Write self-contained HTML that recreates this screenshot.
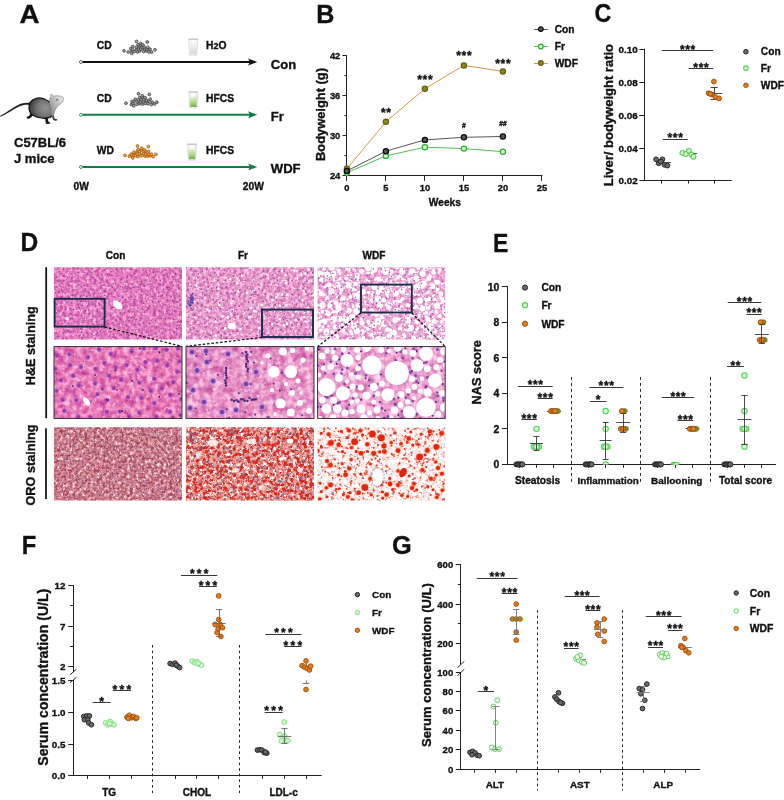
<!DOCTYPE html>
<html><head><meta charset="utf-8"><title>Figure</title>
<style>html,body{margin:0;padding:0;background:#fff}svg{display:block;opacity:.9999}text{font-family:"Liberation Sans",sans-serif;stroke:#111;stroke-width:.34px}</style>
</head><body>
<svg width="784" height="800" viewBox="0 0 784 800">
<defs>
<linearGradient id="gl" x1="0" y1="0" x2="1" y2="0"><stop offset="0" stop-color="#ececec"/><stop offset=".5" stop-color="#ffffff"/><stop offset="1" stop-color="#e6e6e6"/></linearGradient>
<linearGradient id="gw" x1="0" y1="0" x2="0" y2="1"><stop offset="0" stop-color="#f6f6f6"/><stop offset="1" stop-color="#d9d9d9"/></linearGradient>
<linearGradient id="gg" x1="0" y1="0" x2="0" y2="1"><stop offset="0" stop-color="#e6f2dc"/><stop offset=".5" stop-color="#b5d995"/><stop offset="1" stop-color="#74b042"/></linearGradient>
<radialGradient id="mb" cx=".72" cy=".5" r=".75"><stop offset="0" stop-color="#949494"/><stop offset=".5" stop-color="#747474"/><stop offset="1" stop-color="#303030"/></radialGradient>
<linearGradient id="mh" x1="0" y1="1" x2="1" y2="0"><stop offset="0" stop-color="#7a7a7a"/><stop offset=".5" stop-color="#b4b4b4"/><stop offset="1" stop-color="#f4f4f4"/></linearGradient>
<filter id="sb" x="-5%" y="-5%" width="110%" height="110%"><feGaussianBlur stdDeviation="0.4"/></filter>
<filter id="t1" x="0" y="0" width="100%" height="100%" color-interpolation-filters="sRGB"><feTurbulence type="fractalNoise" baseFrequency="0.3" numOctaves="3" seed="3" result="t"/><feColorMatrix in="t" type="matrix" values="1 0 0 0 0 0 1 0 0 0 0 0 1 0 0 0 0 0 0 1" result="n"/><feColorMatrix in="n" type="matrix" values="0.400 0.000 0.000 0 0.686 0.620 0.000 0.000 0 0.176 0.400 0.000 0.000 0 0.537 0 0 0 0 1" result="L0"/><feColorMatrix in="n" type="matrix" values="0 0 0 0 0.973 0 0 0 0 0.812 0 0 0 0 0.914 0 0 6 0 -3.660" result="M0"/><feComponentTransfer in="M0" result="M0"><feFuncA type="linear" slope="0.8"/></feComponentTransfer><feMerge><feMergeNode in="L0"/><feMergeNode in="M0"/></feMerge><feGaussianBlur stdDeviation="0.3"/></filter>
<filter id="t2" x="0" y="0" width="100%" height="100%" color-interpolation-filters="sRGB"><feTurbulence type="fractalNoise" baseFrequency="0.3" numOctaves="3" seed="8" result="t"/><feColorMatrix in="t" type="matrix" values="1 0 0 0 0 0 1 0 0 0 0 0 1 0 0 0 0 0 0 1" result="n"/><feColorMatrix in="n" type="matrix" values="0.400 0.000 0.000 0 0.702 0.600 0.000 0.000 0 0.292 0.400 0.000 0.000 0 0.588 0 0 0 0 1" result="L0"/><feColorMatrix in="n" type="matrix" values="0 0 0 0 0.988 0 0 0 0 0.902 0 0 0 0 0.957 0 0 6 0 -3.480" result="M0"/><feComponentTransfer in="M0" result="M0"><feFuncA type="linear" slope="0.9"/></feComponentTransfer><feMerge><feMergeNode in="L0"/><feMergeNode in="M0"/></feMerge><feGaussianBlur stdDeviation="0.3"/></filter>
<filter id="t3" x="0" y="0" width="100%" height="100%" color-interpolation-filters="sRGB"><feTurbulence type="fractalNoise" baseFrequency="0.28" numOctaves="3" seed="12" result="t"/><feColorMatrix in="t" type="matrix" values="1 0 0 0 0 0 1 0 0 0 0 0 1 0 0 0 0 0 0 1" result="n"/><feColorMatrix in="n" type="matrix" values="0.350 0.000 0.000 0 0.743 0.550 0.000 0.000 0 0.352 0.350 0.000 0.000 0 0.641 0 0 0 0 1" result="L0"/><feColorMatrix in="n" type="matrix" values="0 0 0 0 1.000 0 0 0 0 1.000 0 0 0 0 1.000 0 0 7 0 -3.920" result="M0"/><feMerge><feMergeNode in="L0"/><feMergeNode in="M0"/></feMerge><feGaussianBlur stdDeviation="0.3"/></filter>
<filter id="t4" x="0" y="0" width="100%" height="100%" color-interpolation-filters="sRGB"><feTurbulence type="fractalNoise" baseFrequency="0.17" numOctaves="3" seed="21" result="t"/><feColorMatrix in="t" type="matrix" values="1 0 0 0 0 0 1 0 0 0 0 0 1 0 0 0 0 0 0 1" result="n"/><feColorMatrix in="n" type="matrix" values="0.400 0.000 0.000 0 0.694 0.750 0.000 0.000 0 0.092 0.450 0.000 0.000 0 0.489 0 0 0 0 1" result="L0"/><feColorMatrix in="n" type="matrix" values="0 0 0 0 0.969 0 0 0 0 0.749 0 0 0 0 0.878 0 0 6 0 -3.540" result="M0"/><feComponentTransfer in="M0" result="M0"><feFuncA type="linear" slope="0.8"/></feComponentTransfer><feMerge><feMergeNode in="L0"/><feMergeNode in="M0"/></feMerge><feGaussianBlur stdDeviation="0.4"/></filter>
<filter id="t5" x="0" y="0" width="100%" height="100%" color-interpolation-filters="sRGB"><feTurbulence type="fractalNoise" baseFrequency="0.15" numOctaves="3" seed="33" result="t"/><feColorMatrix in="t" type="matrix" values="1 0 0 0 0 0 1 0 0 0 0 0 1 0 0 0 0 0 0 1" result="n"/><feColorMatrix in="n" type="matrix" values="0.400 0.000 0.000 0 0.698 0.750 0.000 0.000 0 0.186 0.450 0.000 0.000 0 0.544 0 0 0 0 1" result="L0"/><feColorMatrix in="n" type="matrix" values="0 0 0 0 0.976 0 0 0 0 0.827 0 0 0 0 0.918 0 0 6 0 -3.540" result="M0"/><feComponentTransfer in="M0" result="M0"><feFuncA type="linear" slope="0.85"/></feComponentTransfer><feMerge><feMergeNode in="L0"/><feMergeNode in="M0"/></feMerge><feGaussianBlur stdDeviation="0.4"/></filter>
<filter id="t6" x="0" y="0" width="100%" height="100%" color-interpolation-filters="sRGB"><feTurbulence type="fractalNoise" baseFrequency="0.16" numOctaves="3" seed="41" result="t"/><feColorMatrix in="t" type="matrix" values="1 0 0 0 0 0 1 0 0 0 0 0 1 0 0 0 0 0 0 1" result="n"/><feColorMatrix in="n" type="matrix" values="0.400 0.000 0.000 0 0.722 0.700 0.000 0.000 0 0.262 0.450 0.000 0.000 0 0.579 0 0 0 0 1" result="L0"/><feColorMatrix in="n" type="matrix" values="0 0 0 0 0.980 0 0 0 0 0.847 0 0 0 0 0.925 0 0 6 0 -3.540" result="M0"/><feComponentTransfer in="M0" result="M0"><feFuncA type="linear" slope="0.85"/></feComponentTransfer><feMerge><feMergeNode in="L0"/><feMergeNode in="M0"/></feMerge><feGaussianBlur stdDeviation="0.4"/></filter>
<filter id="t7" x="0" y="0" width="100%" height="100%" color-interpolation-filters="sRGB"><feTurbulence type="fractalNoise" baseFrequency="0.33" numOctaves="3" seed="51" result="t"/><feColorMatrix in="t" type="matrix" values="1 0 0 0 0 0 1 0 0 0 0 0 1 0 0 0 0 0 0 1" result="n"/><feColorMatrix in="n" type="matrix" values="0.500 0.000 0.000 0 0.577 0.750 0.000 0.000 0 0.166 0.600 0.000 0.000 0 0.288 0 0 0 0 1" result="L0"/><feColorMatrix in="n" type="matrix" values="0 0 0 0 0.612 0 0 0 0 0.220 0 0 0 0 0.314 0 6 0 0 -3.300" result="M0"/><feComponentTransfer in="M0" result="M0"><feFuncA type="linear" slope="0.8"/></feComponentTransfer><feColorMatrix in="n" type="matrix" values="0 0 0 0 0.486 0 0 0 0 0.353 0 0 0 0 0.565 0 0 7 0 -4.410" result="M1"/><feComponentTransfer in="M1" result="M1"><feFuncA type="linear" slope="0.65"/></feComponentTransfer><feColorMatrix in="n" type="matrix" values="0 0 0 0 0.980 0 0 0 0 0.894 0 0 0 0 0.902 7 0 0 0 -4.410" result="M2"/><feComponentTransfer in="M2" result="M2"><feFuncA type="linear" slope="0.9"/></feComponentTransfer><feMerge><feMergeNode in="L0"/><feMergeNode in="M0"/><feMergeNode in="M1"/><feMergeNode in="M2"/></feMerge><feGaussianBlur stdDeviation="0.3"/></filter>
<filter id="t8" x="0" y="0" width="100%" height="100%" color-interpolation-filters="sRGB"><feTurbulence type="fractalNoise" baseFrequency="0.3" numOctaves="3" seed="61" result="t"/><feColorMatrix in="t" type="matrix" values="1 0 0 0 0 0 1 0 0 0 0 0 1 0 0 0 0 0 0 1" result="n"/><feColorMatrix in="n" type="matrix" values="0.300 0.000 0.000 0 0.779 0.700 0.000 0.000 0 0.301 0.700 0.000 0.000 0 0.270 0 0 0 0 1" result="L0"/><feColorMatrix in="n" type="matrix" values="0 0 0 0 0.839 0 0 0 0 0.149 0 0 0 0 0.106 0 7 0 0 -3.535" result="M0"/><feComponentTransfer in="M0" result="M0"><feFuncA type="linear" slope="0.95"/></feComponentTransfer><feColorMatrix in="n" type="matrix" values="0 0 0 0 0.478 0 0 0 0 0.290 0 0 0 0 0.471 0 0 7 0 -4.200" result="M1"/><feComponentTransfer in="M1" result="M1"><feFuncA type="linear" slope="0.75"/></feComponentTransfer><feColorMatrix in="n" type="matrix" values="0 0 0 0 1.000 0 0 0 0 1.000 0 0 0 0 1.000 7 0 0 0 -4.130" result="M2"/><feMerge><feMergeNode in="L0"/><feMergeNode in="M0"/><feMergeNode in="M1"/><feMergeNode in="M2"/></feMerge><feGaussianBlur stdDeviation="0.3"/></filter>
<filter id="t9" x="0" y="0" width="100%" height="100%" color-interpolation-filters="sRGB"><feTurbulence type="fractalNoise" baseFrequency="0.26" numOctaves="3" seed="71" result="t"/><feColorMatrix in="t" type="matrix" values="1 0 0 0 0 0 1 0 0 0 0 0 1 0 0 0 0 0 0 1" result="n"/><feColorMatrix in="n" type="matrix" values="0.060 0.000 0.000 0 0.962 0.220 0.000 0.000 0 0.823 0.220 0.000 0.000 0 0.808 0 0 0 0 1" result="L0"/><feColorMatrix in="n" type="matrix" values="0 0 0 0 0.541 0 0 0 0 0.502 0 0 0 0 0.667 0 0 7 0 -4.480" result="M0"/><feComponentTransfer in="M0" result="M0"><feFuncA type="linear" slope="0.7"/></feComponentTransfer><feColorMatrix in="n" type="matrix" values="0 0 0 0 0.933 0 0 0 0 0.290 0 0 0 0 0.173 0 7 0 0 -4.130" result="M1"/><feComponentTransfer in="M1" result="M1"><feFuncA type="linear" slope="0.9"/></feComponentTransfer><feColorMatrix in="n" type="matrix" values="0 0 0 0 1.000 0 0 0 0 1.000 0 0 0 0 1.000 7 0 0 0 -3.640" result="M2"/><feMerge><feMergeNode in="L0"/><feMergeNode in="M0"/><feMergeNode in="M1"/><feMergeNode in="M2"/></feMerge><feGaussianBlur stdDeviation="0.3"/></filter>

</defs>
<rect width="784" height="800" fill="#fff"/>
<text transform="translate(19.6 22.8) scale(1.05 1)" font-size="26.4" font-weight="bold" fill="#111" stroke="#111" stroke-width="0.35">A</text>
<line x1="82.5" y1="62" x2="250" y2="62" stroke="#111" stroke-width="1.9"/>
<path d="M257.3 62L248 58.4L250 62L248 65.6Z" fill="#111"/>
<circle cx="81" cy="62" r="1.5" fill="#fff" stroke="#444" stroke-width="0.8"/>
<line x1="82.5" y1="114.8" x2="250" y2="114.8" stroke="#0f8148" stroke-width="1.9"/>
<path d="M257.3 114.8L248 111.2L250 114.8L248 118.4Z" fill="#0f8148"/>
<circle cx="81" cy="114.8" r="1.5" fill="#fff" stroke="#0f8148" stroke-width="0.8"/>
<line x1="82.5" y1="167" x2="250" y2="167" stroke="#0f8148" stroke-width="1.9"/>
<path d="M257.3 167L248 163.4L250 167L248 170.6Z" fill="#0f8148"/>
<circle cx="81" cy="167" r="1.5" fill="#fff" stroke="#0f8148" stroke-width="0.8"/>
<text x="96.8" y="49.2" font-size="10.3" text-anchor="start" fill="#111" font-weight="bold">CD</text>
<text x="96.8" y="101.6" font-size="10.3" text-anchor="start" fill="#111" font-weight="bold">CD</text>
<text x="96.8" y="154.2" font-size="10.3" text-anchor="start" fill="#111" font-weight="bold">WD</text>
<text x="206" y="49.2" font-size="10.3" text-anchor="start" fill="#111" font-weight="bold">H<tspan font-size="9">2</tspan>O</text>
<text x="206" y="101.7" font-size="10.3" text-anchor="start" fill="#111" font-weight="bold">HFCS</text>
<text x="206" y="154.3" font-size="10.3" text-anchor="start" fill="#111" font-weight="bold">HFCS</text>
<text x="270.8" y="69" font-size="13.1" text-anchor="start" fill="#111" font-weight="bold">Con</text>
<text x="270.8" y="121.3" font-size="13.1" text-anchor="start" fill="#111" font-weight="bold">Fr</text>
<text x="270.8" y="173.3" font-size="13.1" text-anchor="start" fill="#111" font-weight="bold">WDF</text>
<text x="73.5" y="190.4" font-size="10.2" text-anchor="start" fill="#111" font-weight="bold">0W</text>
<text x="242.8" y="190.4" font-size="10.2" text-anchor="start" fill="#111" font-weight="bold">20W</text>
<text x="14" y="146.9" font-size="13.0" text-anchor="start" fill="#111" font-weight="bold">C57BL/6</text>
<text x="14" y="162.8" font-size="13.0" text-anchor="start" fill="#111" font-weight="bold">J mice</text>
<circle cx="128.19" cy="52.02" r="1.45" fill="#858585" stroke="#383838" stroke-width="0.6"/>
<circle cx="127.99" cy="51.82" r="0.6" fill="#d8d8d8" fill-opacity=".55"/>
<circle cx="131.97" cy="51.31" r="1.45" fill="#858585" stroke="#383838" stroke-width="0.6"/>
<circle cx="131.77" cy="51.11" r="0.6" fill="#d8d8d8" fill-opacity=".55"/>
<circle cx="134.49" cy="51.54" r="1.45" fill="#858585" stroke="#383838" stroke-width="0.6"/>
<circle cx="134.29" cy="51.34" r="0.6" fill="#d8d8d8" fill-opacity=".55"/>
<circle cx="137.61" cy="51.95" r="1.45" fill="#858585" stroke="#383838" stroke-width="0.6"/>
<circle cx="137.41" cy="51.75" r="0.6" fill="#d8d8d8" fill-opacity=".55"/>
<circle cx="139.73" cy="51.03" r="1.45" fill="#858585" stroke="#383838" stroke-width="0.6"/>
<circle cx="139.53" cy="50.83" r="0.6" fill="#d8d8d8" fill-opacity=".55"/>
<circle cx="143.67" cy="51.52" r="1.45" fill="#858585" stroke="#383838" stroke-width="0.6"/>
<circle cx="143.47" cy="51.32" r="0.6" fill="#d8d8d8" fill-opacity=".55"/>
<circle cx="146.47" cy="51" r="1.45" fill="#858585" stroke="#383838" stroke-width="0.6"/>
<circle cx="146.27" cy="50.8" r="0.6" fill="#d8d8d8" fill-opacity=".55"/>
<circle cx="148.92" cy="51.87" r="1.45" fill="#858585" stroke="#383838" stroke-width="0.6"/>
<circle cx="148.72" cy="51.67" r="0.6" fill="#d8d8d8" fill-opacity=".55"/>
<circle cx="151.52" cy="52.13" r="1.45" fill="#858585" stroke="#383838" stroke-width="0.6"/>
<circle cx="151.32" cy="51.93" r="0.6" fill="#d8d8d8" fill-opacity=".55"/>
<circle cx="130.71" cy="48.74" r="1.45" fill="#858585" stroke="#383838" stroke-width="0.6"/>
<circle cx="130.51" cy="48.54" r="0.6" fill="#d8d8d8" fill-opacity=".55"/>
<circle cx="132.39" cy="49.35" r="1.45" fill="#858585" stroke="#383838" stroke-width="0.6"/>
<circle cx="132.19" cy="49.15" r="0.6" fill="#d8d8d8" fill-opacity=".55"/>
<circle cx="136.56" cy="49.16" r="1.45" fill="#858585" stroke="#383838" stroke-width="0.6"/>
<circle cx="136.36" cy="48.96" r="0.6" fill="#d8d8d8" fill-opacity=".55"/>
<circle cx="138.45" cy="49.21" r="1.45" fill="#858585" stroke="#383838" stroke-width="0.6"/>
<circle cx="138.25" cy="49.01" r="0.6" fill="#d8d8d8" fill-opacity=".55"/>
<circle cx="141.09" cy="48.97" r="1.45" fill="#858585" stroke="#383838" stroke-width="0.6"/>
<circle cx="140.89" cy="48.77" r="0.6" fill="#d8d8d8" fill-opacity=".55"/>
<circle cx="144.56" cy="49.29" r="1.45" fill="#858585" stroke="#383838" stroke-width="0.6"/>
<circle cx="144.36" cy="49.09" r="0.6" fill="#d8d8d8" fill-opacity=".55"/>
<circle cx="147.18" cy="48.98" r="1.45" fill="#858585" stroke="#383838" stroke-width="0.6"/>
<circle cx="146.98" cy="48.78" r="0.6" fill="#d8d8d8" fill-opacity=".55"/>
<circle cx="150.06" cy="49.25" r="1.45" fill="#858585" stroke="#383838" stroke-width="0.6"/>
<circle cx="149.86" cy="49.05" r="0.6" fill="#d8d8d8" fill-opacity=".55"/>
<circle cx="132.76" cy="46.53" r="1.45" fill="#858585" stroke="#383838" stroke-width="0.6"/>
<circle cx="132.56" cy="46.33" r="0.6" fill="#d8d8d8" fill-opacity=".55"/>
<circle cx="136.42" cy="47.17" r="1.45" fill="#858585" stroke="#383838" stroke-width="0.6"/>
<circle cx="136.22" cy="46.97" r="0.6" fill="#d8d8d8" fill-opacity=".55"/>
<circle cx="139.05" cy="46.72" r="1.45" fill="#858585" stroke="#383838" stroke-width="0.6"/>
<circle cx="138.85" cy="46.52" r="0.6" fill="#d8d8d8" fill-opacity=".55"/>
<circle cx="142.44" cy="47.53" r="1.45" fill="#858585" stroke="#383838" stroke-width="0.6"/>
<circle cx="142.24" cy="47.33" r="0.6" fill="#d8d8d8" fill-opacity=".55"/>
<circle cx="144.12" cy="46.9" r="1.45" fill="#858585" stroke="#383838" stroke-width="0.6"/>
<circle cx="143.92" cy="46.7" r="0.6" fill="#d8d8d8" fill-opacity=".55"/>
<circle cx="147.86" cy="47.35" r="1.45" fill="#858585" stroke="#383838" stroke-width="0.6"/>
<circle cx="147.66" cy="47.15" r="0.6" fill="#d8d8d8" fill-opacity=".55"/>
<circle cx="138.01" cy="44.81" r="1.45" fill="#858585" stroke="#383838" stroke-width="0.6"/>
<circle cx="137.81" cy="44.61" r="0.6" fill="#d8d8d8" fill-opacity=".55"/>
<circle cx="140.76" cy="45.1" r="1.45" fill="#858585" stroke="#383838" stroke-width="0.6"/>
<circle cx="140.56" cy="44.9" r="0.6" fill="#d8d8d8" fill-opacity=".55"/>
<circle cx="142.92" cy="45.01" r="1.45" fill="#858585" stroke="#383838" stroke-width="0.6"/>
<circle cx="142.72" cy="44.81" r="0.6" fill="#d8d8d8" fill-opacity=".55"/>
<circle cx="140.84" cy="43.42" r="1.45" fill="#858585" stroke="#383838" stroke-width="0.6"/>
<circle cx="140.64" cy="43.22" r="0.6" fill="#d8d8d8" fill-opacity=".55"/>
<circle cx="124" cy="50.8" r="1.45" fill="#858585" stroke="#383838" stroke-width="0.6"/>
<circle cx="123.8" cy="50.6" r="0.6" fill="#d8d8d8" fill-opacity=".55"/>
<circle cx="154.9" cy="49.8" r="1.45" fill="#858585" stroke="#383838" stroke-width="0.6"/>
<circle cx="154.7" cy="49.6" r="0.6" fill="#d8d8d8" fill-opacity=".55"/>
<circle cx="131.8" cy="53.4" r="1.45" fill="#858585" stroke="#383838" stroke-width="0.6"/>
<circle cx="131.6" cy="53.2" r="0.6" fill="#d8d8d8" fill-opacity=".55"/>
<circle cx="136.5" cy="41.4" r="1.45" fill="#858585" stroke="#383838" stroke-width="0.6"/>
<circle cx="136.3" cy="41.2" r="0.6" fill="#d8d8d8" fill-opacity=".55"/>
<circle cx="147.3" cy="42" r="1.45" fill="#858585" stroke="#383838" stroke-width="0.6"/>
<circle cx="147.1" cy="41.8" r="0.6" fill="#d8d8d8" fill-opacity=".55"/>
<circle cx="131.34" cy="104.54" r="1.45" fill="#858585" stroke="#383838" stroke-width="0.6"/>
<circle cx="131.14" cy="104.34" r="0.6" fill="#d8d8d8" fill-opacity=".55"/>
<circle cx="132.98" cy="103.5" r="1.45" fill="#858585" stroke="#383838" stroke-width="0.6"/>
<circle cx="132.78" cy="103.3" r="0.6" fill="#d8d8d8" fill-opacity=".55"/>
<circle cx="136.97" cy="104.28" r="1.45" fill="#858585" stroke="#383838" stroke-width="0.6"/>
<circle cx="136.77" cy="104.08" r="0.6" fill="#d8d8d8" fill-opacity=".55"/>
<circle cx="139.64" cy="103.77" r="1.45" fill="#858585" stroke="#383838" stroke-width="0.6"/>
<circle cx="139.44" cy="103.57" r="0.6" fill="#d8d8d8" fill-opacity=".55"/>
<circle cx="142.45" cy="104.13" r="1.45" fill="#858585" stroke="#383838" stroke-width="0.6"/>
<circle cx="142.25" cy="103.93" r="0.6" fill="#d8d8d8" fill-opacity=".55"/>
<circle cx="145.31" cy="103.59" r="1.45" fill="#858585" stroke="#383838" stroke-width="0.6"/>
<circle cx="145.11" cy="103.39" r="0.6" fill="#d8d8d8" fill-opacity=".55"/>
<circle cx="148" cy="103.87" r="1.45" fill="#858585" stroke="#383838" stroke-width="0.6"/>
<circle cx="147.8" cy="103.67" r="0.6" fill="#d8d8d8" fill-opacity=".55"/>
<circle cx="151.31" cy="104.59" r="1.45" fill="#858585" stroke="#383838" stroke-width="0.6"/>
<circle cx="151.11" cy="104.39" r="0.6" fill="#d8d8d8" fill-opacity=".55"/>
<circle cx="154.53" cy="104.05" r="1.45" fill="#858585" stroke="#383838" stroke-width="0.6"/>
<circle cx="154.33" cy="103.85" r="0.6" fill="#d8d8d8" fill-opacity=".55"/>
<circle cx="132.07" cy="101.42" r="1.45" fill="#858585" stroke="#383838" stroke-width="0.6"/>
<circle cx="131.87" cy="101.22" r="0.6" fill="#d8d8d8" fill-opacity=".55"/>
<circle cx="134.4" cy="101.13" r="1.45" fill="#858585" stroke="#383838" stroke-width="0.6"/>
<circle cx="134.2" cy="100.93" r="0.6" fill="#d8d8d8" fill-opacity=".55"/>
<circle cx="137.9" cy="101.48" r="1.45" fill="#858585" stroke="#383838" stroke-width="0.6"/>
<circle cx="137.7" cy="101.28" r="0.6" fill="#d8d8d8" fill-opacity=".55"/>
<circle cx="140.68" cy="102.17" r="1.45" fill="#858585" stroke="#383838" stroke-width="0.6"/>
<circle cx="140.48" cy="101.97" r="0.6" fill="#d8d8d8" fill-opacity=".55"/>
<circle cx="143.79" cy="101.77" r="1.45" fill="#858585" stroke="#383838" stroke-width="0.6"/>
<circle cx="143.59" cy="101.57" r="0.6" fill="#d8d8d8" fill-opacity=".55"/>
<circle cx="146.28" cy="101.13" r="1.45" fill="#858585" stroke="#383838" stroke-width="0.6"/>
<circle cx="146.08" cy="100.93" r="0.6" fill="#d8d8d8" fill-opacity=".55"/>
<circle cx="149.31" cy="101.26" r="1.45" fill="#858585" stroke="#383838" stroke-width="0.6"/>
<circle cx="149.11" cy="101.06" r="0.6" fill="#d8d8d8" fill-opacity=".55"/>
<circle cx="152.46" cy="102.3" r="1.45" fill="#858585" stroke="#383838" stroke-width="0.6"/>
<circle cx="152.26" cy="102.1" r="0.6" fill="#d8d8d8" fill-opacity=".55"/>
<circle cx="135.29" cy="99.12" r="1.45" fill="#858585" stroke="#383838" stroke-width="0.6"/>
<circle cx="135.09" cy="98.92" r="0.6" fill="#d8d8d8" fill-opacity=".55"/>
<circle cx="138.5" cy="99.86" r="1.45" fill="#858585" stroke="#383838" stroke-width="0.6"/>
<circle cx="138.3" cy="99.66" r="0.6" fill="#d8d8d8" fill-opacity=".55"/>
<circle cx="141.18" cy="99.99" r="1.45" fill="#858585" stroke="#383838" stroke-width="0.6"/>
<circle cx="140.98" cy="99.79" r="0.6" fill="#d8d8d8" fill-opacity=".55"/>
<circle cx="144.12" cy="99.85" r="1.45" fill="#858585" stroke="#383838" stroke-width="0.6"/>
<circle cx="143.92" cy="99.65" r="0.6" fill="#d8d8d8" fill-opacity=".55"/>
<circle cx="146.45" cy="100.08" r="1.45" fill="#858585" stroke="#383838" stroke-width="0.6"/>
<circle cx="146.25" cy="99.88" r="0.6" fill="#d8d8d8" fill-opacity=".55"/>
<circle cx="150.2" cy="99.09" r="1.45" fill="#858585" stroke="#383838" stroke-width="0.6"/>
<circle cx="150" cy="98.89" r="0.6" fill="#d8d8d8" fill-opacity=".55"/>
<circle cx="139.76" cy="97.56" r="1.45" fill="#858585" stroke="#383838" stroke-width="0.6"/>
<circle cx="139.56" cy="97.36" r="0.6" fill="#d8d8d8" fill-opacity=".55"/>
<circle cx="142.25" cy="97.34" r="1.45" fill="#858585" stroke="#383838" stroke-width="0.6"/>
<circle cx="142.05" cy="97.14" r="0.6" fill="#d8d8d8" fill-opacity=".55"/>
<circle cx="145.19" cy="97.81" r="1.45" fill="#858585" stroke="#383838" stroke-width="0.6"/>
<circle cx="144.99" cy="97.61" r="0.6" fill="#d8d8d8" fill-opacity=".55"/>
<circle cx="142.3" cy="95.8" r="1.45" fill="#858585" stroke="#383838" stroke-width="0.6"/>
<circle cx="142.1" cy="95.6" r="0.6" fill="#d8d8d8" fill-opacity=".55"/>
<circle cx="126" cy="103.2" r="1.45" fill="#858585" stroke="#383838" stroke-width="0.6"/>
<circle cx="125.8" cy="103" r="0.6" fill="#d8d8d8" fill-opacity=".55"/>
<circle cx="156.9" cy="102.2" r="1.45" fill="#858585" stroke="#383838" stroke-width="0.6"/>
<circle cx="156.7" cy="102" r="0.6" fill="#d8d8d8" fill-opacity=".55"/>
<circle cx="133.8" cy="105.8" r="1.45" fill="#858585" stroke="#383838" stroke-width="0.6"/>
<circle cx="133.6" cy="105.6" r="0.6" fill="#d8d8d8" fill-opacity=".55"/>
<circle cx="138.5" cy="93.8" r="1.45" fill="#858585" stroke="#383838" stroke-width="0.6"/>
<circle cx="138.3" cy="93.6" r="0.6" fill="#d8d8d8" fill-opacity=".55"/>
<circle cx="149.3" cy="94.4" r="1.45" fill="#858585" stroke="#383838" stroke-width="0.6"/>
<circle cx="149.1" cy="94.2" r="0.6" fill="#d8d8d8" fill-opacity=".55"/>
<circle cx="129.33" cy="156.25" r="1.45" fill="#ee9420" stroke="#8a4a12" stroke-width="0.6"/>
<circle cx="129.13" cy="156.05" r="0.6" fill="#ffd07a" fill-opacity=".55"/>
<circle cx="132.42" cy="156.32" r="1.45" fill="#ee9420" stroke="#8a4a12" stroke-width="0.6"/>
<circle cx="132.22" cy="156.12" r="0.6" fill="#ffd07a" fill-opacity=".55"/>
<circle cx="135.68" cy="155.68" r="1.45" fill="#ee9420" stroke="#8a4a12" stroke-width="0.6"/>
<circle cx="135.48" cy="155.48" r="0.6" fill="#ffd07a" fill-opacity=".55"/>
<circle cx="137.72" cy="156.6" r="1.45" fill="#ee9420" stroke="#8a4a12" stroke-width="0.6"/>
<circle cx="137.52" cy="156.4" r="0.6" fill="#ffd07a" fill-opacity=".55"/>
<circle cx="140.96" cy="155.88" r="1.45" fill="#ee9420" stroke="#8a4a12" stroke-width="0.6"/>
<circle cx="140.76" cy="155.68" r="0.6" fill="#ffd07a" fill-opacity=".55"/>
<circle cx="144.89" cy="156.16" r="1.45" fill="#ee9420" stroke="#8a4a12" stroke-width="0.6"/>
<circle cx="144.69" cy="155.96" r="0.6" fill="#ffd07a" fill-opacity=".55"/>
<circle cx="147.57" cy="156.17" r="1.45" fill="#ee9420" stroke="#8a4a12" stroke-width="0.6"/>
<circle cx="147.37" cy="155.97" r="0.6" fill="#ffd07a" fill-opacity=".55"/>
<circle cx="150.19" cy="155.78" r="1.45" fill="#ee9420" stroke="#8a4a12" stroke-width="0.6"/>
<circle cx="149.99" cy="155.58" r="0.6" fill="#ffd07a" fill-opacity=".55"/>
<circle cx="153.09" cy="156.64" r="1.45" fill="#ee9420" stroke="#8a4a12" stroke-width="0.6"/>
<circle cx="152.89" cy="156.44" r="0.6" fill="#ffd07a" fill-opacity=".55"/>
<circle cx="131.18" cy="154.19" r="1.45" fill="#ee9420" stroke="#8a4a12" stroke-width="0.6"/>
<circle cx="130.98" cy="153.99" r="0.6" fill="#ffd07a" fill-opacity=".55"/>
<circle cx="134.29" cy="153.38" r="1.45" fill="#ee9420" stroke="#8a4a12" stroke-width="0.6"/>
<circle cx="134.09" cy="153.18" r="0.6" fill="#ffd07a" fill-opacity=".55"/>
<circle cx="137.31" cy="154.01" r="1.45" fill="#ee9420" stroke="#8a4a12" stroke-width="0.6"/>
<circle cx="137.11" cy="153.81" r="0.6" fill="#ffd07a" fill-opacity=".55"/>
<circle cx="139.57" cy="153.34" r="1.45" fill="#ee9420" stroke="#8a4a12" stroke-width="0.6"/>
<circle cx="139.37" cy="153.14" r="0.6" fill="#ffd07a" fill-opacity=".55"/>
<circle cx="143.26" cy="153.87" r="1.45" fill="#ee9420" stroke="#8a4a12" stroke-width="0.6"/>
<circle cx="143.06" cy="153.67" r="0.6" fill="#ffd07a" fill-opacity=".55"/>
<circle cx="145.96" cy="154.35" r="1.45" fill="#ee9420" stroke="#8a4a12" stroke-width="0.6"/>
<circle cx="145.76" cy="154.15" r="0.6" fill="#ffd07a" fill-opacity=".55"/>
<circle cx="148.85" cy="154.41" r="1.45" fill="#ee9420" stroke="#8a4a12" stroke-width="0.6"/>
<circle cx="148.65" cy="154.21" r="0.6" fill="#ffd07a" fill-opacity=".55"/>
<circle cx="151.3" cy="154.26" r="1.45" fill="#ee9420" stroke="#8a4a12" stroke-width="0.6"/>
<circle cx="151.1" cy="154.06" r="0.6" fill="#ffd07a" fill-opacity=".55"/>
<circle cx="133.97" cy="152.22" r="1.45" fill="#ee9420" stroke="#8a4a12" stroke-width="0.6"/>
<circle cx="133.77" cy="152.02" r="0.6" fill="#ffd07a" fill-opacity=".55"/>
<circle cx="137.48" cy="151.22" r="1.45" fill="#ee9420" stroke="#8a4a12" stroke-width="0.6"/>
<circle cx="137.28" cy="151.02" r="0.6" fill="#ffd07a" fill-opacity=".55"/>
<circle cx="139.34" cy="151.36" r="1.45" fill="#ee9420" stroke="#8a4a12" stroke-width="0.6"/>
<circle cx="139.14" cy="151.16" r="0.6" fill="#ffd07a" fill-opacity=".55"/>
<circle cx="143.4" cy="151.62" r="1.45" fill="#ee9420" stroke="#8a4a12" stroke-width="0.6"/>
<circle cx="143.2" cy="151.42" r="0.6" fill="#ffd07a" fill-opacity=".55"/>
<circle cx="145.83" cy="151.46" r="1.45" fill="#ee9420" stroke="#8a4a12" stroke-width="0.6"/>
<circle cx="145.63" cy="151.26" r="0.6" fill="#ffd07a" fill-opacity=".55"/>
<circle cx="148.56" cy="151.56" r="1.45" fill="#ee9420" stroke="#8a4a12" stroke-width="0.6"/>
<circle cx="148.36" cy="151.36" r="0.6" fill="#ffd07a" fill-opacity=".55"/>
<circle cx="138.19" cy="149.6" r="1.45" fill="#ee9420" stroke="#8a4a12" stroke-width="0.6"/>
<circle cx="137.99" cy="149.4" r="0.6" fill="#ffd07a" fill-opacity=".55"/>
<circle cx="141.42" cy="149.99" r="1.45" fill="#ee9420" stroke="#8a4a12" stroke-width="0.6"/>
<circle cx="141.22" cy="149.79" r="0.6" fill="#ffd07a" fill-opacity=".55"/>
<circle cx="144.45" cy="150.01" r="1.45" fill="#ee9420" stroke="#8a4a12" stroke-width="0.6"/>
<circle cx="144.25" cy="149.81" r="0.6" fill="#ffd07a" fill-opacity=".55"/>
<circle cx="141.8" cy="148.19" r="1.45" fill="#ee9420" stroke="#8a4a12" stroke-width="0.6"/>
<circle cx="141.6" cy="147.99" r="0.6" fill="#ffd07a" fill-opacity=".55"/>
<circle cx="125" cy="155.4" r="1.45" fill="#ee9420" stroke="#8a4a12" stroke-width="0.6"/>
<circle cx="124.8" cy="155.2" r="0.6" fill="#ffd07a" fill-opacity=".55"/>
<circle cx="155.9" cy="154.4" r="1.45" fill="#ee9420" stroke="#8a4a12" stroke-width="0.6"/>
<circle cx="155.7" cy="154.2" r="0.6" fill="#ffd07a" fill-opacity=".55"/>
<circle cx="132.8" cy="158" r="1.45" fill="#ee9420" stroke="#8a4a12" stroke-width="0.6"/>
<circle cx="132.6" cy="157.8" r="0.6" fill="#ffd07a" fill-opacity=".55"/>
<circle cx="137.5" cy="146" r="1.45" fill="#ee9420" stroke="#8a4a12" stroke-width="0.6"/>
<circle cx="137.3" cy="145.8" r="0.6" fill="#ffd07a" fill-opacity=".55"/>
<circle cx="148.3" cy="146.6" r="1.45" fill="#ee9420" stroke="#8a4a12" stroke-width="0.6"/>
<circle cx="148.1" cy="146.4" r="0.6" fill="#ffd07a" fill-opacity=".55"/>
<g>
<path d="M188.6 38.8L197.8 38.8L196.8 55.2L189.6 55.2Z" fill="url(#gl)" stroke="#cfcfcf" stroke-width="0.6"/>
<path d="M189.4 42.8L197 42.8L196.3 54.2L190.1 54.2Z" fill="url(#gw)"/>
<line x1="188.8" y1="39.3" x2="197.6" y2="39.3" stroke="#bdbdbd" stroke-width="1.0"/>
</g>
<g>
<path d="M188.8 91.6L198 91.6L197 108L189.8 108Z" fill="url(#gl)" stroke="#cfcfcf" stroke-width="0.6"/>
<path d="M189.6 96.6L197.2 96.6L196.5 107L190.3 107Z" fill="url(#gg)"/>
<line x1="189" y1="92.1" x2="197.8" y2="92.1" stroke="#bdbdbd" stroke-width="1.0"/>
</g>
<g>
<path d="M187.4 143.8L196.6 143.8L195.6 160.2L188.4 160.2Z" fill="url(#gl)" stroke="#cfcfcf" stroke-width="0.6"/>
<path d="M188.2 148.8L195.8 148.8L195.1 159.2L188.9 159.2Z" fill="url(#gg)"/>
<line x1="187.6" y1="144.3" x2="196.4" y2="144.3" stroke="#bdbdbd" stroke-width="1.0"/>
</g>
<g>
<path d="M0 115.9C5 113.5 12 108.2 18 105C22 103 26 102.3 31 102.9L30.4 105C26.5 104.2 23 104.7 19 106.5C13 109.4 6 114.7 0.3 116.7Z" fill="#1c1c1c"/>
<path d="M30.6 112.3L33 115.6C31.6 117 30.5 118.3 28.6 118.7C27 118.9 26 117.9 26.9 117C27.8 116.2 28.8 116.3 29.4 115.2Z" fill="#151515"/>
<path d="M51.6 115L53.6 113.8C53.7 116 54.1 117.8 54.7 118.8C55.9 119 57.3 119.2 57.5 119.9C56.9 120.9 54.6 120.8 53.2 120.1C52.5 118.5 52 116.6 51.6 115Z" fill="#3a3a3a"/>
<path d="M48.5 101.6L50.5 97C50.1 95.4 50.9 93.8 51.7 94.2C52.5 94.6 52.7 95.6 53 96.4C55 95.5 58.5 95.3 61.6 96.5C63 97 63.9 97.8 63.7 98.7C63.5 100 62.9 101.5 62.5 102.3C61 103.6 59.5 105 58 106C56.5 107.6 55.1 110 54.6 111.3L53.7 114.8C52.6 116.6 51.5 117.4 50.2 117.7L48.6 108Z" fill="url(#mh)" stroke="#6e6e6e" stroke-width="0.5"/>
<path d="M29.9 102.7C31.5 100.3 34 98.9 35.7 98.6C38 97.6 42 97.6 45.5 99.5C47.5 100.4 49 101.6 50 103C51.6 107 52.4 112 50.6 115.5C49.6 117 48.9 117.6 48.2 117.9C46 118.7 43.5 118.5 42 118C39.5 117.7 37.5 117.4 35.7 116.7C33 115.6 31.2 114.5 30.4 113C29.2 111 28.8 109 29 107.6C29.1 105.5 29.3 104 29.9 102.7Z" fill="url(#mb)"/>
<path d="M49 101.8C47.8 100.6 46.8 100.1 45.5 99.5C42 97.6 38 97.6 35.7 98.6C34 98.9 31.5 100.3 29.9 102.7C29.3 104 29.1 105.5 29 107.6C28.8 109 29.2 111 30.4 113C31.2 114.5 33 115.6 35.7 116.7C37.5 117.4 39.5 117.7 42 118C43.5 118.5 46 118.7 48.2 117.9C49.6 117.5 50.6 116.8 51.4 115.8" fill="none" stroke="#141414" stroke-width="1.2" stroke-linecap="round"/>
<path d="M44.6 117.3L47.8 117.6C47.8 119.5 48.1 121 48.7 122C49.7 122.3 50.6 122.8 50.2 123.5C49 124.2 47 124.1 45.9 123.4C45.7 121.5 45.1 119.3 44.6 117.3Z" fill="#181818"/>
<circle cx="57.1" cy="99.7" r="0.8" fill="#2a2a2a"/>
<path d="M50.6 97.3C50.4 96 50.9 94.9 51.6 95.1C52.2 95.4 52.3 96.2 52.4 96.9Z" fill="#d4d4d4"/>
</g>
<text transform="translate(316.3 23) scale(0.95 1)" font-size="26.4" font-weight="bold" fill="#111" stroke="#111" stroke-width="0.35">B</text>
<line x1="346.5" y1="55.4" x2="346.5" y2="176.4" stroke="#222" stroke-width="1"/>
<line x1="346.4" y1="175.5" x2="542.5" y2="175.5" stroke="#222" stroke-width="1"/>
<line x1="342.5" y1="55.5" x2="346.9" y2="55.5" stroke="#222" stroke-width="1"/>
<text x="340.3" y="59.2" font-size="9.3" text-anchor="end" fill="#111" font-weight="bold">42</text>
<line x1="342.5" y1="95.5" x2="346.9" y2="95.5" stroke="#222" stroke-width="1"/>
<text x="340.3" y="99.2" font-size="9.3" text-anchor="end" fill="#111" font-weight="bold">36</text>
<line x1="342.5" y1="135.5" x2="346.9" y2="135.5" stroke="#222" stroke-width="1"/>
<text x="340.3" y="139.2" font-size="9.3" text-anchor="end" fill="#111" font-weight="bold">30</text>
<line x1="342.5" y1="175.5" x2="346.9" y2="175.5" stroke="#222" stroke-width="1"/>
<text x="340.3" y="179.2" font-size="9.3" text-anchor="end" fill="#111" font-weight="bold">24</text>
<line x1="344.4" y1="75.5" x2="346.9" y2="75.5" stroke="#222" stroke-width="1"/>
<line x1="344.4" y1="115.5" x2="346.9" y2="115.5" stroke="#222" stroke-width="1"/>
<line x1="344.4" y1="155.5" x2="346.9" y2="155.5" stroke="#222" stroke-width="1"/>
<line x1="346.5" y1="175.9" x2="346.5" y2="180.9" stroke="#222" stroke-width="1"/>
<text x="346.9" y="190.7" font-size="9.3" text-anchor="middle" fill="#111" font-weight="bold">0</text>
<line x1="385.5" y1="175.9" x2="385.5" y2="180.9" stroke="#222" stroke-width="1"/>
<text x="385.9" y="190.7" font-size="9.3" text-anchor="middle" fill="#111" font-weight="bold">5</text>
<line x1="424.5" y1="175.9" x2="424.5" y2="180.9" stroke="#222" stroke-width="1"/>
<text x="424.9" y="190.7" font-size="9.3" text-anchor="middle" fill="#111" font-weight="bold">10</text>
<line x1="463.5" y1="175.9" x2="463.5" y2="180.9" stroke="#222" stroke-width="1"/>
<text x="463.9" y="190.7" font-size="9.3" text-anchor="middle" fill="#111" font-weight="bold">15</text>
<line x1="502.5" y1="175.9" x2="502.5" y2="180.9" stroke="#222" stroke-width="1"/>
<text x="502.9" y="190.7" font-size="9.3" text-anchor="middle" fill="#111" font-weight="bold">20</text>
<line x1="541.5" y1="175.9" x2="541.5" y2="180.9" stroke="#222" stroke-width="1"/>
<text x="541.9" y="190.7" font-size="9.3" text-anchor="middle" fill="#111" font-weight="bold">25</text>
<text x="444.9" y="206.2" font-size="10.2" text-anchor="middle" fill="#111" font-weight="bold">Weeks</text>
<text x="325.1" y="114.5" font-size="12.9" text-anchor="middle" fill="#111" font-weight="bold" transform="rotate(-90 325.1 114.5)">Bodyweight (g)</text>
<polyline points="346.9,168.8 385.9,121.8 424.9,88.7 463.9,65.4 502.9,71.4" fill="none" stroke="#c8903a" stroke-width="0.9"/>
<circle cx="346.9" cy="168.8" r="2.6" fill="#8a8c18" stroke="#6b5a12" stroke-width="1.25"/>
<circle cx="385.9" cy="121.8" r="2.6" fill="#8a8c18" stroke="#6b5a12" stroke-width="1.25"/>
<circle cx="424.9" cy="88.7" r="2.6" fill="#8a8c18" stroke="#6b5a12" stroke-width="1.25"/>
<circle cx="463.9" cy="65.4" r="2.6" fill="#8a8c18" stroke="#6b5a12" stroke-width="1.25"/>
<circle cx="502.9" cy="71.4" r="2.6" fill="#8a8c18" stroke="#6b5a12" stroke-width="1.25"/>
<polyline points="346.9,172.7 385.9,155.9 424.9,147.2 463.9,148.6 502.9,151.7" fill="none" stroke="#3db53d" stroke-width="0.9"/>
<circle cx="346.9" cy="172.7" r="2.6" fill="#e2fadc" stroke="#26b026" stroke-width="1.25"/>
<circle cx="385.9" cy="155.9" r="2.6" fill="#e2fadc" stroke="#26b026" stroke-width="1.25"/>
<circle cx="424.9" cy="147.2" r="2.6" fill="#e2fadc" stroke="#26b026" stroke-width="1.25"/>
<circle cx="463.9" cy="148.6" r="2.6" fill="#e2fadc" stroke="#26b026" stroke-width="1.25"/>
<circle cx="502.9" cy="151.7" r="2.6" fill="#e2fadc" stroke="#26b026" stroke-width="1.25"/>
<polyline points="346.9,170.9 385.9,151.2 424.9,139.9 463.9,137.3 502.9,136.5" fill="none" stroke="#444" stroke-width="0.9"/>
<circle cx="346.9" cy="170.9" r="2.6" fill="#585858" stroke="#0a0a0a" stroke-width="1.25"/>
<circle cx="385.9" cy="151.2" r="2.6" fill="#585858" stroke="#0a0a0a" stroke-width="1.25"/>
<circle cx="424.9" cy="139.9" r="2.6" fill="#585858" stroke="#0a0a0a" stroke-width="1.25"/>
<circle cx="463.9" cy="137.3" r="2.6" fill="#585858" stroke="#0a0a0a" stroke-width="1.25"/>
<circle cx="502.9" cy="136.5" r="2.6" fill="#585858" stroke="#0a0a0a" stroke-width="1.25"/>
<text x="386.25" y="117.48" font-size="12" text-anchor="middle" fill="#111" font-weight="bold" letter-spacing="0.7">**</text>
<text x="425.25" y="84.38" font-size="12" text-anchor="middle" fill="#111" font-weight="bold" letter-spacing="0.7">***</text>
<text x="464.25" y="60.48" font-size="12" text-anchor="middle" fill="#111" font-weight="bold" letter-spacing="0.7">***</text>
<text x="503.25" y="67.58" font-size="12" text-anchor="middle" fill="#111" font-weight="bold" letter-spacing="0.7">***</text>
<text x="463.9" y="127.8" font-size="6.6" text-anchor="middle" fill="#111" font-weight="bold">#</text>
<text x="502.9" y="126.2" font-size="6.6" text-anchor="middle" fill="#111" font-weight="bold">##</text>
<line x1="534" y1="29.5" x2="547.6" y2="29.5" stroke="#444" stroke-width="0.9"/>
<circle cx="540.8" cy="29.1" r="2.35" fill="#585858" stroke="#0a0a0a" stroke-width="1.2"/>
<text x="554.7" y="32.7" font-size="10.2" text-anchor="start" fill="#111" font-weight="bold">Con</text>
<line x1="534" y1="46.5" x2="547.6" y2="46.5" stroke="#3db53d" stroke-width="0.9"/>
<circle cx="540.8" cy="46.5" r="2.35" fill="#e2fadc" stroke="#26b026" stroke-width="1.2"/>
<text x="554.7" y="50.1" font-size="10.2" text-anchor="start" fill="#111" font-weight="bold">Fr</text>
<line x1="534" y1="63.5" x2="547.6" y2="63.5" stroke="#c8903a" stroke-width="0.9"/>
<circle cx="540.8" cy="63" r="2.35" fill="#8a8c18" stroke="#6b5a12" stroke-width="1.2"/>
<text x="554.7" y="66.6" font-size="10.2" text-anchor="start" fill="#111" font-weight="bold">WDF</text>
<text transform="translate(594.5 22.2) scale(0.88 1)" font-size="26.4" font-weight="bold" fill="#111" stroke="#111" stroke-width="0.35">C</text>
<line x1="644.5" y1="48.8" x2="644.5" y2="181.1" stroke="#222" stroke-width="1"/>
<line x1="643.8" y1="180.5" x2="731.7" y2="180.5" stroke="#222" stroke-width="1"/>
<line x1="639.3" y1="49.5" x2="644.3" y2="49.5" stroke="#222" stroke-width="1"/>
<text x="637.8" y="52.8" font-size="9.9" text-anchor="end" fill="#111" font-weight="bold">0.10</text>
<line x1="639.3" y1="82.5" x2="644.3" y2="82.5" stroke="#222" stroke-width="1"/>
<text x="637.8" y="85.9" font-size="9.9" text-anchor="end" fill="#111" font-weight="bold">0.08</text>
<line x1="639.3" y1="115.5" x2="644.3" y2="115.5" stroke="#222" stroke-width="1"/>
<text x="637.8" y="118.7" font-size="9.9" text-anchor="end" fill="#111" font-weight="bold">0.06</text>
<line x1="639.3" y1="148.5" x2="644.3" y2="148.5" stroke="#222" stroke-width="1"/>
<text x="637.8" y="151.5" font-size="9.9" text-anchor="end" fill="#111" font-weight="bold">0.04</text>
<line x1="639.3" y1="180.5" x2="644.3" y2="180.5" stroke="#222" stroke-width="1"/>
<text x="637.8" y="184.1" font-size="9.9" text-anchor="end" fill="#111" font-weight="bold">0.02</text>
<line x1="661.5" y1="180.6" x2="661.5" y2="183.6" stroke="#222" stroke-width="1"/>
<line x1="688.5" y1="180.6" x2="688.5" y2="183.6" stroke="#222" stroke-width="1"/>
<line x1="714.5" y1="180.6" x2="714.5" y2="183.6" stroke="#222" stroke-width="1"/>
<text x="613.1" y="115.1" font-size="13.0" text-anchor="middle" fill="#111" font-weight="bold" transform="rotate(-90 613.1 115.1)">Liver/ bodyweight ratio</text>
<line x1="656" y1="162.5" x2="671" y2="162.5" stroke="#444" stroke-width="0.9"/>
<circle cx="656.1" cy="159.3" r="2.4" fill="#6a6a6a" stroke="#262626" stroke-width="1.0"/>
<circle cx="662.4" cy="159.3" r="2.4" fill="#6a6a6a" stroke="#262626" stroke-width="1.0"/>
<circle cx="658.7" cy="163.3" r="2.4" fill="#6a6a6a" stroke="#262626" stroke-width="1.0"/>
<circle cx="664.5" cy="164.8" r="2.4" fill="#6a6a6a" stroke="#262626" stroke-width="1.0"/>
<circle cx="667.4" cy="165.6" r="2.4" fill="#6a6a6a" stroke="#262626" stroke-width="1.0"/>
<circle cx="660.8" cy="161.6" r="2.4" fill="#6a6a6a" stroke="#262626" stroke-width="1.0"/>
<line x1="680.5" y1="153.5" x2="697" y2="153.5" stroke="#444" stroke-width="0.9"/>
<circle cx="682.4" cy="152.8" r="2.4" fill="#d6f6cf" stroke="#52d052" stroke-width="1.05"/>
<circle cx="688.9" cy="150.9" r="2.4" fill="#d6f6cf" stroke="#52d052" stroke-width="1.05"/>
<circle cx="685.8" cy="154.1" r="2.4" fill="#d6f6cf" stroke="#52d052" stroke-width="1.05"/>
<circle cx="691.3" cy="154.3" r="2.4" fill="#d6f6cf" stroke="#52d052" stroke-width="1.05"/>
<circle cx="693.4" cy="156.7" r="2.4" fill="#d6f6cf" stroke="#52d052" stroke-width="1.05"/>
<line x1="714.5" y1="87.1" x2="714.5" y2="99.2" stroke="#333" stroke-width="0.9"/>
<line x1="710.6" y1="87.5" x2="717.8" y2="87.5" stroke="#333" stroke-width="0.9"/>
<line x1="710.6" y1="99.5" x2="717.8" y2="99.5" stroke="#333" stroke-width="0.9"/>
<line x1="706.2" y1="93.5" x2="722.2" y2="93.5" stroke="#333" stroke-width="0.9"/>
<circle cx="713.9" cy="81.6" r="2.4" fill="#e37c1d" stroke="#9a500d" stroke-width="0.95"/>
<circle cx="708.6" cy="93.2" r="2.4" fill="#e37c1d" stroke="#9a500d" stroke-width="0.95"/>
<circle cx="712" cy="94.5" r="2.4" fill="#e37c1d" stroke="#9a500d" stroke-width="0.95"/>
<circle cx="715.4" cy="97.1" r="2.4" fill="#e37c1d" stroke="#9a500d" stroke-width="0.95"/>
<circle cx="719.1" cy="98.4" r="2.4" fill="#e37c1d" stroke="#9a500d" stroke-width="0.95"/>
<circle cx="710.3" cy="93.9" r="2.4" fill="#e37c1d" stroke="#9a500d" stroke-width="0.95"/>
<line x1="661.9" y1="50.5" x2="713.3" y2="50.5" stroke="#222" stroke-width="0.9"/>
<text x="687.95" y="53.58" font-size="12" text-anchor="middle" fill="#111" font-weight="bold" letter-spacing="0.7">***</text>
<line x1="688.7" y1="68.5" x2="713.3" y2="68.5" stroke="#222" stroke-width="0.9"/>
<text x="701.35" y="71.98" font-size="12" text-anchor="middle" fill="#111" font-weight="bold" letter-spacing="0.7">***</text>
<line x1="662.7" y1="139.5" x2="687.6" y2="139.5" stroke="#222" stroke-width="0.9"/>
<text x="675.5" y="142.28" font-size="12" text-anchor="middle" fill="#111" font-weight="bold" letter-spacing="0.7">***</text>
<circle cx="745.9" cy="51.7" r="2.3" fill="#6a6a6a" stroke="#262626" stroke-width="1.0"/>
<text x="760.8" y="55.3" font-size="10.2" text-anchor="start" fill="#111" font-weight="bold">Con</text>
<circle cx="745.9" cy="68.2" r="2.3" fill="#d6f6cf" stroke="#52d052" stroke-width="1.05"/>
<text x="760.8" y="71.8" font-size="10.2" text-anchor="start" fill="#111" font-weight="bold">Fr</text>
<circle cx="745.9" cy="85.3" r="2.3" fill="#e37c1d" stroke="#9a500d" stroke-width="0.95"/>
<text x="760.8" y="88.9" font-size="10.2" text-anchor="start" fill="#111" font-weight="bold">WDF</text>
<text transform="translate(20.6 251.2) scale(0.93 1)" font-size="26.4" font-weight="bold" fill="#111" stroke="#111" stroke-width="0.35">D</text>
<text x="115.6" y="259.3" font-size="10.1" text-anchor="middle" fill="#111" font-weight="bold">Con</text>
<text x="243" y="259.3" font-size="10.1" text-anchor="middle" fill="#111" font-weight="bold">Fr</text>
<text x="374" y="259.3" font-size="10.1" text-anchor="middle" fill="#111" font-weight="bold">WDF</text>
<line x1="46.2" y1="267.2" x2="46.2" y2="418.2" stroke="#111" stroke-width="1.75"/>
<line x1="46" y1="428.2" x2="46" y2="499" stroke="#111" stroke-width="1.75"/>
<text x="35.1" y="345.8" font-size="12.7" text-anchor="middle" fill="#111" font-weight="bold" transform="rotate(-90 35.1 345.8)">H&amp;E staining</text>
<text x="35.1" y="465" font-size="12.7" text-anchor="middle" fill="#111" font-weight="bold" transform="rotate(-90 35.1 465)">ORO staining</text>
<clipPath id="cp1"><rect x="54" y="267.3" width="128" height="72.1"/></clipPath>
<g clip-path="url(#cp1)">
<rect x="54" y="267.3" width="128" height="72.1" fill="#d88" filter="url(#t1)"/>
<g filter="url(#sb)">
<path d="M111.9 307.66h.01M172.3 300.87h.01M119 309.65h.01M77.64 304.21h.01M134.62 324.47h.01M66.05 289.18h.01M65.61 325.68h.01M142.76 270.32h.01M179.72 336.86h.01M137.7 311.68h.01M74.16 268.38h.01M121.63 271.59h.01M78.35 284.74h.01M57.85 300.75h.01M110.39 328.04h.01M120.45 313.47h.01M112.54 287.36h.01M161.55 318.33h.01M94.36 283.86h.01M91 272.36h.01M152.08 296.17h.01M162.36 295.17h.01M176.63 328.39h.01M54.07 282.42h.01M179.49 295.95h.01M63.35 312.68h.01M153.65 286.75h.01M177.4 321.95h.01M69.1 285.06h.01M66.93 271.62h.01M156.02 280.11h.01M125.59 299.56h.01M78.41 320.07h.01M70.76 313.71h.01M68.91 297.64h.01M81.25 286.75h.01M92.93 331.1h.01M80.97 295.73h.01M163.36 313.58h.01M66.84 338.63h.01M152.9 291.02h.01M65.53 309.32h.01M85.11 310.65h.01M101.58 299.98h.01M176.77 302.18h.01M127.55 329.78h.01M77.4 278.41h.01M170.28 326.26h.01M85.94 280.98h.01M148.65 335.1h.01M79.16 335.8h.01M166.92 310.81h.01M107.95 274.79h.01M58.95 336.71h.01M84.52 318.1h.01M86.89 326.69h.01M130.35 288.46h.01M62.8 283.77h.01M171.42 282.01h.01M56.12 286.71h.01M111.05 271.66h.01M76.56 293.89h.01M127.24 276.79h.01M100.35 331.54h.01M179.5 314.66h.01M142.48 309.44h.01M56.29 332.93h.01M143.72 336.72h.01M56.72 313.17h.01M115.73 319.97h.01M94.82 339.35h.01M148.35 318.04h.01M155.54 333.27h.01M99.03 316.7h.01M169.31 330.11h.01M107.4 324.3h.01M133.99 294.87h.01M128.58 311.2h.01M181.15 330.73h.01M147.21 295.31h.01M148.08 309.19h.01M64.72 321.39h.01M115.56 283.9h.01M143.39 303.15h.01M132.66 333.67h.01M86.75 268.12h.01M92.53 316.19h.01M169.93 314.89h.01M110.57 331.59h.01M95.85 315.31h.01M166.67 295.02h.01M71.43 303.1h.01M161.15 328.49h.01M89.43 279.49h.01M134.09 302.91h.01M94.37 327.8h.01M179.7 299.92h.01M63.56 269.57h.01M165.72 270.29h.01M93.56 324.37h.01M56.45 277.1h.01M160.2 284.42h.01M134.54 299.49h.01M134.64 314.53h.01M157.35 336.41h.01M141.62 281.67h.01M114.82 280.18h.01M145.41 280.21h.01M88.86 292.23h.01M170 273.59h.01M173.37 319.38h.01M102.23 308.31h.01M166.55 324.75h.01M137.37 282.07h.01M146.41 326.3h.01M136.13 319.04h.01M81.3 332.19h.01M122.73 324.32h.01M64.59 299.09h.01M116.39 269.35h.01M157.57 271.92h.01M71.98 278.02h.01M120.12 319.47h.01M175.49 273.5h.01M82.34 305.27h.01M91.14 319.85h.01M161.98 307.67h.01M93.9 294.79h.01M162.19 332.23h.01M80.65 328.64h.01M127.34 281.79h.01M122.6 303.58h.01M131.47 269.3h.01M122.96 297.13h.01M176.48 333.88h.01M88.46 301.41h.01M115 290.17h.01M78.51 311.85h.01M172.43 276.63h.01M153.75 268.94h.01M141.94 290.52h.01M99.48 311.99h.01M121.76 278.82h.01M163.67 284.07h.01M169.54 290.07h.01M81.92 339.28h.01M167.61 276.96h.01M87.22 274.29h.01M155.11 276.38h.01M105.56 316.7h.01M141.35 333.01h.01M78.19 272.39h.01M161.55 338.7h.01M113.15 322.44h.01M95.83 300.97h.01M77.2 300.03h.01M144.2 329.36h.01M130.75 303.66h.01M179.78 325.33h.01M87.06 333h.01M149.29 323.39h.01M158.27 296.55h.01M142.93 322.62h.01M146.5 272.39h.01M55.36 292.94h.01M83.71 335.41h.01M179.45 268.95h.01M132.77 320.57h.01M86.85 296.25h.01M102.09 274.4h.01M177.79 308.25h.01M174.99 297.63h.01M100.79 287.9h.01M137.85 307.72h.01M91.89 268.31h.01M74.04 321.71h.01M103.91 332.01h.01M149.79 270.92h.01M63.41 332.59h.01M108.98 301.74h.01M178.57 284.87h.01M120.99 334.88h.01M146.51 301.07h.01M131.26 275.6h.01M110.69 315.45h.01M128.53 297.55h.01M153.58 305.57h.01M147.99 284.49h.01M68.58 331.66h.01M154.39 312.36h.01M150.43 280.99h.01M59.06 271.68h.01M65.06 316.06h.01M124.48 312.8h.01M80.96 292.08h.01M63.52 275.94h.01M108.32 285.91h.01M137.67 338.62h.01M95.65 306.86h.01M108.74 293.92h.01M153.26 272.79h.01M81.3 315.04h.01M171.58 335.07h.01M156.79 289.27h.01M173.64 331.81h.01M100.79 293.49h.01M104.64 295.24h.01M78.95 307.95h.01M166.75 287.59h.01M56.85 304.48h.01M123.65 308.21h.01M82.22 322.48h.01M104.48 291.66h.01M117.19 306.04h.01M171.12 296.9h.01M159.76 315.37h.01M148.88 338.75h.01M102.07 279.39h.01M91.38 337.22h.01M61.58 289.54h.01M158.59 301.87h.01M101.56 324.75h.01M165.26 304.51h.01M88.11 305.84h.01M54.17 326.52h.01M115.45 301.09h.01M163.74 289.19h.01M74.17 327.29h.01M93.86 289.7h.01M113.11 337.01h.01M55.34 338.8h.01M147.62 291.05h.01M72.03 274.11h.01M140.75 318.37h.01M152.16 326.5h.01M106.75 268.41h.01M119.2 324.15h.01M159.62 311.38h.01M169.58 306.83h.01M99.13 303.38h.01M72.14 318.74h.01M180.31 304.51h.01M127.79 317.56h.01M96.14 334.29h.01M125.72 286.36h.01M170.39 338.83h.01M69.7 326.76h.01M160.34 280.68h.01M58.1 280.28h.01M138.27 289.48h.01M72.3 295.16h.01M120.53 286.31h.01M126.71 291.24h.01M136.14 270.03h.01M139.89 277.74h.01M114.15 296.96h.01M116.18 339.01h.01M106.35 298.59h.01M95.05 271.24h.01M146.87 332.2h.01M118.34 295.9h.01M60.65 317.4h.01M84.19 272.23h.01M139.21 329.77h.01M175.72 267.34h.01M85.22 288.88h.01M166.6 339.07h.01M139.07 324.29h.01M89.43 313.44h.01M77.85 331.98h.01M118.72 328.25h.01M175.8 279.84h.01M131.83 284.27h.01M126.82 306.47h.01M72.72 289.72h.01M160.36 324.02h.01M61.83 296.91h.01M100.65 282.9h.01M180.23 277.72h.01M59.02 284.65h.01M151.7 320.23h.01M167.46 300.65h.01M104.3 328.08h.01M74.98 281.98h.01M81.45 301.02h.01M173.89 293.24h.01M170.11 268.77h.01M104.43 284.48h.01M144.45 286.07h.01M126.44 325.61h.01M178.88 288.79h.01M134.96 273.78h.01M75.34 315.26h.01M97.75 297.75h.01M73.3 309.31h.01M60.99 303.03h.01M149.87 305.8h.01M84.34 285.27h.01M95.6 280.12h.01M152.83 301.96h.01M96.73 322.04h.01M144.49 312.22h.01M77.63 268.29h.01M128.95 335.15h.01M142.01 297.53h.01M156.46 327.77h.01M90.32 295.54h.01M173.49 285.42h.01M116.5 275.98h.01M134.04 287.06h.01M64.04 280.46h.01M61.38 306.99h.01M155.41 320.32h.01M67.55 277.61h.01M109.05 336.71h.01M130.89 308.6h.01M181.19 271.97h.01M165.37 318.61h.01M124.31 332.6h.01M58.71 292.23h.01M63.2 338.52h.01M97.47 290.04h.01M131.19 317.4h.01M174.45 311.28h.01M140.02 284.94h.01M65.31 293.51h.01M101.93 319.43h.01M92.6 303.88h.01M69.95 308.24h.01M162.89 274.82h.01" fill="none" stroke="#9438a4" stroke-width="1.7" stroke-linecap="round" stroke-opacity="0.8"/>
<ellipse cx="117.6" cy="305" rx="5.6" ry="3.4" fill="#fff" transform="rotate(42 117.6 305)"/>
<circle cx="67.2" cy="318.8" r="1.6" fill="#fff"/>
</g></g>
<clipPath id="cp2"><rect x="186" y="267.3" width="128" height="72.1"/></clipPath>
<g clip-path="url(#cp2)">
<rect x="186" y="267.3" width="128" height="72.1" fill="#d88" filter="url(#t2)"/>
<g filter="url(#sb)">
<path d="M296.57 336.79h.01M280.01 318.68h.01M253.98 269.36h.01M294.5 270.62h.01M196.03 286.11h.01M303.61 291.01h.01M247.04 293.15h.01M237.17 283.35h.01M232.8 310.42h.01M282.48 271.12h.01M240.47 329.31h.01M222.58 316.32h.01M311.96 327.25h.01M304.7 313.35h.01M305.59 321.57h.01M282.2 294.54h.01M241.92 275.81h.01M292.75 315.34h.01M308.09 307.69h.01M246.47 269.56h.01M249.18 317.02h.01M285.66 274.89h.01M207.31 309.54h.01M230.32 279.11h.01M261.7 304.79h.01M259.51 328.03h.01M227.99 317.58h.01M234.33 318.96h.01M302.43 300.16h.01M215.61 321.6h.01M225.24 328.4h.01M275.4 308.26h.01M283.89 325.39h.01M286.36 283.05h.01M254.48 311.27h.01M304.26 317h.01M295.77 319.71h.01M218.46 288.43h.01M297.85 278.84h.01M295.41 311.24h.01M279.94 305.84h.01M250.72 308.11h.01M215.72 335.79h.01M301.42 274.65h.01M311.8 316.7h.01M286.46 304.88h.01M253.46 280.61h.01M231.34 303.28h.01M276.25 297.39h.01M273.77 311.48h.01M305.46 273.53h.01M308.81 269.6h.01M289.4 267.35h.01M238.18 291.49h.01M272.39 300.1h.01M219.31 304.99h.01M272.29 324.28h.01M312.78 295.21h.01M287.07 323.7h.01M287.18 294.66h.01" fill="none" stroke="#fff" stroke-width="2.6" stroke-linecap="round"/>
<path d="M261.94 320.76h.01M246.91 326.3h.01M187.77 303.28h.01M234.69 271.99h.01M303.06 277.64h.01M212.31 330.61h.01M308.94 334.46h.01M229.76 334.41h.01M204.14 318.82h.01M307.04 281.19h.01M298.96 319.68h.01M307.51 300.02h.01M233.66 275.96h.01M220.94 334.99h.01M195.17 280.63h.01M230.48 270.85h.01M225.29 280.48h.01M201.72 305.29h.01M255.16 308.23h.01M283.57 305.28h.01M307.23 273.18h.01M214.54 272.83h.01M225.6 322.14h.01M304.3 303.62h.01M206.52 291.12h.01M258.76 288.53h.01M287.48 337.42h.01M244.85 310.78h.01M294.29 300.83h.01M210.42 335.37h.01M311.17 269.06h.01M283.63 296.18h.01M208.15 320.39h.01M213.08 268.71h.01M214.13 324.92h.01M249.89 314.37h.01M245.53 280.46h.01M187.94 289.24h.01M191.32 286.09h.01M265.2 293.93h.01M226.59 293.01h.01M299.14 309.19h.01M239.37 306.24h.01M244.92 291.27h.01M302.95 284.12h.01M305.79 328.8h.01M298.89 279.02h.01M251.13 338.29h.01M278.59 284.25h.01M260.7 278.66h.01M307.28 287.78h.01M198.41 316.85h.01M230.43 307.63h.01M249.64 333.82h.01M251.82 294.62h.01M220.44 308.7h.01M266.88 300.63h.01M197.51 303.17h.01M242.67 273.4h.01M288.39 284.21h.01M292.12 324.83h.01M218.59 332.39h.01M250.51 298.03h.01M257.06 335.5h.01M248.7 302.07h.01M223.2 327.95h.01M211.15 282.81h.01M273.7 324.79h.01M277.09 325.67h.01M288.56 280.01h.01M290.28 289.17h.01M229.92 324.39h.01M264.15 332.99h.01M305.36 313.75h.01M194.26 315.41h.01M200 338.12h.01M297.53 289.7h.01M209.8 317.35h.01M283.04 338.32h.01M265.73 276.33h.01M279.02 271.52h.01M297.07 322.72h.01M286.53 330.29h.01M235.21 292.78h.01M188.93 278.91h.01M269.66 323.2h.01M274.89 304.49h.01M226.44 286.97h.01M273.84 335.23h.01M302.67 288.25h.01M309.21 323.12h.01M252.89 302.47h.01M190.53 329.49h.01M211.5 309.17h.01M216.89 290.91h.01M194.96 271.06h.01M239.04 296.63h.01M216.13 301.47h.01M241.42 316.73h.01M268.07 334.96h.01M255.27 339.21h.01M253.55 280.95h.01M284.06 271.41h.01M205.24 307.05h.01M220.89 319.19h.01M279.03 290.32h.01M284.17 314h.01M276.36 300.22h.01M246.78 336.13h.01M299.72 271.34h.01M195.09 286.73h.01M202.36 297.99h.01M237.59 314.14h.01M273.21 311.69h.01M191.94 318.53h.01M202.46 271.25h.01M246.63 268.51h.01M195.33 295.49h.01M245.98 274.91h.01M248.29 309.68h.01M226.4 338.22h.01M201.35 289.23h.01M237.05 331.26h.01M218.95 324.35h.01M232.82 298.8h.01M244.26 301.44h.01M298.58 300.08h.01M278.67 335.78h.01M269.94 315.52h.01M229.74 318.61h.01M188.14 297.3h.01M284.1 286.01h.01M264.53 283.23h.01M236.99 338.94h.01M193.65 309.33h.01M236.08 309.86h.01M277.15 322.22h.01M281.57 309.04h.01M312.35 277.14h.01M285.92 290.72h.01M207.38 312.4h.01M300.36 315.12h.01M239.76 277.77h.01M274.57 317.06h.01M292.04 294.71h.01M221.02 293.14h.01M254.78 269.04h.01M233.94 314.69h.01M297.7 334.61h.01M217.97 280.13h.01M287.64 320.58h.01M219.84 302.56h.01M275.01 269.33h.01M290.82 329.27h.01M275.51 291.6h.01M298.44 283.05h.01M242.56 325.87h.01M258.96 311.23h.01M312.34 283.41h.01M214.51 311.98h.01M205.23 336.82h.01M298.99 330.19h.01M215.28 319.11h.01M194.02 327.94h.01M231.19 338.3h.01M262.81 329.47h.01M194.02 274.64h.01M188.68 317.55h.01M208.58 286.96h.01M227.27 301h.01M231.55 293.26h.01M219.4 268.47h.01M225.73 309.99h.01M220.39 275.45h.01M251.51 289.79h.01M265.7 314.84h.01M224.53 269.6h.01M287.94 312.03h.01M281.3 300.08h.01M298.7 338.78h.01M310.29 306.49h.01M296.33 304.56h.01M312.76 272.75h.01M204.98 295.38h.01M241.75 322.27h.01M261.76 309.29h.01M208.17 300.75h.01M255.58 291.58h.01M188.28 283.16h.01M270.06 282.75h.01M195.32 322.23h.01M257.52 274.6h.01M267.51 286.21h.01M190.38 324.83h.01M203.99 281.85h.01M291.98 280.6h.01M267.3 311.65h.01M258.09 294.9h.01M277.52 280.66h.01M216.71 287.41h.01M294.11 317.81h.01M311.41 315.58h.01M193.54 302.77h.01M235.16 305.58h.01M311.81 294.07h.01M228.24 277.99h.01M249.96 322.52h.01M258.33 284.52h.01M283.41 319.38h.01M190.81 269.35h.01M298.25 294.77h.01M294.34 310.67h.01M303.29 269.99h.01M210.45 275.39h.01M207.52 279.46h.01M235.08 318.35h.01M222.42 288.41h.01M282.03 323.85h.01M209.77 295.66h.01M280.78 329.73h.01M232.35 310.95h.01M259.87 331.47h.01M313.87 327.81h.01M186.14 267.37h.01M221.23 338.78h.01M267.62 272h.01M247.64 319.4h.01M239.88 290.21h.01M273.75 278.26h.01M206.75 269.85h.01M190.58 300.42h.01M256.12 329.03h.01M254.04 276.54h.01M271.92 319.83h.01M312.79 324.46h.01M223.13 300.15h.01M233.09 331.35h.01M202.93 277.11h.01M213.37 299.45h.01M263.45 270.97h.01M305.74 291.47h.01M204.42 323.55h.01M301.28 324.31h.01M263.23 301.22h.01M224.54 333.41h.01M195.41 333.89h.01M229.1 297.6h.01M233.22 279.99h.01M310.75 310.96h.01M272.56 328.13h.01M198.88 324.87h.01M211.81 288.26h.01M262.63 290.33h.01M197.54 307.48h.01M198.45 273.98h.01M251.98 318.72h.01M274.2 308.38h.01M286.97 326.8h.01M197.82 277.76h.01M186.15 306.79h.01M197.92 331.03h.01M271.37 297.08h.01M245.18 285.85h.01M272.47 274.99h.01M186.38 338.47h.01M206.33 326.85h.01M202.32 292.72h.01M191.79 295.2h.01M233.19 289.73h.01M287.22 273.31h.01" fill="none" stroke="#9438a4" stroke-width="1.7" stroke-linecap="round" stroke-opacity="0.8"/>
<path d="M191.65 305.23h.01M191.39 295.51h.01M190.28 306.15h.01M189.61 305.57h.01M191.42 299h.01M192.67 293.65h.01M186.93 296h.01M192.13 301.07h.01M192.34 301.86h.01M191.34 300.09h.01M190.3 306.09h.01M192.61 296.88h.01M192.22 310.19h.01M192.58 298.42h.01M192.56 303.03h.01M190.45 306.02h.01M193.52 300.1h.01M191.33 300.61h.01M191.09 308.48h.01M190.23 304.42h.01M191.6 302.5h.01M188.86 304.63h.01M188.91 305.04h.01M190.91 302.71h.01M190.17 298.78h.01M189.05 302.21h.01M190.92 303.29h.01M190.51 305.22h.01M191.37 302.65h.01M190.61 302.1h.01M192.37 299.39h.01M188.71 303.69h.01M191.91 302.28h.01M191.56 297.02h.01M189.17 302.16h.01M191.02 297.27h.01M192 294.67h.01M193.53 298.02h.01M189.98 298.05h.01M188.43 300.9h.01" fill="none" stroke="#5b4aa0" stroke-width="1.6" stroke-linecap="round"/>
<ellipse cx="231.8" cy="326" rx="4" ry="3.2" fill="#fff"/>
</g></g>
<clipPath id="cp3"><rect x="317.6" y="267.3" width="127.6" height="72.1"/></clipPath>
<g clip-path="url(#cp3)">
<rect x="317.6" y="267.3" width="127.6" height="72.1" fill="#d88" filter="url(#t3)"/>
<g filter="url(#sb)">
<path d="M324.25 321.52h.01M393.95 332.78h.01M338.61 307.89h.01M356.78 330.99h.01M346.26 320.18h.01M416.78 287.14h.01M408.11 320.04h.01M436.88 305.36h.01M378.79 291.68h.01M430.57 334.69h.01M374.46 287.01h.01M331.61 291.35h.01M377.93 298.68h.01M423.37 283.76h.01M376.26 313.68h.01M362.21 338.81h.01M320.07 273.85h.01M410.86 327.92h.01M347.84 284.77h.01M432.14 286.29h.01M377.91 321.14h.01M382.59 286.86h.01M402.11 290.68h.01M336.32 337.3h.01M422.38 308.16h.01M326.25 332.19h.01M420.01 300.63h.01M331.46 267.57h.01M395.3 320.06h.01M362.81 291.76h.01M402.33 271.19h.01M443.93 300.44h.01M395.71 293.5h.01M368.23 268.11h.01M352.65 317.1h.01M356.58 295.78h.01M379.92 305.08h.01M385.85 272.02h.01M353.91 326.09h.01M412.16 271.28h.01M416.52 278.68h.01M397.26 310.9h.01M356.2 311.07h.01M422.74 273.77h.01M327.24 274.45h.01M333.78 319.01h.01M317.76 324.49h.01M430.74 326.32h.01M374.55 269.31h.01M322.59 305.23h.01" fill="none" stroke="#fff" stroke-width="6.2" stroke-linecap="round"/>
<path d="M362.2 322.9h.01M413.51 338.09h.01M355.37 284.12h.01M410.39 284.93h.01M433.72 272.13h.01M329.91 305.83h.01M373.94 325.55h.01M418.72 267.56h.01M425.95 330.83h.01M437.78 282.34h.01M333.73 273.32h.01M394.94 301.65h.01M399.58 277.17h.01M335.96 302.71h.01M423.39 325.41h.01M361.67 271.36h.01M378.01 338.42h.01M403.94 335.98h.01M335.11 326.95h.01M428.22 307.21h.01M343.09 298.41h.01M428.77 278.39h.01M391.13 285.07h.01M433.95 321.17h.01M357.22 275.47h.01M427.85 319.24h.01M321.14 293.76h.01M388.76 307.15h.01M383.74 300.04h.01M439.33 338.11h.01M444.63 312.09h.01M378.98 279.29h.01M340.21 318.65h.01M383.58 339.17h.01M387.45 329.84h.01M337.94 284.01h.01M371.44 310.66h.01M387.32 291.45h.01M428.63 298.91h.01M389.13 335.79h.01M329.38 338.52h.01M321.35 279.99h.01M425.26 268.73h.01M403.51 284.6h.01M329.28 284.7h.01M382.1 316.88h.01M328.43 313.83h.01M358.04 305.16h.01M349.22 310.37h.01M440.67 293.82h.01" fill="none" stroke="#fff" stroke-width="5" stroke-linecap="round"/>
<path d="M411.25 315.09h.01M416.96 322.62h.01M382.45 325.01h.01M384.61 280.63h.01M371.16 334.84h.01M439.51 316.27h.01M327.1 297.78h.01M362.06 284.81h.01M408.91 279.28h.01M368.09 321.72h.01M436.22 311.67h.01M342.78 324.59h.01M322.51 311.64h.01M338.98 270.27h.01M426.4 312.7h.01M439.7 269.86h.01M402.69 298.91h.01M324.04 269.36h.01M346.07 278.54h.01M364.41 309.51h.01M368.54 292.53h.01M387.38 313.44h.01M397.21 267.71h.01M348.66 268.55h.01M401.92 306.95h.01M437.7 288.94h.01M420.35 339.25h.01M320.62 330.25h.01M411.55 292.03h.01M350.2 296.81h.01M341.56 289.9h.01M349.02 339.01h.01M416.06 306.2h.01M367.93 328.76h.01M443.27 333.18h.01M343.34 330.67h.01M434.39 299.3h.01M371.63 300.42h.01M417.46 329.23h.01M435.12 330.81h.01M331.98 332.15h.01M362.75 330.97h.01M350.74 331.3h.01M400.38 328.31h.01M441.57 321.78h.01M427.73 292.61h.01M397.33 283.53h.01M391.77 271.75h.01M353.56 289.6h.01M407.67 305.21h.01" fill="none" stroke="#fff" stroke-width="3.8" stroke-linecap="round"/>
<path d="M332.38 332.87h.01M443.78 319.52h.01M390.47 273.27h.01M358.56 291.03h.01M328.64 294.34h.01M364.37 297.08h.01M326.39 276.83h.01M439.01 307.29h.01M347.31 299.7h.01M363.93 302.29h.01M340.21 320.98h.01M436.64 312.6h.01M440.04 326.05h.01M386.14 304.94h.01M405.75 293.78h.01M327.34 299.9h.01M421.84 315.95h.01M322.69 326.88h.01M323.58 304.7h.01M340.24 288.94h.01M347.08 311.65h.01M408.3 331.06h.01M382.15 271.64h.01M322.45 273.44h.01M333.94 279.98h.01M355.39 278.13h.01M426.14 293.22h.01M378.78 323.86h.01M340.64 303.43h.01M436.04 308.17h.01M356.17 312.97h.01M381.66 303.19h.01M398.8 318.58h.01M431.22 337.73h.01M404.71 324.97h.01M342.37 281.55h.01M425.14 298.71h.01M320.23 321.01h.01M334.71 286.93h.01M435.15 280.97h.01M423.09 286.53h.01M418.89 294.79h.01M389.33 316.6h.01M409.19 282.25h.01M403.24 279.28h.01M348.83 323.41h.01M337.1 297.15h.01M332.14 309.29h.01M339.98 293.34h.01M442.49 299.41h.01M351.12 274.94h.01M396.68 278.41h.01M340.18 277.62h.01M412.09 314.32h.01M354.87 289.98h.01M352.85 306.79h.01M390.28 276.86h.01M337.17 312.47h.01M353.31 315.3h.01M340.01 274.37h.01M326.52 329.11h.01M386.07 268.7h.01M363.04 312.83h.01M345.51 327.28h.01M318.24 305.21h.01M390.93 280.89h.01M443.55 306.68h.01M334.29 321.74h.01M321.2 316.47h.01M424.12 313.35h.01M423.53 328.36h.01M352.01 334.23h.01M421.4 275.02h.01M430.55 268.29h.01M359.01 282.37h.01M344.42 303.34h.01M323.45 336.92h.01M344.43 316.48h.01M362.48 333.44h.01M389.12 303.07h.01M414.63 307.83h.01M375.12 279.8h.01M419.64 312.62h.01M376.77 338.56h.01M376.85 320.75h.01M398.09 285.95h.01M444.72 338.71h.01M352.2 322.97h.01M349.38 270.61h.01M398.85 329h.01" fill="none" stroke="#fff" stroke-width="2.4" stroke-linecap="round"/>
<path d="M351.77 279.4h.01M371.14 279.09h.01M350.63 302.56h.01M404.99 274.91h.01M339.77 301.27h.01M384.09 279.98h.01M401.84 308.01h.01M440.48 336.08h.01M397.69 273.68h.01M384.22 286.86h.01M353.17 272.76h.01M405.79 314.63h.01M352.65 283.93h.01M444.24 307.15h.01M406.57 285.03h.01M437.84 319.11h.01M382.54 275.37h.01M373.3 269.09h.01M344.41 323.66h.01M331.79 282.11h.01M361.18 337.07h.01M338.59 297.31h.01M385.55 270.59h.01M389.45 272.35h.01M358.39 290.55h.01M444.83 298.88h.01M355.89 278.98h.01M357.92 317.17h.01M362.59 283.84h.01M322.49 324.08h.01M355.66 286.81h.01M425.81 337.18h.01M424.28 322.3h.01M319.82 288.05h.01M424.15 301.6h.01M340.13 338.31h.01M344.68 280.31h.01M406.21 338.45h.01M407.83 268.73h.01M320.2 282.77h.01M402.45 336.46h.01M332.33 315.49h.01M403.75 269.43h.01M432.79 289.9h.01M365.37 324.43h.01M386.92 312.44h.01M324.97 312.17h.01M336.64 326.7h.01M416.39 314.09h.01M423.41 318.93h.01M363.53 268.2h.01M445.19 271.92h.01M344.29 268.68h.01M338.18 293.44h.01M429.74 339.35h.01M442.45 281.44h.01M406.55 279.12h.01M376.58 303.37h.01M357.83 323.83h.01M327.32 276.06h.01M420.47 336.42h.01M348.16 315.35h.01M414.31 329.95h.01M325.61 317.28h.01M363.29 317.63h.01M338.62 313.33h.01M352.39 298.91h.01M392.91 335.84h.01M324.02 280.06h.01M424.91 331.37h.01M345.6 318.26h.01M380.81 293.84h.01M429.67 286.55h.01M434.14 293.43h.01M369.57 327.54h.01M414.15 280.59h.01M368.66 307.53h.01M401.31 319.2h.01M367.43 294.74h.01M338.06 329.93h.01M422.6 292.98h.01M344.11 337.87h.01M420.51 269.02h.01M318.7 307.61h.01M375.6 307.13h.01M424.94 327.69h.01M334.8 337.14h.01M336.88 284.52h.01M341.36 287.55h.01M326.43 332.97h.01M373.55 299.91h.01M379.63 300.13h.01M407.47 308.42h.01M407.14 272.12h.01M331.38 276.57h.01M325.36 271.25h.01M393.34 281.55h.01M395.54 302.99h.01M353.73 325.27h.01M351.15 289.36h.01M323.4 284.75h.01M435.32 301.85h.01M410.63 302.62h.01M351.47 292.86h.01M367.04 275.62h.01M433.84 330.21h.01M431.6 299.38h.01M355.23 328.4h.01M332.8 294.67h.01M325.48 325.9h.01M412.68 334.09h.01M341.31 327.62h.01M374.2 325.38h.01M377.92 335.51h.01M386.34 298.28h.01M402.48 312.06h.01M384.1 315.72h.01M318.37 301.8h.01M406.09 319.9h.01M421.58 283.57h.01M435.83 337.17h.01M396.78 326.48h.01M345.35 305.78h.01M436.7 327.19h.01M444.93 303.34h.01M356.36 268.4h.01M428.18 334.46h.01M368.55 314.95h.01M319.08 335.04h.01M405.45 293.22h.01M427.92 305.81h.01M386.39 283.16h.01M356.41 301.32h.01M437.8 286.88h.01M355.71 297.19h.01M347.39 325.38h.01M379.07 307.97h.01M331.9 320.68h.01M320.78 275.9h.01M421.26 324.01h.01M413.01 309.9h.01M327.44 300.44h.01M343.47 301.24h.01M358.77 309.25h.01M401.71 289.34h.01M367.99 303.25h.01M436.24 270.88h.01M431.2 307.47h.01M359.65 304.64h.01M349.79 338.39h.01M338.35 318.06h.01M442.58 325.93h.01M317.85 315.25h.01M430.71 316.79h.01M410.76 306.72h.01M419.56 278.54h.01M377.64 312.67h.01M326.36 307.85h.01M411.27 319.13h.01M398.93 310.38h.01M394.39 291.66h.01M419.5 306.7h.01M373.09 304.45h.01M408.08 327.59h.01M348.78 267.32h.01M333 273.38h.01M377.99 321.81h.01M373.8 330.27h.01M363.49 302.24h.01M391.32 276.23h.01M336.45 288.22h.01M410.51 337.87h.01M345.31 284.66h.01M441.32 309.16h.01M401.77 285.13h.01M442.88 331.65h.01M378.11 289.04h.01M416.47 296.13h.01M359.85 279.85h.01M394.81 299.35h.01M432.39 313.8h.01M353.45 338.39h.01M426.2 269.24h.01M347.8 295.03h.01M327.12 288.17h.01M361.29 332.77h.01M381.24 269.42h.01M365.8 285.91h.01M408.26 297.25h.01M395.29 309.83h.01M408.3 334.49h.01M389.21 317.36h.01M424.04 305.43h.01M381.57 335.6h.01M431.91 334.22h.01M372.63 320.36h.01M443.17 269.16h.01M421.7 315.7h.01M356.95 274.99h.01M393.93 269.44h.01M419.07 330.09h.01M329.45 279.52h.01M444.65 312.58h.01M341.49 311.39h.01M390.66 305.24h.01M400.25 278.87h.01M427.2 297.16h.01M329.1 271.05h.01M411.22 283.8h.01M318.61 278.54h.01M413.94 273.75h.01M417.4 288.81h.01M374.36 294.59h.01M381.85 303.13h.01M331.87 303.18h.01M398.86 306.31h.01M386.52 290.54h.01M327.84 294.13h.01M426.3 289.67h.01M431.98 326.39h.01" fill="none" stroke="#9438a4" stroke-width="1.6" stroke-linecap="round" stroke-opacity="0.8"/>
</g></g>
<clipPath id="cp4"><rect x="54" y="346.6" width="128" height="71.8"/></clipPath>
<g clip-path="url(#cp4)">
<rect x="54" y="346.6" width="128" height="71.8" fill="#d88" filter="url(#t4)"/>
<g filter="url(#sb)">
<path d="M78.37 416.82h.01M60.83 380.17h.01M98.94 349.27h.01M177.23 371.64h.01M180.99 399.14h.01M80.81 367.01h.01M145.41 362.08h.01M95.48 368.79h.01M69.31 354.38h.01M157.34 360.81h.01M169.98 411.67h.01M113.79 388.12h.01M64.22 410.63h.01M115.83 367.59h.01M126.5 365.11h.01M56.97 355.51h.01M154.38 378.83h.01M106.4 400.05h.01M127.92 397.18h.01M89.28 402.37h.01M95.09 383.58h.01M73.07 375.77h.01M166.68 349.71h.01M78.71 385.45h.01M141.51 397.84h.01M150.79 391.1h.01M139.32 412.71h.01M161.89 388.32h.01M131.61 351.42h.01M62.77 399.64h.01M110.78 353.94h.01M55.49 368.67h.01M90.46 417.08h.01M154.44 403.05h.01M121.12 379.72h.01M119.81 411.59h.01M178.02 348.27h.01M104.38 363.04h.01M70.11 365.17h.01M173.1 382.09h.01M167.23 365.36h.01M97.4 394.29h.01M87.98 357.26h.01M139.37 382.76h.01M156.39 416.7h.01M179.5 361.13h.01M106.73 411.83h.01M76.36 400.37h.01M170.35 394.81h.01M137.42 369.82h.01M180.25 415.05h.01M108.99 375.66h.01M56.58 390.81h.01M143.81 348.49h.01M129.12 416.5h.01M156.03 347.89h.01" fill="none" stroke="#b050bc" stroke-width="4.8" stroke-linecap="round" stroke-opacity="0.9"/>
<path d="M78.37 416.82h.01M60.83 380.17h.01M98.94 349.27h.01M177.23 371.64h.01M180.99 399.14h.01M80.81 367.01h.01M145.41 362.08h.01M95.48 368.79h.01M69.31 354.38h.01M157.34 360.81h.01M169.98 411.67h.01M113.79 388.12h.01M64.22 410.63h.01M115.83 367.59h.01M126.5 365.11h.01M56.97 355.51h.01M154.38 378.83h.01M106.4 400.05h.01M127.92 397.18h.01M89.28 402.37h.01M95.09 383.58h.01M73.07 375.77h.01M166.68 349.71h.01M78.71 385.45h.01M141.51 397.84h.01M150.79 391.1h.01M139.32 412.71h.01M161.89 388.32h.01M131.61 351.42h.01M62.77 399.64h.01M110.78 353.94h.01M55.49 368.67h.01M90.46 417.08h.01M154.44 403.05h.01M121.12 379.72h.01M119.81 411.59h.01M178.02 348.27h.01M104.38 363.04h.01M70.11 365.17h.01M173.1 382.09h.01M167.23 365.36h.01M97.4 394.29h.01M87.98 357.26h.01M139.37 382.76h.01M156.39 416.7h.01M179.5 361.13h.01M106.73 411.83h.01M76.36 400.37h.01M170.35 394.81h.01M137.42 369.82h.01M180.25 415.05h.01M108.99 375.66h.01M56.58 390.81h.01M143.81 348.49h.01M129.12 416.5h.01M156.03 347.89h.01" fill="none" stroke="#8a3aa2" stroke-width="3" stroke-linecap="round" stroke-opacity="0.85"/>
<path d="M115.22 370.29h.01M159.51 352.27h.01M139.76 348.35h.01M131.71 380.71h.01M172.68 417.44h.01M159.29 396.77h.01M102.27 389.07h.01M108.3 399.89h.01M178.92 393.91h.01M72.85 386.19h.01M122.06 411.01h.01M95.11 375.08h.01M142.91 390.01h.01M117.18 389.79h.01" fill="none" stroke="#3b1c66" stroke-width="1.8" stroke-linecap="round"/>
<ellipse cx="86.6" cy="401.4" rx="4.8" ry="2.6" fill="#fff" transform="rotate(52 86.6 401.4)"/>
</g></g>
<clipPath id="cp5"><rect x="186" y="346.6" width="128" height="71.8"/></clipPath>
<g clip-path="url(#cp5)">
<rect x="186" y="346.6" width="128" height="71.8" fill="#d88" filter="url(#t5)"/>
<g filter="url(#sb)">
<path d="M192 352h.01M206 351h.01M197 370.5h.01M207 362h.01M213 381h.01M193 390h.01M228 354h.01M236 410h.01M262 407h.01M222 412h.01M204 402h.01M190 408h.01M246 384h.01M256 372h.01" fill="none" stroke="#c9a0e2" stroke-width="6.8" stroke-linecap="round" stroke-opacity="0.9"/>
<path d="M192 352h.01M206 351h.01M197 370.5h.01M207 362h.01M213 381h.01M193 390h.01M228 354h.01M236 410h.01M262 407h.01M222 412h.01M204 402h.01M190 408h.01M246 384h.01M256 372h.01" fill="none" stroke="#8d4fb5" stroke-width="5" stroke-linecap="round"/>
<path d="M192 352h.01M206 351h.01M197 370.5h.01M207 362h.01M213 381h.01M193 390h.01M228 354h.01M236 410h.01M262 407h.01M222 412h.01M204 402h.01M190 408h.01M246 384h.01M256 372h.01" fill="none" stroke="#6a3396" stroke-width="2.4" stroke-linecap="round" stroke-opacity="0.85"/>
<path d="M231.67 399.77h.01M234.12 400.89h.01M236.68 400.29h.01M238.4 401.78h.01M241.29 399.33h.01M243.43 399.52h.01M244.66 400.69h.01M247.43 400.89h.01M249.52 398.02h.01M251.67 399.79h.01M253.68 399.48h.01M255.87 399.31h.01M246.02 352h.01M247.42 354.4h.01M246.41 356.8h.01M246.77 359.2h.01M247.94 361.6h.01M246.21 364h.01M246.15 366.4h.01M247.94 368.8h.01M247.62 371.2h.01M226.13 368h.01M226.05 370.5h.01M225.92 373h.01M226.29 375.5h.01M226.63 378h.01M225.27 380.5h.01M225.71 383h.01M226.01 385.5h.01" fill="none" stroke="#4a2a86" stroke-width="2.5" stroke-linecap="round"/>
<path d="M206.23 354.39h.01M268.44 417.25h.01M229.1 417.53h.01M291.14 389.4h.01M196.24 355.99h.01M281.84 372.99h.01M270.63 358.4h.01M273.65 383.48h.01M217.91 374.85h.01M255.1 414.54h.01M210.24 360.54h.01M253.94 362.6h.01M186.66 382.94h.01M238.75 393.37h.01M251.21 351.88h.01M242.35 353.2h.01M195.7 408.24h.01M302.07 415.28h.01M279.81 390.62h.01M250.48 384.19h.01M226.75 409.25h.01M245.36 412.18h.01" fill="none" stroke="#5c2f8e" stroke-width="2.2" stroke-linecap="round" stroke-opacity="0.9"/>
<circle cx="274" cy="371.7" r="5.6" fill="#fff"/>
<circle cx="290.8" cy="371.7" r="6.4" fill="#fff"/>
<circle cx="283" cy="351.5" r="4" fill="#fff"/>
<circle cx="292.5" cy="350.5" r="2.6" fill="#fff"/>
<circle cx="280.6" cy="403.6" r="5" fill="#fff"/>
<circle cx="290.8" cy="412.5" r="4" fill="#fff"/>
<circle cx="292" cy="393" r="3" fill="#fff"/>
<circle cx="286" cy="384" r="2.2" fill="#fff"/>
<circle cx="298" cy="381" r="2.4" fill="#fff"/>
<circle cx="300" cy="403" r="3" fill="#fff"/>
<circle cx="303" cy="360" r="2.6" fill="#fff"/>
<circle cx="268" cy="356" r="2.4" fill="#fff"/>
<circle cx="309" cy="411" r="3" fill="#fff"/>
<circle cx="272" cy="390" r="2.2" fill="#fff"/>
<circle cx="262" cy="363" r="1.8" fill="#fff"/>
<circle cx="301" cy="393" r="1.8" fill="#fff"/>
<circle cx="307" cy="348.5" r="2.2" fill="#fff"/>
<circle cx="275" cy="414" r="2" fill="#fff"/>
</g></g>
<clipPath id="cp6"><rect x="317.6" y="346.6" width="127.6" height="71.8"/></clipPath>
<g clip-path="url(#cp6)">
<rect x="317.6" y="346.6" width="127.6" height="71.8" fill="#d88" filter="url(#t6)"/>
<g filter="url(#sb)">
<path d="M335.08 348.86h.01M412.62 400.9h.01M359.31 365.33h.01M381.89 408.37h.01M408.33 394.52h.01M319.28 347.96h.01M347.36 367.99h.01M387.8 348.44h.01M333.86 373.81h.01M369.26 380.03h.01M356.49 386.76h.01M317.98 365.23h.01M415.7 375.45h.01M437.61 395.87h.01M387.87 416.56h.01M377.85 384.25h.01M342.18 353.83h.01M401.7 418.36h.01M339.77 402.21h.01M416.64 381.84h.01M427.42 377.36h.01M386.21 353.35h.01M410.35 372.26h.01M317.71 406.94h.01M373.77 395.96h.01M443.44 398.37h.01M355.57 373.44h.01M426.36 362.25h.01M353 398.3h.01M341.45 373.38h.01M344.63 383.69h.01M331.08 395.33h.01M400.73 351.44h.01M425.74 387.52h.01M325.2 373.18h.01M325.59 396.57h.01M402.66 357.99h.01M346.85 408.87h.01M413.54 348.7h.01M401.91 411.29h.01M366 375.35h.01M437.21 349.45h.01M348.91 353.44h.01M420.93 347.05h.01M420.2 418.16h.01M348.08 387.56h.01M395.31 404.18h.01M393.9 399.1h.01M412.55 357.96h.01M395.69 360.25h.01" fill="none" stroke="#7c47a8" stroke-width="3" stroke-linecap="round" stroke-opacity="0.9"/>
<path d="M320.83 406.67h.01M416.68 414.43h.01M398.44 397.64h.01M327.59 397.62h.01M398.2 414.91h.01M380.95 374.47h.01M373.9 405.52h.01M411.98 371.08h.01M405.79 397.44h.01M436.07 401.82h.01M369.27 385.96h.01M323.92 364.07h.01M333.55 404.67h.01M441.46 370.82h.01M349.05 404.78h.01M418.47 383.07h.01M444.82 361.59h.01M405.44 348.15h.01M443.51 400.88h.01M426.41 386.22h.01M336.7 363.86h.01M396.52 352.71h.01M346.37 346.73h.01M384.1 417.87h.01M330.73 361.77h.01M365.57 378.34h.01M337.86 403.47h.01M416.66 350.91h.01M437.19 392.19h.01M361.11 351.61h.01M379.85 402.11h.01M323.12 418.38h.01M361.23 399.85h.01M385.04 410.55h.01M339.16 359.41h.01M442.76 383.91h.01M432.55 415.77h.01M318.67 349.86h.01M342.25 369.47h.01M423.9 363.11h.01" fill="none" stroke="#4a2a86" stroke-width="2" stroke-linecap="round"/>
<circle cx="372" cy="365.3" r="9.7" fill="#fff"/>
<circle cx="396.7" cy="373" r="12" fill="#fff"/>
<circle cx="326.5" cy="387" r="9" fill="#fff"/>
<circle cx="343" cy="393.4" r="7" fill="#fff"/>
<circle cx="426" cy="353.8" r="7" fill="#fff"/>
<circle cx="435" cy="380.6" r="7" fill="#fff"/>
<circle cx="417" cy="365.3" r="6.4" fill="#fff"/>
<circle cx="426" cy="407.4" r="9.7" fill="#fff"/>
<circle cx="409.4" cy="412.5" r="6.4" fill="#fff"/>
<circle cx="347" cy="360.2" r="6.4" fill="#fff"/>
<circle cx="387.8" cy="394.6" r="6.4" fill="#fff"/>
<circle cx="326.5" cy="408.7" r="5" fill="#fff"/>
<circle cx="443.8" cy="407.4" r="4" fill="#fff"/>
<circle cx="373.7" cy="387" r="4" fill="#fff"/>
<circle cx="339" cy="378" r="4" fill="#fff"/>
<circle cx="357" cy="350" r="3" fill="#fff"/>
<circle cx="412" cy="379" r="3" fill="#fff"/>
<circle cx="400.5" cy="405" r="3" fill="#fff"/>
<circle cx="322" cy="356" r="3.5" fill="#fff"/>
<circle cx="331" cy="367" r="3" fill="#fff"/>
<circle cx="358" cy="377" r="2.6" fill="#fff"/>
<circle cx="361" cy="409" r="4.5" fill="#fff"/>
<circle cx="377" cy="410" r="3.2" fill="#fff"/>
<circle cx="345" cy="413" r="3.5" fill="#fff"/>
<circle cx="440" cy="360" r="3" fill="#fff"/>
<circle cx="405" cy="352" r="2.6" fill="#fff"/>
<circle cx="389" cy="351" r="2.2" fill="#fff"/>
<circle cx="442" cy="393" r="3" fill="#fff"/>
<circle cx="420" cy="391" r="2.6" fill="#fff"/>
<circle cx="352" cy="402" r="2.2" fill="#fff"/>
<circle cx="333" cy="352" r="2.2" fill="#fff"/>
<circle cx="414" cy="398" r="2" fill="#fff"/>
<circle cx="352.12" cy="411.74" r="2.78" fill="#fff"/>
<circle cx="444.1" cy="351.2" r="3.97" fill="#fff"/>
<circle cx="397.52" cy="347.44" r="4.01" fill="#fff"/>
<circle cx="427.31" cy="368.76" r="3.36" fill="#fff"/>
<circle cx="332.9" cy="417.37" r="3.23" fill="#fff"/>
<circle cx="408.45" cy="390.7" r="2.79" fill="#fff"/>
<circle cx="352.74" cy="386.47" r="2.95" fill="#fff"/>
<circle cx="377.64" cy="393.6" r="2.64" fill="#fff"/>
<circle cx="366.48" cy="395.75" r="4.04" fill="#fff"/>
<circle cx="320.27" cy="418.2" r="2.22" fill="#fff"/>
<circle cx="394.59" cy="410.09" r="3.78" fill="#fff"/>
<circle cx="373.7" cy="402.24" r="2.47" fill="#fff"/>
<circle cx="343.85" cy="349.11" r="2.9" fill="#fff"/>
<circle cx="444.97" cy="365.14" r="2.21" fill="#fff"/>
<circle cx="391.65" cy="418.31" r="2.39" fill="#fff"/>
<circle cx="401.33" cy="394.32" r="3.28" fill="#fff"/>
<circle cx="333.61" cy="400.25" r="3.51" fill="#fff"/>
<circle cx="381.77" cy="383.67" r="3.05" fill="#fff"/>
<circle cx="318.82" cy="374.93" r="2.51" fill="#fff"/>
<circle cx="421.99" cy="378.66" r="2.33" fill="#fff"/>
<circle cx="366.65" cy="347.59" r="4.29" fill="#fff"/>
<circle cx="363.95" cy="417.72" r="3.57" fill="#fff"/>
<circle cx="436.25" cy="367.32" r="3" fill="#fff"/>
<circle cx="355.41" cy="395.05" r="2.51" fill="#fff"/>
<circle cx="360.84" cy="387.43" r="2.99" fill="#fff"/>
<circle cx="412.84" cy="353.37" r="3.42" fill="#fff"/>
<circle cx="337.2" cy="408.78" r="4.4" fill="#fff"/>
<circle cx="381.18" cy="349.99" r="2.94" fill="#fff"/>
<circle cx="358.05" cy="368.52" r="2.76" fill="#fff"/>
<circle cx="378.1" cy="418.27" r="2.31" fill="#fff"/>
<circle cx="414.43" cy="387.03" r="3.01" fill="#fff"/>
<circle cx="346.97" cy="381.57" r="2.26" fill="#fff"/>
<circle cx="327.07" cy="350.89" r="2.54" fill="#fff"/>
<circle cx="357.57" cy="400.51" r="2.27" fill="#fff"/>
<circle cx="335.28" cy="358.11" r="3.13" fill="#fff"/>
<circle cx="427.78" cy="392.48" r="4.13" fill="#fff"/>
<circle cx="322.35" cy="400.19" r="3.35" fill="#fff"/>
<circle cx="351.04" cy="374.5" r="2.35" fill="#fff"/>
<circle cx="323.08" cy="368.35" r="2.48" fill="#fff"/>
<circle cx="438.2" cy="414.15" r="3.18" fill="#fff"/>
<circle cx="358.27" cy="357.74" r="2.67" fill="#fff"/>
<circle cx="369.55" cy="412.98" r="2.65" fill="#fff"/>
<circle cx="407.68" cy="401.94" r="2.68" fill="#fff"/>
</g></g>
<clipPath id="cp7"><rect x="54" y="427.2" width="128" height="73.2"/></clipPath>
<g clip-path="url(#cp7)">
<rect x="54" y="427.2" width="128" height="73.2" fill="#d88" filter="url(#t7)"/>
<g filter="url(#sb)">
<path d="M89.8 427.35h.01M104.27 483.51h.01M94.86 490.56h.01M54.45 475.78h.01M58.98 436.11h.01M152.44 490.38h.01M147.8 464.05h.01M180.9 441.46h.01M107.44 460.89h.01M181.29 465.99h.01M109.41 481.51h.01M62.61 470.51h.01M175.57 496.52h.01M112.16 460.46h.01M86.4 447.85h.01M55.5 439.08h.01M133.92 456.74h.01M61.46 444.44h.01M137.71 427.49h.01M97.02 462.01h.01M96.49 457.82h.01M56.03 480.93h.01M94.92 433.31h.01M136.49 486.74h.01M58.36 474.18h.01M86.88 469.7h.01M156.18 474.49h.01M146.8 434.94h.01M170.21 465.74h.01M88.03 450.52h.01M125.48 442.34h.01M61.74 461.69h.01M174.83 438.57h.01M115.99 464.63h.01M165.8 487.05h.01M88.04 438.5h.01M60.17 430.25h.01M76.97 481.31h.01M130.7 448.57h.01M166.96 466.76h.01M91.78 496.15h.01M166.33 482.1h.01M82.75 448.51h.01M65.67 479.23h.01M130.1 456.98h.01M55.88 456.19h.01M105.22 453.37h.01M158.06 456.01h.01M109.98 440.86h.01M59.21 448.82h.01M143.26 492.49h.01M138.67 477.55h.01M148.09 458.76h.01M82 472.44h.01M83.4 489.93h.01M143.42 468.85h.01M127.29 479.44h.01M97.53 476.03h.01M142.86 473.73h.01M87.74 460.74h.01M106.32 491.3h.01M75.52 436.11h.01M118.51 488.95h.01M80 494.75h.01M140.4 466.51h.01M162.92 475.16h.01M140.31 447.18h.01M128.27 446.33h.01M148.42 480.4h.01M98.83 454.68h.01M153.62 495.68h.01M68.53 470.18h.01M99.6 441.51h.01M82.36 496.86h.01M147.53 499.65h.01M65.94 428.44h.01M119.44 498.68h.01M142.03 439.76h.01M97.65 446.13h.01M122.38 445.65h.01M119.94 462.47h.01M177.53 455.26h.01M158.32 489.99h.01M57.35 496.25h.01M97.32 481.47h.01M64.86 453.19h.01M139.88 455.84h.01M115.05 469.94h.01M117.08 433.37h.01M74.2 455.5h.01M135.94 464.91h.01M105.32 441.86h.01M55.81 451.53h.01M163.56 431.28h.01M64.27 436.36h.01M117.49 437.07h.01M135.68 449.01h.01M152.16 458.32h.01M172.67 448.18h.01M165.09 472.05h.01M61.18 480.52h.01M66.98 438.54h.01M65.81 487.88h.01M122.16 483.88h.01M91.98 445.88h.01M174.3 453.57h.01M85.39 464.55h.01M152.14 437.11h.01M88.94 476.41h.01M76.4 429.39h.01M85.36 436.09h.01M112.07 494.63h.01M152.86 499.71h.01M62.31 485.79h.01M171.49 444.65h.01M63.49 494.22h.01M79.57 441.61h.01M76.72 467.92h.01M131.11 440.42h.01M174.39 434.79h.01M86.93 472.9h.01M69.93 444.94h.01M172.59 479.94h.01M121.86 478.78h.01M78.76 460.75h.01M141.83 434.31h.01M120.37 438.26h.01M91.77 473.1h.01M181.23 497.86h.01M157.47 430.16h.01M158.68 445.46h.01M147 440.48h.01M162.98 469.58h.01M140.73 482.96h.01M86.16 492.38h.01M89.39 443.43h.01M168.09 429.8h.01M59.24 488.72h.01M120.95 466.26h.01M121.3 441.99h.01M77.21 499h.01M162.61 450.07h.01M169.37 461.87h.01M94.84 500.38h.01M113.99 498.5h.01M180.31 444.62h.01M108.6 447.31h.01M94.92 471.33h.01M126.77 488.7h.01M130.61 461.53h.01M123.1 469.23h.01M130.35 491h.01M72.75 449.84h.01M66.38 491.39h.01M62.21 476.15h.01M135.98 460.53h.01M72.38 468.84h.01M100.69 471.88h.01M79.94 434.73h.01M175.6 447.52h.01M175.96 441.71h.01M90.47 462.87h.01M69.48 496.58h.01M134.84 470.57h.01M108.22 468.17h.01M145.89 444.79h.01M80.63 456.39h.01M128.8 430.27h.01M126.76 499.31h.01M131.69 433.27h.01M124.67 448.94h.01M98.11 427.21h.01M87.36 430.63h.01M103.18 499.78h.01M82.67 443.71h.01M100.86 433.47h.01M120.26 432.74h.01M58.43 492.57h.01M100.05 478.65h.01M106.98 478.72h.01M91.92 440.14h.01M111.28 477.06h.01M145.8 478.17h.01M149.02 427.56h.01M70.35 478.77h.01M170.11 495.09h.01M123.36 488.22h.01M105.12 434.92h.01M122.93 461.16h.01M166.3 441.64h.01M57.78 428.2h.01M169.1 499.62h.01M136.29 435.8h.01M118.02 476.51h.01M56.17 467.89h.01M141.75 429.16h.01M143.56 481.04h.01M86.2 442.69h.01M133.92 498.25h.01M83.59 483.26h.01M150.03 447.8h.01M99.16 467.57h.01M124.78 453.19h.01M99.99 488.55h.01M114.95 427.43h.01M65.14 465.7h.01M102.99 465.2h.01M126.84 472.32h.01M162.22 495.66h.01M113.99 431.5h.01M84.31 499.75h.01M108.85 454.12h.01M115.72 481.56h.01M58.51 464.09h.01M106.87 471.85h.01M107.32 437.85h.01M109.1 458.06h.01M57.47 460.21h.01M158.1 438.01h.01M144.53 499.2h.01M73.99 438.89h.01M160.8 471.73h.01M149.79 483.6h.01M171.2 453.36h.01M103.44 459.79h.01M162.23 489.54h.01M94.17 450.44h.01M88.65 483.62h.01M96.38 430.44h.01M167.07 435.32h.01M158.16 462.06h.01M165.31 453.29h.01M143.64 484.99h.01M61.64 433.69h.01M56.95 486.43h.01M141.7 477.26h.01M172.71 487.96h.01M130.87 470.49h.01M126.19 492.74h.01M113.73 449.08h.01M99.63 499.24h.01M117.29 457.49h.01M163.37 499.67h.01M66.78 443.97h.01M92.53 492.64h.01M156.54 480.98h.01M104.85 447.64h.01M135.74 441.81h.01M68.5 481.18h.01M139.84 437.58h.01M126.8 436.91h.01M94.16 483.74h.01M74.06 464.72h.01M75.82 449.89h.01M72.36 474.97h.01M81.57 431.34h.01M97.5 436.23h.01M179.61 448.04h.01M66.87 473.01h.01M132.06 474.69h.01" fill="none" stroke="#a03a4c" stroke-width="1.6" stroke-linecap="round" stroke-opacity="0.8"/>
<path d="M144.71 493.22h.01M153.13 468.8h.01M112.33 472.99h.01M108.34 457.77h.01M94.66 487.84h.01M112.23 465.29h.01M99.18 486.82h.01M121.03 487.7h.01M159.62 432.73h.01M143.89 434.93h.01M105.74 439.54h.01M59.49 491.34h.01M164.65 445.52h.01M114.74 450.06h.01M85.68 482.26h.01M89.01 467.35h.01M99.68 495.99h.01M128.21 427.91h.01M166.04 465.34h.01M157.08 480.45h.01M107.11 482.63h.01M169.79 483.47h.01M173.29 442.33h.01M59.22 484.56h.01M178.54 488.94h.01M176.51 491.5h.01M62.4 490.28h.01M104.19 487.32h.01M80.47 456.59h.01M125.6 451.75h.01M98.81 492.65h.01M150.21 495.79h.01M59.58 451.42h.01M180.49 498.94h.01M111.24 500.07h.01M96.67 454.25h.01M87.5 455.59h.01M69.95 476.97h.01M142.2 468.52h.01M158.53 461.62h.01M180.21 474.24h.01M63.64 453.73h.01M64.03 459.4h.01M64.13 438.43h.01M140.9 485.01h.01M104.61 492.31h.01M105.13 448.47h.01M68.97 499.9h.01M62.36 448.61h.01M79.11 495.99h.01M115.93 463.62h.01M146.99 499.51h.01M82.84 463.03h.01M140.43 463.85h.01M174.99 479.06h.01M98.82 431.34h.01M172.92 497.46h.01M175.21 431.93h.01M170.33 499.49h.01M86.26 458.9h.01M114.75 445.67h.01M78.57 438.77h.01M154.97 462h.01M157.39 497.77h.01M132.55 466.54h.01M95.39 429.76h.01M62.59 500.38h.01M85.93 432.21h.01M62.39 482.34h.01M148.86 489.69h.01M112.44 494.13h.01M181.62 465.78h.01M56.98 498.64h.01M108.73 469.01h.01M134.51 435.26h.01M138.43 450.97h.01M164.75 489.62h.01M166.22 441.16h.01M113.62 430.82h.01M92.83 476.77h.01M137.87 469.03h.01M116.21 471.65h.01M56.01 429.04h.01M120.82 476.93h.01M151.92 429.96h.01M130.86 455.98h.01M131.62 481.14h.01M114.77 479.19h.01M105.75 465.8h.01M80.22 434.69h.01M55.03 447.88h.01M110.68 433.46h.01M168.09 470.72h.01M88.7 485.53h.01M80.15 474.74h.01M158.35 487.35h.01M177.94 430.36h.01M91.69 468.85h.01M136.3 493.4h.01M163.81 462.48h.01M70.1 457.9h.01M71.93 427.69h.01M92.03 437.34h.01M101.7 491.18h.01M134.74 472.25h.01M181.87 469.36h.01M103.39 444.22h.01M118.54 466.06h.01M100.98 477.52h.01M94.59 441.56h.01" fill="none" stroke="#74548c" stroke-width="1.4" stroke-linecap="round" stroke-opacity="0.7"/>
</g></g>
<clipPath id="cp8"><rect x="186" y="427.2" width="128" height="73.2"/></clipPath>
<g clip-path="url(#cp8)">
<rect x="186" y="427.2" width="128" height="73.2" fill="#d88" filter="url(#t8)"/>
<g filter="url(#sb)">
<path d="M230.61 473.26h.01M235.61 495.46h.01M269.11 441.81h.01M214.59 486.96h.01M218.4 493.54h.01M221.84 434.52h.01M249.3 471.97h.01M279.26 437.92h.01M257.02 476.46h.01M208.75 450.46h.01M297.05 498.87h.01M196.03 492.85h.01M218.23 472.55h.01M286.36 481.71h.01M292.13 479.27h.01M293.19 476.29h.01M239.03 490.81h.01M268.41 447.19h.01M186.92 488.28h.01M311.52 482.22h.01M281.07 491.65h.01M307.83 472.49h.01M302.84 465.87h.01M246.22 489.98h.01M291.17 497.79h.01M233.14 486.14h.01M209.66 443.85h.01M289.72 465.45h.01M206.57 492.96h.01M203.23 429.64h.01M234.32 449.81h.01M300.82 451.35h.01M264.2 494.64h.01M193.23 439.56h.01M278.58 493.99h.01M265.81 473.45h.01M204.48 483.17h.01M242.26 438.28h.01M203.22 443.99h.01M247.94 435.11h.01M210.71 484.06h.01M286.89 487.84h.01M290.14 470.49h.01M254.73 431.83h.01M191.11 453h.01M302.33 496.02h.01M220.08 461.28h.01M259.96 445.94h.01M202.44 468.12h.01M253.27 479.75h.01M214.14 460.87h.01M209.11 476.81h.01M207.11 431.52h.01M186.41 497.1h.01M279.06 459.77h.01M291.91 436.53h.01M310.24 441.85h.01M267.14 468.63h.01M251.24 441.82h.01M255.39 499.44h.01M280.3 472.85h.01M303.88 444.22h.01M192.86 443.48h.01M224.23 471.77h.01M254.37 441.5h.01M258.07 439.66h.01M209.52 466.65h.01M207.2 462h.01M303.34 462.8h.01M190.56 436.05h.01M208.6 470.59h.01M287 438.41h.01M226.43 490.57h.01M270.83 499.21h.01M282.61 441.8h.01M248.33 497.82h.01M217.75 489.64h.01M283.27 475.86h.01M200.5 427.48h.01M267.76 485.88h.01M300.96 469.58h.01M267.36 477.16h.01M233.68 476.06h.01M266.29 454.33h.01M256.45 435.12h.01M208.75 490.75h.01M229.84 457.23h.01M197.28 465.73h.01M253.33 462.35h.01M261.98 456.09h.01M300.09 479.37h.01M299.06 465.74h.01M214.58 491.19h.01M278.51 443.88h.01M223.82 439.83h.01M234.81 499.72h.01M242.09 464.41h.01M295.08 457.78h.01M223.33 462.38h.01M229.82 447.45h.01M265.04 427.51h.01M210.59 427.82h.01M262.81 499.22h.01M200.91 458.04h.01M213.14 467.29h.01M251.89 488.06h.01M203.74 460.49h.01M198.56 470.55h.01M303.37 480.99h.01M218.47 455.76h.01M251.36 482.7h.01M256.65 496.27h.01M253.64 427.9h.01M297.58 474h.01M209.6 433.46h.01M200.07 475.69h.01M269.59 491.51h.01M188.4 439.44h.01M281.89 452.88h.01M285.67 433.43h.01M220.72 439.22h.01M217.49 440.64h.01M221.21 471.62h.01M311.13 486.6h.01M295.7 428.55h.01M225.73 466.41h.01M283.8 497.15h.01M196.3 473.56h.01M247.97 476.83h.01M237.24 433.25h.01M218.02 498.22h.01M208.92 496.73h.01M309.1 462.5h.01M232.09 443.24h.01M201.49 454.51h.01M290.9 491.57h.01M202.32 478.57h.01M221.1 484.23h.01M199.14 451.74h.01M305.51 477.37h.01M306.41 458.25h.01M298.07 438.74h.01M195.25 478.28h.01M192.06 446.75h.01M281.84 485.44h.01M281.91 444.8h.01M311.86 447.6h.01M194.94 448.65h.01M240.73 449.08h.01M309.72 498.57h.01M275.08 465.5h.01M221.63 444.2h.01M187.53 431.65h.01M249.92 438.97h.01M240.76 441.37h.01M210.25 454.02h.01M228.99 482.92h.01M236.27 487.4h.01M211.96 472.38h.01M231.15 437.26h.01M260.03 450.58h.01M246.37 480.66h.01M303.84 492.62h.01M299.54 494.15h.01M195.88 489.6h.01M266.06 480.14h.01M229.6 460.24h.01M258.3 467.97h.01M272.93 462.84h.01M248.93 431.58h.01M310.03 469.37h.01M205.59 499.57h.01M186.05 500.39h.01M298.27 459.44h.01M252.06 491.4h.01M196.87 482.23h.01M245.1 475.64h.01M207.21 440.01h.01M218.49 433.56h.01M224.74 456.02h.01M274.86 480.18h.01M256.77 460.29h.01M227.38 476.47h.01M312.89 457.98h.01M233.09 456.98h.01M243.52 481.6h.01M210.75 480.57h.01M192.54 466.4h.01M287.98 452.37h.01M249 462.3h.01M247.57 457.7h.01M313.33 431.85h.01M276.27 488.25h.01M248.05 427.79h.01M313.22 462.72h.01M262.58 489.64h.01M233.61 470.39h.01M226.37 436.37h.01M251.45 466.05h.01M309.26 430.95h.01" fill="none" stroke="#c8221a" stroke-width="1.9" stroke-linecap="round" stroke-opacity="0.9"/>
<path d="M200.95 457.67h.01M306.64 495.54h.01M273.07 445.25h.01M254.57 489.52h.01M256.74 454.02h.01M274.42 454.63h.01M285.3 463.42h.01M283.32 489.02h.01M296.87 470.59h.01M247.89 498.14h.01M305.69 482.55h.01M240.14 454.63h.01M240.34 439.63h.01M245.72 489.3h.01M304.98 475.11h.01M221.7 470.29h.01M297.67 484.31h.01M302.55 492.24h.01M287.8 439.11h.01M243.88 477.28h.01M200.75 449.3h.01M276.24 488.7h.01M258.46 458.82h.01M301.07 433.48h.01M206.45 451.59h.01M256.36 462.25h.01M297 435.57h.01M203.53 438.05h.01M310.34 443.74h.01M264.14 481.08h.01M218.43 444.42h.01M275.46 434.24h.01M313.34 497.29h.01M283.13 452.01h.01M296.04 440.65h.01M288.06 490.62h.01M248.86 460.78h.01M305.49 446.83h.01M309.95 466.21h.01M277.98 442.97h.01M310.86 483.94h.01M219.24 452.61h.01M306.7 487.38h.01M245.45 451.09h.01M311.47 471.38h.01M226.42 471.35h.01M225.49 488.37h.01M289.1 470.57h.01M275.53 493.64h.01M278.41 460.8h.01M196.19 487.44h.01M298.63 461.64h.01M202.77 466.93h.01M283.73 438.74h.01M262.98 455.7h.01M292.11 437.72h.01M270.86 465.07h.01M305.09 467.34h.01M269.17 428.41h.01M227.8 434.33h.01" fill="none" stroke="#de2c1a" stroke-width="3.4" stroke-linecap="round"/>
<path d="M279.36 477.62h.01M288.56 468.36h.01M200.13 448.61h.01M217.44 436.33h.01M294.99 443.65h.01M267.97 497.99h.01M218.37 489.86h.01M267.36 449.3h.01M247.87 453.58h.01M232.95 427.65h.01M283.11 493.86h.01M245.77 494.98h.01M291.12 449.47h.01M213.85 446.08h.01M249.3 481.32h.01M269.03 436.73h.01M278.06 496.92h.01M205.99 436.01h.01M249.61 444.57h.01M262.46 439.55h.01M300.53 443.67h.01M190.35 497.91h.01M242.64 473.96h.01M289.88 497.24h.01M299.21 458.08h.01M271.1 434.44h.01M254.83 481.54h.01M277.68 428.88h.01M252.62 467.63h.01M282.34 459.35h.01M190.07 459.02h.01M309.05 458.12h.01M213.3 475.53h.01M307.29 437.13h.01M224.72 448.86h.01M287.13 441.38h.01M230.89 452.19h.01M250.17 448.09h.01M286.34 490.79h.01M308.99 461.47h.01M230.42 460.31h.01M225.36 427.64h.01M202.52 462.21h.01M208.76 440.8h.01M261.91 466.39h.01M310.74 455.63h.01M228.13 474.86h.01M193.3 474.48h.01M217.79 475.84h.01M275.86 455.05h.01M290.71 432.46h.01M313.58 483.59h.01M311.32 499.52h.01M227.46 439.14h.01M196.65 449.28h.01M199.23 482.46h.01M253.18 494.86h.01M262.87 455.71h.01M222.16 492.25h.01M211.18 454.5h.01M186 479.98h.01M262.28 480.39h.01M196.19 495.48h.01M233.69 492.21h.01M293.78 486.25h.01M221.17 431.99h.01M254.97 497.33h.01M226.34 461.73h.01M239.49 439.37h.01M241.06 478.25h.01M280.59 446.48h.01M233.28 498.68h.01M249.33 487.67h.01M283.77 485.24h.01M222.61 436.91h.01M294.31 451.04h.01M257.81 444.29h.01M312.22 429.08h.01M256.89 500.35h.01M260.67 447.3h.01M290.95 459.82h.01M206.82 447.76h.01M195.68 471.68h.01M216.63 461.7h.01M289.35 491.75h.01M188.5 494.7h.01M278.07 436.31h.01M275.09 465.29h.01M298.32 446.18h.01M287.26 479.09h.01M198.93 465.69h.01M189.22 448.2h.01M208.28 463.43h.01M285.73 469.58h.01M202.6 431.06h.01M258.61 469.1h.01M218.7 493.1h.01M307.17 451.32h.01M230.03 468.5h.01M211.14 434.77h.01M246.67 436.57h.01M200.51 494.95h.01M292.61 440.37h.01M291.28 467.08h.01M298.14 434.13h.01M207.28 469.13h.01M204.52 444.3h.01M282.12 481.05h.01M213.9 465.3h.01M186.77 459.19h.01M301.3 490.74h.01M191.3 468.26h.01M304.8 491.55h.01M265.09 427.28h.01M251.92 453.31h.01M199.86 459.33h.01M221.02 469.38h.01M245.34 432.81h.01M304.32 476.76h.01M213.43 451.32h.01M229.06 463.32h.01M230.64 434.97h.01M230.24 495.65h.01M220.19 486.51h.01M257.62 483.64h.01M191.55 455.81h.01M216.27 484.65h.01M295.22 435.18h.01M277.53 449.67h.01M262.13 429.66h.01M312.94 450.17h.01M269.02 451.86h.01M221.9 479.89h.01M274.21 474.84h.01M255.52 440.36h.01M218.72 440.3h.01M199.52 444.12h.01M231.96 487.19h.01M260.4 441.89h.01M298.91 477h.01M251.01 457.31h.01M205.8 427.46h.01M200.63 471.63h.01M243.31 459.46h.01M244.2 463.45h.01M218.79 456.68h.01M259.97 452.93h.01M307.4 455.1h.01M257.48 476.92h.01M234.03 446.37h.01M194.04 457.88h.01M240.09 432.87h.01M249.51 477.92h.01M187.36 488.61h.01M190.11 440.22h.01M209.99 480.85h.01M228.36 431.81h.01M271.41 456.29h.01M227.94 456.32h.01M311.72 495.06h.01M226.01 452.55h.01M192.91 442.37h.01M302.59 461.97h.01M276.36 485.49h.01M189.97 472.5h.01M310.37 439.97h.01M281.96 438.99h.01M304.74 470.07h.01M265.09 491.71h.01M294.18 428.65h.01" fill="none" stroke="#6e5a90" stroke-width="1.5" stroke-linecap="round" stroke-opacity="0.85"/>
<ellipse cx="290" cy="441" rx="3.4" ry="2.4" fill="#fff"/>
<ellipse cx="281" cy="459" rx="2.6" ry="1.8" fill="#fff"/>
<ellipse cx="213" cy="443" rx="5.5" ry="3.6" fill="#fff" fill-opacity="0.8"/>
<ellipse cx="252" cy="441.5" rx="4.2" ry="3" fill="#fff" fill-opacity="0.8"/>
<ellipse cx="236" cy="470" rx="3.2" ry="2.2" fill="#fff" fill-opacity="0.7"/>
<ellipse cx="199" cy="455" rx="3" ry="4" fill="#fff" fill-opacity="0.6"/>
<ellipse cx="262" cy="488" rx="3.5" ry="2.4" fill="#fff" fill-opacity="0.7"/>
<ellipse cx="300" cy="470" rx="3" ry="2.2" fill="#fff" fill-opacity="0.7"/>
<ellipse cx="233" cy="431.5" rx="5.5" ry="3" fill="#8c3a44" fill-opacity=".55"/>
<ellipse cx="192" cy="437" rx="4" ry="6" fill="#7a5a88" fill-opacity=".35"/>
</g></g>
<clipPath id="cp9"><rect x="317.6" y="427.2" width="127.6" height="73.2"/></clipPath>
<g clip-path="url(#cp9)">
<rect x="317.6" y="427.2" width="127.6" height="73.2" fill="#d88" filter="url(#t9)"/>
<g filter="url(#sb)">
<path d="M338.58 431.5h.01M340.16 484.54h.01M405.73 436.42h.01M363.04 478.36h.01M382.22 498.29h.01M430.61 494.96h.01M377.76 445.04h.01M335.34 466.33h.01M367.03 438.54h.01M436.79 434.43h.01M425.68 436.8h.01M352.86 428.46h.01M434.42 454.69h.01M346.91 428.79h.01M371.05 436.94h.01M359.66 440.29h.01M353.59 433.57h.01M390.62 435.29h.01M399.29 493.28h.01M333.12 494.38h.01M358.44 448.19h.01M377.34 495.88h.01M408.99 461.38h.01M368.76 433.22h.01M414.37 467.89h.01M403.39 493.38h.01M391.62 453.77h.01M399.36 463.4h.01M335.78 428.22h.01M408.03 428.65h.01M404.68 448.96h.01M443.77 483.4h.01M342.41 456.79h.01M385.85 470.92h.01M437.72 448.92h.01M334.87 459.6h.01M348.18 466.44h.01M444.25 466.22h.01M332.77 477.94h.01M410.75 465.87h.01M341.87 446.6h.01M398.91 481.95h.01M338.35 451.75h.01M327.94 427.78h.01M393.86 440.52h.01M366.42 467.25h.01M317.75 442.8h.01M439.34 430.06h.01M442.77 499.82h.01M339.17 440.05h.01M373.62 447.74h.01M426.32 467.3h.01M402.95 458.63h.01M331.04 462.97h.01M391.51 445.79h.01M367.81 492.83h.01M419.77 445.08h.01M335.19 440.61h.01M422.22 465.6h.01M321.09 445.82h.01M325.38 471.68h.01M386.21 482.85h.01M376.84 472.66h.01M358.27 432.5h.01M341.38 476.22h.01M418.66 457.43h.01M339.5 468.35h.01M427.05 462h.01M437.94 441.4h.01M418.8 439.12h.01M436.15 494h.01M351.46 481.13h.01M321.82 478.32h.01M321.88 466.95h.01M377.81 437.52h.01M425.43 442.05h.01M383.2 492.32h.01M407.19 440.81h.01M326.25 461.89h.01M379.62 459.36h.01M368.44 428.65h.01M412.79 473.69h.01M354.87 488.77h.01M357.34 436.8h.01M330.88 483h.01M363.37 498.41h.01M376.82 465.59h.01M411.34 452.64h.01M353.75 499.68h.01M336.45 488.88h.01M338.39 463.59h.01M429.93 478.69h.01M367.65 443.08h.01M421.95 486.44h.01M378.18 432h.01M372.48 480.37h.01M357.76 458.46h.01M433.85 480.24h.01M371.84 459.56h.01M433.23 460.06h.01M348.03 492.87h.01M346.35 438.25h.01M344.94 453.35h.01M414.76 478.35h.01M433.1 430.92h.01M362.88 493.38h.01M440.9 434.85h.01M427.77 428.32h.01M329.92 436.93h.01M375.62 458.21h.01M419.2 461.46h.01M323.89 429.04h.01M414.1 485.84h.01M364.76 473.37h.01M414.47 491.33h.01M322.05 453.75h.01M357.32 464.45h.01M361.46 443.87h.01M387.76 493.6h.01M393.79 491.77h.01" fill="none" stroke="#ea351d" stroke-width="2" stroke-linecap="round"/>
<path d="M362.52 434.81h.01M389.76 478.44h.01M418.53 457.44h.01M382.19 491.86h.01M347.52 437.6h.01M342.17 463.68h.01M416.7 489.89h.01M342.47 451.71h.01M345.35 471.54h.01M429.61 434.59h.01M399.25 482.73h.01M338.53 475.01h.01M421.2 434.1h.01M394.86 432.97h.01M412.75 445.09h.01M341.34 431.35h.01M321.23 491.69h.01M410.84 431.98h.01M379.61 451.93h.01M360.7 474.08h.01M370.23 463.93h.01M433.09 489.74h.01M365.49 485.96h.01M350.08 492.63h.01M436.17 475.08h.01M320.12 483.26h.01M409.07 475.98h.01M427.73 486.67h.01M407.59 496.43h.01M329.28 442.15h.01M424.09 471.15h.01M392.56 489.59h.01M425.88 479.17h.01M321.29 433.25h.01M407.24 442.39h.01M326.96 496.73h.01M321.41 447.15h.01M369.43 478.95h.01M438.13 495.13h.01M367.58 451.52h.01M343.37 494.56h.01M380.99 484.64h.01M351.97 499.57h.01M339.24 488.73h.01M382.77 498.04h.01M362.48 443.93h.01M356.14 451.54h.01M400.49 444.01h.01M425.13 454.87h.01M332.09 484.4h.01" fill="none" stroke="#e42a14" stroke-width="3.2" stroke-linecap="round"/>
<path d="M328.43 500.07h.01M416.29 445.07h.01M337.1 437.45h.01M428.36 447.76h.01M394.79 484.14h.01M343.47 450.76h.01M352.59 458.66h.01M425.75 439.08h.01M387.87 451.17h.01M348.62 440.91h.01M410.79 497.07h.01M339.03 442.51h.01M385.53 433.51h.01M398.98 487.68h.01M323.1 455.5h.01M431.91 448.27h.01M387.1 480.37h.01M376.83 431.01h.01M398.6 471.56h.01M382.43 458.64h.01M332.94 457.39h.01M333.89 490.81h.01M413.7 447.12h.01M405.46 450.23h.01M399.57 453.23h.01M411.84 473.43h.01M355.69 494.05h.01M369.77 500.3h.01M396.32 435.22h.01M382.15 442.52h.01M384.19 437.95h.01M330.79 441.76h.01M414.85 478.44h.01M342.06 468.09h.01M366.8 442.56h.01M338.09 468.23h.01M324.18 447.53h.01M428.01 465.1h.01M437.05 447.87h.01M402.9 485.91h.01M379.07 462.8h.01M386.51 487.55h.01M377.77 451.48h.01M425.17 470.07h.01M324.44 434h.01M420.99 499.78h.01M429.11 452.95h.01M444.2 443.6h.01M423.43 434.44h.01M346.01 494.9h.01M377.42 442.63h.01M345.05 485.8h.01M356.47 441.1h.01M370.96 472.25h.01M407.7 480.42h.01M354.44 437.06h.01M394.47 459.65h.01M404.26 441.87h.01M421.82 458.07h.01M435.53 497.06h.01M422.88 431.38h.01M406.65 457.31h.01M342.25 458.29h.01M433.5 489.83h.01M375.21 459.2h.01M347.09 478.88h.01M325.83 437.38h.01M373.16 475.15h.01M373.28 492.13h.01M323.28 490.48h.01M376.81 455.73h.01M371.37 485.61h.01M360.02 490.91h.01M349.94 437.36h.01M401.04 458.65h.01M358.28 472.6h.01M380.73 434.55h.01M441.7 454.47h.01M338.89 462.77h.01M354.46 466.01h.01M423.31 497.02h.01M325.75 494.49h.01M337.2 498.19h.01M433.41 473.12h.01M383.87 480.59h.01M427.54 481.01h.01M354.47 489.73h.01M357.18 456.09h.01M388.09 470.2h.01M427.08 492.44h.01M408.85 476.3h.01M396.08 447.02h.01M439.24 472.57h.01M415.52 436.02h.01M394.2 432.27h.01M411.79 486.97h.01M379.18 478.07h.01M370.39 444.9h.01M367.33 484.46h.01M419.88 444.02h.01M319.32 455.45h.01M425.03 458.14h.01M445.14 433.01h.01M346.45 498.44h.01M436.38 433.64h.01M426.39 484.07h.01M387.43 457.75h.01M334.05 471.9h.01M423.55 446.25h.01M329.21 480.83h.01" fill="none" stroke="#8a80aa" stroke-width="1.3" stroke-linecap="round" stroke-opacity="0.75"/>
<ellipse cx="377.6" cy="477.4" rx="5.4" ry="8.6" fill="#fff"/>
<ellipse cx="362.2" cy="445.5" rx="3.8" ry="3.8" fill="#fff"/>
<ellipse cx="324" cy="480" rx="3" ry="3" fill="#fff"/>
<ellipse cx="394" cy="462" rx="3" ry="2.4" fill="#fff"/>
<ellipse cx="408" cy="446" rx="2.6" ry="2.6" fill="#fff"/>
<ellipse cx="424" cy="478" rx="3" ry="3" fill="#fff"/>
<ellipse cx="340" cy="456" rx="2.6" ry="3" fill="#fff"/>
<ellipse cx="377.6" cy="477.4" rx="6.6" ry="9.8" fill="none" stroke="#8a7fb2" stroke-width="1.3" stroke-opacity=".55" stroke-dasharray="2 1.2"/>
<circle cx="326.36" cy="487.82" r="2.37" fill="#f6a070" fill-opacity=".7"/>
<circle cx="326.36" cy="487.82" r="1.67" fill="#e8260f"/>
<circle cx="367.25" cy="444.34" r="2.8" fill="#f6a070" fill-opacity=".7"/>
<circle cx="367.25" cy="444.34" r="2.1" fill="#e8260f"/>
<circle cx="358.61" cy="492.64" r="2.94" fill="#f6a070" fill-opacity=".7"/>
<circle cx="358.61" cy="492.64" r="2.24" fill="#e8260f"/>
<circle cx="351.48" cy="447.61" r="2.42" fill="#f6a070" fill-opacity=".7"/>
<circle cx="351.48" cy="447.61" r="1.72" fill="#e8260f"/>
<circle cx="391.2" cy="442.53" r="2.33" fill="#f6a070" fill-opacity=".7"/>
<circle cx="391.2" cy="442.53" r="1.63" fill="#e8260f"/>
<circle cx="347.92" cy="496.82" r="2.58" fill="#f6a070" fill-opacity=".7"/>
<circle cx="347.92" cy="496.82" r="1.88" fill="#e8260f"/>
<circle cx="397.95" cy="484.93" r="2.66" fill="#f6a070" fill-opacity=".7"/>
<circle cx="397.95" cy="484.93" r="1.96" fill="#e8260f"/>
<circle cx="413.93" cy="483.6" r="2.65" fill="#f6a070" fill-opacity=".7"/>
<circle cx="413.93" cy="483.6" r="1.95" fill="#e8260f"/>
<circle cx="384.36" cy="451.6" r="2.98" fill="#f6a070" fill-opacity=".7"/>
<circle cx="384.36" cy="451.6" r="2.28" fill="#e8260f"/>
<circle cx="370.32" cy="478.4" r="2.38" fill="#f6a070" fill-opacity=".7"/>
<circle cx="370.32" cy="478.4" r="1.68" fill="#e8260f"/>
<circle cx="435.52" cy="462.03" r="2.24" fill="#f6a070" fill-opacity=".7"/>
<circle cx="435.52" cy="462.03" r="1.54" fill="#e8260f"/>
<circle cx="330.47" cy="465.26" r="2.93" fill="#f6a070" fill-opacity=".7"/>
<circle cx="330.47" cy="465.26" r="2.23" fill="#e8260f"/>
<circle cx="373.71" cy="453.32" r="3.07" fill="#f6a070" fill-opacity=".7"/>
<circle cx="373.71" cy="453.32" r="2.37" fill="#e8260f"/>
<circle cx="442.32" cy="490.19" r="2.51" fill="#f6a070" fill-opacity=".7"/>
<circle cx="442.32" cy="490.19" r="1.81" fill="#e8260f"/>
<circle cx="338.69" cy="444.75" r="2.86" fill="#f6a070" fill-opacity=".7"/>
<circle cx="338.69" cy="444.75" r="2.16" fill="#e8260f"/>
<circle cx="408.75" cy="438.58" r="2.93" fill="#f6a070" fill-opacity=".7"/>
<circle cx="408.75" cy="438.58" r="2.23" fill="#e8260f"/>
<circle cx="319.7" cy="499.3" r="2.51" fill="#f6a070" fill-opacity=".7"/>
<circle cx="319.7" cy="499.3" r="1.81" fill="#e8260f"/>
<circle cx="436.77" cy="497.36" r="2.45" fill="#f6a070" fill-opacity=".7"/>
<circle cx="436.77" cy="497.36" r="1.75" fill="#e8260f"/>
<circle cx="441.92" cy="473.82" r="2.7" fill="#f6a070" fill-opacity=".7"/>
<circle cx="441.92" cy="473.82" r="2" fill="#e8260f"/>
<circle cx="401.13" cy="443.65" r="2.31" fill="#f6a070" fill-opacity=".7"/>
<circle cx="401.13" cy="443.65" r="1.61" fill="#e8260f"/>
<circle cx="328.68" cy="434.19" r="2.7" fill="#f6a070" fill-opacity=".7"/>
<circle cx="328.68" cy="434.19" r="2" fill="#e8260f"/>
<circle cx="441.64" cy="433.37" r="3" fill="#f6a070" fill-opacity=".7"/>
<circle cx="441.64" cy="433.37" r="2.3" fill="#e8260f"/>
<circle cx="386.53" cy="494.61" r="2.87" fill="#f6a070" fill-opacity=".7"/>
<circle cx="386.53" cy="494.61" r="2.17" fill="#e8260f"/>
<circle cx="371.22" cy="494.81" r="2.2" fill="#f6a070" fill-opacity=".7"/>
<circle cx="371.22" cy="494.81" r="1.5" fill="#e8260f"/>
<circle cx="430.95" cy="478.82" r="2.72" fill="#f6a070" fill-opacity=".7"/>
<circle cx="430.95" cy="478.82" r="2.02" fill="#e8260f"/>
<circle cx="398.02" cy="470.92" r="2.4" fill="#f6a070" fill-opacity=".7"/>
<circle cx="398.02" cy="470.92" r="1.7" fill="#e8260f"/>
<circle cx="417.92" cy="444.28" r="2.32" fill="#f6a070" fill-opacity=".7"/>
<circle cx="417.92" cy="444.28" r="1.62" fill="#e8260f"/>
<circle cx="360.35" cy="430.59" r="2.66" fill="#f6a070" fill-opacity=".7"/>
<circle cx="360.35" cy="430.59" r="1.96" fill="#e8260f"/>
<circle cx="401.83" cy="495.37" r="2.35" fill="#f6a070" fill-opacity=".7"/>
<circle cx="401.83" cy="495.37" r="1.65" fill="#e8260f"/>
<circle cx="317.6" cy="450.76" r="2.75" fill="#f6a070" fill-opacity=".7"/>
<circle cx="317.6" cy="450.76" r="2.05" fill="#e8260f"/>
<circle cx="422.27" cy="469.81" r="2.56" fill="#f6a070" fill-opacity=".7"/>
<circle cx="422.27" cy="469.81" r="1.86" fill="#e8260f"/>
<circle cx="349.22" cy="468.42" r="2.71" fill="#f6a070" fill-opacity=".7"/>
<circle cx="349.22" cy="468.42" r="2.01" fill="#e8260f"/>
<circle cx="427.31" cy="450.41" r="3.07" fill="#f6a070" fill-opacity=".7"/>
<circle cx="427.31" cy="450.41" r="2.37" fill="#e8260f"/>
<circle cx="351.16" cy="459.62" r="2.3" fill="#f6a070" fill-opacity=".7"/>
<circle cx="351.16" cy="459.62" r="1.6" fill="#e8260f"/>
<circle cx="354.6" cy="441.7" r="3.9" fill="#f6a070" fill-opacity=".7"/>
<circle cx="354.6" cy="441.7" r="3.3" fill="#e8200c"/>
<circle cx="372.4" cy="434" r="3.9" fill="#f6a070" fill-opacity=".7"/>
<circle cx="372.4" cy="434" r="3.3" fill="#e8200c"/>
<circle cx="381.4" cy="437.9" r="3.9" fill="#f6a070" fill-opacity=".7"/>
<circle cx="381.4" cy="437.9" r="3.3" fill="#e8200c"/>
<circle cx="419.6" cy="457" r="3.9" fill="#f6a070" fill-opacity=".7"/>
<circle cx="419.6" cy="457" r="3.3" fill="#e8200c"/>
<circle cx="436.2" cy="446.8" r="3.4" fill="#f6a070" fill-opacity=".7"/>
<circle cx="436.2" cy="446.8" r="2.8" fill="#e8200c"/>
<circle cx="364.8" cy="487.6" r="3.9" fill="#f6a070" fill-opacity=".7"/>
<circle cx="364.8" cy="487.6" r="3.3" fill="#e8200c"/>
<circle cx="331" cy="443" r="3.4" fill="#f6a070" fill-opacity=".7"/>
<circle cx="331" cy="443" r="2.8" fill="#e8200c"/>
<circle cx="361" cy="453.2" r="2.9" fill="#f6a070" fill-opacity=".7"/>
<circle cx="361" cy="453.2" r="2.3" fill="#e8200c"/>
<circle cx="398" cy="450.6" r="2.9" fill="#f6a070" fill-opacity=".7"/>
<circle cx="398" cy="450.6" r="2.3" fill="#e8200c"/>
<circle cx="429.8" cy="431.5" r="2.7" fill="#f6a070" fill-opacity=".7"/>
<circle cx="429.8" cy="431.5" r="2.1" fill="#e8200c"/>
<circle cx="345.7" cy="474.8" r="2.9" fill="#f6a070" fill-opacity=".7"/>
<circle cx="345.7" cy="474.8" r="2.3" fill="#e8200c"/>
<circle cx="330.4" cy="485" r="2.9" fill="#f6a070" fill-opacity=".7"/>
<circle cx="330.4" cy="485" r="2.3" fill="#e8200c"/>
<circle cx="384" cy="446" r="3.1" fill="#f6a070" fill-opacity=".7"/>
<circle cx="384" cy="446" r="2.5" fill="#e8200c"/>
<circle cx="390" cy="484" r="2.9" fill="#f6a070" fill-opacity=".7"/>
<circle cx="390" cy="484" r="2.3" fill="#e8200c"/>
<circle cx="412" cy="488" r="2.7" fill="#f6a070" fill-opacity=".7"/>
<circle cx="412" cy="488" r="2.1" fill="#e8200c"/>
<circle cx="438" cy="468" r="2.7" fill="#f6a070" fill-opacity=".7"/>
<circle cx="438" cy="468" r="2.1" fill="#e8200c"/>
<circle cx="349" cy="430.5" r="2.5" fill="#f6a070" fill-opacity=".7"/>
<circle cx="349" cy="430.5" r="1.9" fill="#e8200c"/>
<circle cx="327" cy="461" r="2.5" fill="#f6a070" fill-opacity=".7"/>
<circle cx="327" cy="461" r="1.9" fill="#e8200c"/>
<ellipse cx="403" cy="472.6" rx="3.4" ry="5" fill="#e3210f" transform="rotate(30 403 472.6)"/>
</g></g>
<rect x="54" y="346.6" width="128" height="71.8" fill="none" stroke="#2a2233" stroke-width="0.9"/>
<rect x="186" y="346.6" width="128" height="71.8" fill="none" stroke="#2a2233" stroke-width="0.9"/>
<rect x="317.6" y="346.6" width="127.6" height="71.8" fill="none" stroke="#2a2233" stroke-width="0.9"/>
<rect x="54.6" y="298.8" width="50" height="27.8" fill="none" stroke="#1b2a4e" stroke-width="1.9"/>
<rect x="262" y="309.6" width="51" height="27.4" fill="none" stroke="#1b2a4e" stroke-width="1.9"/>
<rect x="361" y="284.6" width="50.8" height="27.9" fill="none" stroke="#1b2a4e" stroke-width="1.9"/>
<line x1="104.6" y1="327" x2="182" y2="346.4" stroke="#111" stroke-width="1.2" stroke-dasharray="2.6 1.8"/>
<line x1="262" y1="337.4" x2="186" y2="346.4" stroke="#111" stroke-width="1.2" stroke-dasharray="2.6 1.8"/>
<line x1="361" y1="313" x2="317.8" y2="346.4" stroke="#111" stroke-width="1.2" stroke-dasharray="2.6 1.8"/>
<line x1="411.8" y1="313" x2="445" y2="346.4" stroke="#111" stroke-width="1.2" stroke-dasharray="2.6 1.8"/>
<text transform="translate(493 251.7) scale(0.87 1)" font-size="26.4" font-weight="bold" fill="#111" stroke="#111" stroke-width="0.35">E</text>
<clipPath id="cpe0"><rect x="500" y="280" width="284" height="184.6"/></clipPath>
<line x1="507.5" y1="286.2" x2="507.5" y2="464.9" stroke="#222" stroke-width="1"/>
<line x1="507.4" y1="464.5" x2="776" y2="464.5" stroke="#222" stroke-width="1"/>
<line x1="501.9" y1="464.5" x2="507.9" y2="464.5" stroke="#222" stroke-width="1"/>
<text x="499.3" y="468.3" font-size="10.4" text-anchor="end" fill="#111" font-weight="bold">0</text>
<line x1="501.9" y1="428.5" x2="507.9" y2="428.5" stroke="#222" stroke-width="1"/>
<text x="499.3" y="432.76" font-size="10.4" text-anchor="end" fill="#111" font-weight="bold">2</text>
<line x1="501.9" y1="393.5" x2="507.9" y2="393.5" stroke="#222" stroke-width="1"/>
<text x="499.3" y="397.22" font-size="10.4" text-anchor="end" fill="#111" font-weight="bold">4</text>
<line x1="501.9" y1="357.5" x2="507.9" y2="357.5" stroke="#222" stroke-width="1"/>
<text x="499.3" y="361.68" font-size="10.4" text-anchor="end" fill="#111" font-weight="bold">6</text>
<line x1="501.9" y1="322.5" x2="507.9" y2="322.5" stroke="#222" stroke-width="1"/>
<text x="499.3" y="326.14" font-size="10.4" text-anchor="end" fill="#111" font-weight="bold">8</text>
<line x1="501.9" y1="286.5" x2="507.9" y2="286.5" stroke="#222" stroke-width="1"/>
<text x="499.3" y="290.6" font-size="10.4" text-anchor="end" fill="#111" font-weight="bold">10</text>
<text x="481.1" y="372.3" font-size="12.7" text-anchor="middle" fill="#111" font-weight="bold" transform="rotate(-90 481.1 372.3)">NAS score</text>
<line x1="519.5" y1="464.4" x2="519.5" y2="467.9" stroke="#222" stroke-width="1"/>
<line x1="536.5" y1="464.4" x2="536.5" y2="467.9" stroke="#222" stroke-width="1"/>
<line x1="553.5" y1="464.4" x2="553.5" y2="467.9" stroke="#222" stroke-width="1"/>
<text x="537.6" y="483.9" font-size="10.2" text-anchor="middle" fill="#111" font-weight="bold">Steatosis</text>
<line x1="588.5" y1="464.4" x2="588.5" y2="467.9" stroke="#222" stroke-width="1"/>
<line x1="605.5" y1="464.4" x2="605.5" y2="467.9" stroke="#222" stroke-width="1"/>
<line x1="623.5" y1="464.4" x2="623.5" y2="467.9" stroke="#222" stroke-width="1"/>
<text x="608.2" y="483.9" font-size="9.85" text-anchor="middle" fill="#111" font-weight="bold">Inflammation</text>
<line x1="657.5" y1="464.4" x2="657.5" y2="467.9" stroke="#222" stroke-width="1"/>
<line x1="675.5" y1="464.4" x2="675.5" y2="467.9" stroke="#222" stroke-width="1"/>
<line x1="692.5" y1="464.4" x2="692.5" y2="467.9" stroke="#222" stroke-width="1"/>
<text x="676.7" y="483.9" font-size="9.95" text-anchor="middle" fill="#111" font-weight="bold">Ballooning</text>
<line x1="727.5" y1="464.4" x2="727.5" y2="467.9" stroke="#222" stroke-width="1"/>
<line x1="744.5" y1="464.4" x2="744.5" y2="467.9" stroke="#222" stroke-width="1"/>
<line x1="761.5" y1="464.4" x2="761.5" y2="467.9" stroke="#222" stroke-width="1"/>
<text x="745.5" y="483.9" font-size="10.1" text-anchor="middle" fill="#111" font-weight="bold">Total score</text>
<line x1="571.5" y1="377" x2="571.5" y2="485" stroke="#222" stroke-width="1" stroke-dasharray="2.8 3.2"/>
<line x1="640.5" y1="377" x2="640.5" y2="485" stroke="#222" stroke-width="1" stroke-dasharray="2.8 3.2"/>
<line x1="710.5" y1="377" x2="710.5" y2="485" stroke="#222" stroke-width="1" stroke-dasharray="2.8 3.2"/>
<circle cx="516.4" cy="464.4" r="2.5" fill="#6a6a6a" stroke="#262626" stroke-width="1.0"/>
<circle cx="517.7" cy="464.4" r="2.5" fill="#6a6a6a" stroke="#262626" stroke-width="1.0"/>
<circle cx="519" cy="464.4" r="2.5" fill="#6a6a6a" stroke="#262626" stroke-width="1.0"/>
<circle cx="520.3" cy="464.4" r="2.5" fill="#6a6a6a" stroke="#262626" stroke-width="1.0"/>
<circle cx="521.6" cy="464.4" r="2.5" fill="#6a6a6a" stroke="#262626" stroke-width="1.0"/>
<circle cx="522.4" cy="464.4" r="2.5" fill="#6a6a6a" stroke="#262626" stroke-width="1.0"/>
<circle cx="585.6" cy="464.4" r="2.5" fill="#6a6a6a" stroke="#262626" stroke-width="1.0"/>
<circle cx="586.9" cy="464.4" r="2.5" fill="#6a6a6a" stroke="#262626" stroke-width="1.0"/>
<circle cx="588.2" cy="464.4" r="2.5" fill="#6a6a6a" stroke="#262626" stroke-width="1.0"/>
<circle cx="589.5" cy="464.4" r="2.5" fill="#6a6a6a" stroke="#262626" stroke-width="1.0"/>
<circle cx="590.8" cy="464.4" r="2.5" fill="#6a6a6a" stroke="#262626" stroke-width="1.0"/>
<circle cx="591.6" cy="464.4" r="2.5" fill="#6a6a6a" stroke="#262626" stroke-width="1.0"/>
<circle cx="655" cy="464.4" r="2.5" fill="#6a6a6a" stroke="#262626" stroke-width="1.0"/>
<circle cx="656.3" cy="464.4" r="2.5" fill="#6a6a6a" stroke="#262626" stroke-width="1.0"/>
<circle cx="657.6" cy="464.4" r="2.5" fill="#6a6a6a" stroke="#262626" stroke-width="1.0"/>
<circle cx="658.9" cy="464.4" r="2.5" fill="#6a6a6a" stroke="#262626" stroke-width="1.0"/>
<circle cx="660.2" cy="464.4" r="2.5" fill="#6a6a6a" stroke="#262626" stroke-width="1.0"/>
<circle cx="661" cy="464.4" r="2.5" fill="#6a6a6a" stroke="#262626" stroke-width="1.0"/>
<circle cx="724.4" cy="464.4" r="2.5" fill="#6a6a6a" stroke="#262626" stroke-width="1.0"/>
<circle cx="725.7" cy="464.4" r="2.5" fill="#6a6a6a" stroke="#262626" stroke-width="1.0"/>
<circle cx="727" cy="464.4" r="2.5" fill="#6a6a6a" stroke="#262626" stroke-width="1.0"/>
<circle cx="728.3" cy="464.4" r="2.5" fill="#6a6a6a" stroke="#262626" stroke-width="1.0"/>
<circle cx="729.6" cy="464.4" r="2.5" fill="#6a6a6a" stroke="#262626" stroke-width="1.0"/>
<circle cx="730.4" cy="464.4" r="2.5" fill="#6a6a6a" stroke="#262626" stroke-width="1.0"/>
<circle cx="536.45" cy="428.86" r="2.7" fill="#d6f6cf" stroke="#52d052" stroke-width="1.05"/>
<circle cx="533.85" cy="446.63" r="2.7" fill="#d6f6cf" stroke="#52d052" stroke-width="1.05"/>
<circle cx="538.85" cy="446.63" r="2.7" fill="#d6f6cf" stroke="#52d052" stroke-width="1.05"/>
<circle cx="535.65" cy="446.63" r="2.7" fill="#d6f6cf" stroke="#52d052" stroke-width="1.05"/>
<circle cx="537.35" cy="446.63" r="2.7" fill="#d6f6cf" stroke="#52d052" stroke-width="1.05"/>
<circle cx="536.45" cy="446.63" r="2.7" fill="#d6f6cf" stroke="#52d052" stroke-width="1.05"/>
<line x1="536.5" y1="436.5" x2="536.5" y2="450.72" stroke="#3a3a3a" stroke-width="0.9"/>
<line x1="533.45" y1="436.5" x2="539.45" y2="436.5" stroke="#3a3a3a" stroke-width="0.9"/>
<line x1="533.45" y1="450.5" x2="539.45" y2="450.5" stroke="#3a3a3a" stroke-width="0.9"/>
<line x1="529.95" y1="443.5" x2="542.95" y2="443.5" stroke="#3a3a3a" stroke-width="0.9"/>
<line x1="546.9" y1="411.5" x2="560.9" y2="411.5" stroke="#3a3a3a" stroke-width="0.9"/>
<circle cx="553.9" cy="411.09" r="2.5" fill="#7f8a28" stroke="#5f7a20" stroke-width="0.7"/>
<circle cx="551.1" cy="411.09" r="2.5" fill="#e37c1d" stroke="#9a500d" stroke-width="0.95"/>
<circle cx="556.1" cy="411.09" r="2.5" fill="#7f8a28" stroke="#5f7a20" stroke-width="0.7"/>
<circle cx="553.3" cy="411.09" r="2.5" fill="#e37c1d" stroke="#9a500d" stroke-width="0.95"/>
<circle cx="557.9" cy="411.09" r="2.5" fill="#7f8a28" stroke="#5f7a20" stroke-width="0.7"/>
<circle cx="555.1" cy="411.09" r="2.5" fill="#e37c1d" stroke="#9a500d" stroke-width="0.95"/>
<line x1="518" y1="386.5" x2="552.7" y2="386.5" stroke="#222" stroke-width="0.9"/>
<text x="535.7" y="389.38" font-size="12" text-anchor="middle" fill="#111" font-weight="bold" letter-spacing="0.7">***</text>
<line x1="537.6" y1="398.5" x2="552.7" y2="398.5" stroke="#222" stroke-width="0.9"/>
<text x="545.5" y="401.78" font-size="12" text-anchor="middle" fill="#111" font-weight="bold" letter-spacing="0.7">***</text>
<line x1="521.4" y1="419.5" x2="536.9" y2="419.5" stroke="#222" stroke-width="0.9"/>
<text x="529.5" y="422.68" font-size="12" text-anchor="middle" fill="#111" font-weight="bold" letter-spacing="0.7">***</text>
<g clip-path="url(#cpe0)">
<circle cx="605.65" cy="464.4" r="2.7" fill="#d6f6cf" stroke="#52d052" stroke-width="1.05"/>
</g>
<circle cx="605.65" cy="411.09" r="2.7" fill="#d6f6cf" stroke="#52d052" stroke-width="1.05"/>
<circle cx="605.65" cy="428.86" r="2.7" fill="#d6f6cf" stroke="#52d052" stroke-width="1.05"/>
<circle cx="603.85" cy="446.63" r="2.7" fill="#d6f6cf" stroke="#52d052" stroke-width="1.05"/>
<circle cx="607.45" cy="446.63" r="2.7" fill="#d6f6cf" stroke="#52d052" stroke-width="1.05"/>
<circle cx="605.65" cy="446.63" r="2.7" fill="#d6f6cf" stroke="#52d052" stroke-width="1.05"/>
<line x1="605.5" y1="422.29" x2="605.5" y2="459.25" stroke="#3a3a3a" stroke-width="0.9"/>
<line x1="602.65" y1="422.5" x2="608.65" y2="422.5" stroke="#3a3a3a" stroke-width="0.9"/>
<line x1="602.65" y1="459.5" x2="608.65" y2="459.5" stroke="#3a3a3a" stroke-width="0.9"/>
<line x1="599.65" y1="440.5" x2="611.65" y2="440.5" stroke="#3a3a3a" stroke-width="0.9"/>
<circle cx="624.7" cy="411.09" r="2.5" fill="#7f8a28" stroke="#5f7a20" stroke-width="0.7"/>
<circle cx="621.9" cy="411.09" r="2.5" fill="#e37c1d" stroke="#9a500d" stroke-width="0.95"/>
<circle cx="623.7" cy="428.86" r="2.5" fill="#7f8a28" stroke="#5f7a20" stroke-width="0.7"/>
<circle cx="620.9" cy="428.86" r="2.5" fill="#e37c1d" stroke="#9a500d" stroke-width="0.95"/>
<circle cx="625.9" cy="428.86" r="2.5" fill="#7f8a28" stroke="#5f7a20" stroke-width="0.7"/>
<circle cx="623.1" cy="428.86" r="2.5" fill="#e37c1d" stroke="#9a500d" stroke-width="0.95"/>
<line x1="623.5" y1="413.76" x2="623.5" y2="432.41" stroke="#3a3a3a" stroke-width="0.9"/>
<line x1="620.1" y1="413.5" x2="626.1" y2="413.5" stroke="#3a3a3a" stroke-width="0.9"/>
<line x1="620.1" y1="432.5" x2="626.1" y2="432.5" stroke="#3a3a3a" stroke-width="0.9"/>
<line x1="616.1" y1="422.5" x2="630.1" y2="422.5" stroke="#3a3a3a" stroke-width="0.9"/>
<line x1="589.2" y1="387.5" x2="623.4" y2="387.5" stroke="#222" stroke-width="0.9"/>
<text x="606.65" y="390.38" font-size="12" text-anchor="middle" fill="#111" font-weight="bold" letter-spacing="0.7">***</text>
<line x1="590" y1="401.5" x2="606.4" y2="401.5" stroke="#222" stroke-width="0.9"/>
<text x="598.55" y="404.18" font-size="12" text-anchor="middle" fill="#111" font-weight="bold" letter-spacing="0.7">*</text>
<g clip-path="url(#cpe0)">
<circle cx="673.55" cy="465" r="2.7" fill="#d6f6cf" stroke="#52d052" stroke-width="1.05"/>
<circle cx="675.05" cy="465" r="2.7" fill="#d6f6cf" stroke="#52d052" stroke-width="1.05"/>
<circle cx="676.55" cy="465" r="2.7" fill="#d6f6cf" stroke="#52d052" stroke-width="1.05"/>
</g>
<line x1="685.5" y1="428.5" x2="699.5" y2="428.5" stroke="#3a3a3a" stroke-width="0.9"/>
<circle cx="692.7" cy="428.86" r="2.5" fill="#7f8a28" stroke="#5f7a20" stroke-width="0.7"/>
<circle cx="689.9" cy="428.86" r="2.5" fill="#e37c1d" stroke="#9a500d" stroke-width="0.95"/>
<circle cx="694.7" cy="428.86" r="2.5" fill="#7f8a28" stroke="#5f7a20" stroke-width="0.7"/>
<circle cx="691.9" cy="428.86" r="2.5" fill="#e37c1d" stroke="#9a500d" stroke-width="0.95"/>
<circle cx="696.3" cy="428.86" r="2.5" fill="#7f8a28" stroke="#5f7a20" stroke-width="0.7"/>
<circle cx="693.5" cy="428.86" r="2.5" fill="#e37c1d" stroke="#9a500d" stroke-width="0.95"/>
<line x1="661.9" y1="397.5" x2="694.3" y2="397.5" stroke="#222" stroke-width="0.9"/>
<text x="678.45" y="401.08" font-size="12" text-anchor="middle" fill="#111" font-weight="bold" letter-spacing="0.7">***</text>
<line x1="677.4" y1="420.5" x2="693.3" y2="420.5" stroke="#222" stroke-width="0.9"/>
<text x="685.7" y="423.88" font-size="12" text-anchor="middle" fill="#111" font-weight="bold" letter-spacing="0.7">***</text>
<circle cx="744.45" cy="375.55" r="2.7" fill="#d6f6cf" stroke="#52d052" stroke-width="1.05"/>
<circle cx="744.45" cy="411.09" r="2.7" fill="#d6f6cf" stroke="#52d052" stroke-width="1.05"/>
<circle cx="744.45" cy="446.63" r="2.7" fill="#d6f6cf" stroke="#52d052" stroke-width="1.05"/>
<circle cx="742.65" cy="428.86" r="2.7" fill="#d6f6cf" stroke="#52d052" stroke-width="1.05"/>
<circle cx="746.25" cy="428.86" r="2.7" fill="#d6f6cf" stroke="#52d052" stroke-width="1.05"/>
<circle cx="744.45" cy="428.86" r="2.7" fill="#d6f6cf" stroke="#52d052" stroke-width="1.05"/>
<line x1="744.5" y1="395.1" x2="744.5" y2="444.85" stroke="#3a3a3a" stroke-width="0.9"/>
<line x1="741.25" y1="395.5" x2="747.65" y2="395.5" stroke="#3a3a3a" stroke-width="0.9"/>
<line x1="741.25" y1="444.5" x2="747.65" y2="444.5" stroke="#3a3a3a" stroke-width="0.9"/>
<line x1="737.45" y1="419.5" x2="751.45" y2="419.5" stroke="#3a3a3a" stroke-width="0.9"/>
<circle cx="763.5" cy="322.24" r="2.5" fill="#7f8a28" stroke="#5f7a20" stroke-width="0.7"/>
<circle cx="760.7" cy="322.24" r="2.5" fill="#e37c1d" stroke="#9a500d" stroke-width="0.95"/>
<circle cx="762.5" cy="340.01" r="2.5" fill="#7f8a28" stroke="#5f7a20" stroke-width="0.7"/>
<circle cx="759.7" cy="340.01" r="2.5" fill="#e37c1d" stroke="#9a500d" stroke-width="0.95"/>
<circle cx="764.7" cy="340.01" r="2.5" fill="#7f8a28" stroke="#5f7a20" stroke-width="0.7"/>
<circle cx="761.9" cy="340.01" r="2.5" fill="#e37c1d" stroke="#9a500d" stroke-width="0.95"/>
<line x1="761.5" y1="324.91" x2="761.5" y2="343.56" stroke="#3a3a3a" stroke-width="0.9"/>
<line x1="758.9" y1="324.5" x2="764.9" y2="324.5" stroke="#3a3a3a" stroke-width="0.9"/>
<line x1="758.9" y1="343.5" x2="764.9" y2="343.5" stroke="#3a3a3a" stroke-width="0.9"/>
<line x1="754.9" y1="334.5" x2="768.9" y2="334.5" stroke="#3a3a3a" stroke-width="0.9"/>
<line x1="727.7" y1="302.5" x2="761.4" y2="302.5" stroke="#222" stroke-width="0.9"/>
<text x="744.9" y="305.78" font-size="12" text-anchor="middle" fill="#111" font-weight="bold" letter-spacing="0.7">***</text>
<line x1="746.5" y1="314.5" x2="761.7" y2="314.5" stroke="#222" stroke-width="0.9"/>
<text x="754.45" y="317.48" font-size="12" text-anchor="middle" fill="#111" font-weight="bold" letter-spacing="0.7">***</text>
<line x1="727" y1="366.5" x2="743.9" y2="366.5" stroke="#222" stroke-width="0.9"/>
<text x="735.8" y="369.78" font-size="12" text-anchor="middle" fill="#111" font-weight="bold" letter-spacing="0.7">**</text>
<circle cx="525" cy="287.6" r="2.6" fill="#6a6a6a" stroke="#262626" stroke-width="1.0"/>
<text x="541.4" y="291.4" font-size="10.2" text-anchor="start" fill="#111" font-weight="bold">Con</text>
<circle cx="525" cy="305.2" r="2.6" fill="#d6f6cf" stroke="#52d052" stroke-width="1.05"/>
<text x="541.4" y="309" font-size="10.2" text-anchor="start" fill="#111" font-weight="bold">Fr</text>
<circle cx="525" cy="323.7" r="2.6" fill="#e37c1d" stroke="#9a500d" stroke-width="0.95"/>
<text x="541.4" y="327.5" font-size="10.2" text-anchor="start" fill="#111" font-weight="bold">WDF</text>
<text transform="translate(21.7 554.1) scale(0.9 1)" font-size="26.4" font-weight="bold" fill="#111" stroke="#111" stroke-width="0.35">F</text>
<line x1="73.5" y1="585" x2="73.5" y2="672" stroke="#222" stroke-width="1"/>
<line x1="73.5" y1="680" x2="73.5" y2="775.9" stroke="#222" stroke-width="1"/>
<line x1="69.9" y1="674.9" x2="76.5" y2="669.3" stroke="#222" stroke-width="1"/>
<line x1="69.9" y1="682.8" x2="76.5" y2="677.2" stroke="#222" stroke-width="1"/>
<line x1="72.7" y1="775.5" x2="321.6" y2="775.5" stroke="#222" stroke-width="1"/>
<line x1="68.2" y1="585.5" x2="73.2" y2="585.5" stroke="#222" stroke-width="1"/>
<text x="65.4" y="589" font-size="9.8" text-anchor="end" fill="#111" font-weight="bold">12</text>
<line x1="68.2" y1="626.5" x2="73.2" y2="626.5" stroke="#222" stroke-width="1"/>
<text x="65.4" y="629.7" font-size="9.8" text-anchor="end" fill="#111" font-weight="bold">7</text>
<line x1="68.2" y1="666.5" x2="73.2" y2="666.5" stroke="#222" stroke-width="1"/>
<text x="65.4" y="670.3" font-size="9.8" text-anchor="end" fill="#111" font-weight="bold">2</text>
<line x1="68.2" y1="680.5" x2="73.2" y2="680.5" stroke="#222" stroke-width="1"/>
<text x="65.4" y="684" font-size="9.8" text-anchor="end" fill="#111" font-weight="bold">1.5</text>
<line x1="68.2" y1="712.5" x2="73.2" y2="712.5" stroke="#222" stroke-width="1"/>
<text x="65.4" y="715.9" font-size="9.8" text-anchor="end" fill="#111" font-weight="bold">1.0</text>
<line x1="68.2" y1="744.5" x2="73.2" y2="744.5" stroke="#222" stroke-width="1"/>
<text x="65.4" y="747.7" font-size="9.8" text-anchor="end" fill="#111" font-weight="bold">0.5</text>
<line x1="68.2" y1="775.5" x2="73.2" y2="775.5" stroke="#222" stroke-width="1"/>
<text x="65.4" y="778.9" font-size="9.8" text-anchor="end" fill="#111" font-weight="bold">0.0</text>
<line x1="70.2" y1="605.5" x2="73.2" y2="605.5" stroke="#222" stroke-width="1"/>
<line x1="70.2" y1="646.5" x2="73.2" y2="646.5" stroke="#222" stroke-width="1"/>
<text x="47.9" y="677.2" font-size="14.1" text-anchor="middle" fill="#111" font-weight="bold" transform="rotate(-90 47.9 677.2)">Serum concentration (U/L)</text>
<line x1="87.5" y1="775.4" x2="87.5" y2="778.9" stroke="#222" stroke-width="1"/>
<line x1="109.5" y1="775.4" x2="109.5" y2="778.9" stroke="#222" stroke-width="1"/>
<line x1="131.5" y1="775.4" x2="131.5" y2="778.9" stroke="#222" stroke-width="1"/>
<line x1="175.5" y1="775.4" x2="175.5" y2="778.9" stroke="#222" stroke-width="1"/>
<line x1="196.5" y1="775.4" x2="196.5" y2="778.9" stroke="#222" stroke-width="1"/>
<line x1="218.5" y1="775.4" x2="218.5" y2="778.9" stroke="#222" stroke-width="1"/>
<line x1="262.5" y1="775.4" x2="262.5" y2="778.9" stroke="#222" stroke-width="1"/>
<line x1="284.5" y1="775.4" x2="284.5" y2="778.9" stroke="#222" stroke-width="1"/>
<line x1="306.5" y1="775.4" x2="306.5" y2="778.9" stroke="#222" stroke-width="1"/>
<text x="109.2" y="795.6" font-size="10" text-anchor="middle" fill="#111" font-weight="bold">TG</text>
<text x="197" y="795.6" font-size="10" text-anchor="middle" fill="#111" font-weight="bold">CHOL</text>
<text x="283.6" y="795.6" font-size="10" text-anchor="middle" fill="#111" font-weight="bold">LDL-c</text>
<line x1="152.5" y1="645" x2="152.5" y2="794.5" stroke="#222" stroke-width="1" stroke-dasharray="2.6 3"/>
<line x1="239.5" y1="645" x2="239.5" y2="794.5" stroke="#222" stroke-width="1" stroke-dasharray="2.6 3"/>
<circle cx="83.8" cy="716.53" r="2.35" fill="#6a6a6a" stroke="#262626" stroke-width="1.0"/>
<circle cx="86.6" cy="715.9" r="2.35" fill="#6a6a6a" stroke="#262626" stroke-width="1.0"/>
<circle cx="89.4" cy="715.9" r="2.35" fill="#6a6a6a" stroke="#262626" stroke-width="1.0"/>
<circle cx="84.4" cy="719.7" r="2.35" fill="#6a6a6a" stroke="#262626" stroke-width="1.0"/>
<circle cx="87.8" cy="719.7" r="2.35" fill="#6a6a6a" stroke="#262626" stroke-width="1.0"/>
<circle cx="88.6" cy="722.86" r="2.35" fill="#6a6a6a" stroke="#262626" stroke-width="1.0"/>
<circle cx="91.4" cy="724.76" r="2.35" fill="#6a6a6a" stroke="#262626" stroke-width="1.0"/>
<circle cx="105.6" cy="722.86" r="2.45" fill="#d2f7cc" stroke="#79dd79" stroke-width="0.9"/>
<circle cx="108" cy="724.76" r="2.45" fill="#d2f7cc" stroke="#79dd79" stroke-width="0.9"/>
<circle cx="110.2" cy="721.6" r="2.45" fill="#d2f7cc" stroke="#79dd79" stroke-width="0.9"/>
<circle cx="112.2" cy="724.13" r="2.45" fill="#d2f7cc" stroke="#79dd79" stroke-width="0.9"/>
<circle cx="114" cy="724.76" r="2.45" fill="#d2f7cc" stroke="#79dd79" stroke-width="0.9"/>
<circle cx="109.6" cy="723.49" r="2.45" fill="#d2f7cc" stroke="#79dd79" stroke-width="0.9"/>
<circle cx="127" cy="717.16" r="2.35" fill="#e37c1d" stroke="#9a500d" stroke-width="0.95"/>
<circle cx="129.4" cy="715.26" r="2.35" fill="#e37c1d" stroke="#9a500d" stroke-width="0.95"/>
<circle cx="131.4" cy="717.8" r="2.35" fill="#e37c1d" stroke="#9a500d" stroke-width="0.95"/>
<circle cx="133.6" cy="716.53" r="2.35" fill="#e37c1d" stroke="#9a500d" stroke-width="0.95"/>
<circle cx="135.8" cy="718.43" r="2.35" fill="#e37c1d" stroke="#9a500d" stroke-width="0.95"/>
<circle cx="136.8" cy="717.8" r="2.35" fill="#e37c1d" stroke="#9a500d" stroke-width="0.95"/>
<circle cx="128.4" cy="718.43" r="2.35" fill="#e37c1d" stroke="#9a500d" stroke-width="0.95"/>
<line x1="92.7" y1="702.5" x2="110.6" y2="702.5" stroke="#222" stroke-width="0.9"/>
<text x="102.8" y="705.78" font-size="12" text-anchor="middle" fill="#111" font-weight="bold" letter-spacing="2.3">*</text>
<line x1="112.8" y1="690.5" x2="131" y2="690.5" stroke="#222" stroke-width="0.9"/>
<text x="123.05" y="693.78" font-size="12" text-anchor="middle" fill="#111" font-weight="bold" letter-spacing="2.3">***</text>
<circle cx="170.1" cy="663.55" r="2.35" fill="#6a6a6a" stroke="#262626" stroke-width="1.0"/>
<circle cx="172.7" cy="664.36" r="2.35" fill="#6a6a6a" stroke="#262626" stroke-width="1.0"/>
<circle cx="175.1" cy="663.14" r="2.35" fill="#6a6a6a" stroke="#262626" stroke-width="1.0"/>
<circle cx="177.5" cy="665.99" r="2.35" fill="#6a6a6a" stroke="#262626" stroke-width="1.0"/>
<circle cx="179.7" cy="667.61" r="2.35" fill="#6a6a6a" stroke="#262626" stroke-width="1.0"/>
<circle cx="176.3" cy="665.17" r="2.35" fill="#6a6a6a" stroke="#262626" stroke-width="1.0"/>
<circle cx="192.3" cy="661.11" r="2.45" fill="#d2f7cc" stroke="#79dd79" stroke-width="0.9"/>
<circle cx="194.7" cy="662.73" r="2.45" fill="#d2f7cc" stroke="#79dd79" stroke-width="0.9"/>
<circle cx="196.9" cy="661.52" r="2.45" fill="#d2f7cc" stroke="#79dd79" stroke-width="0.9"/>
<circle cx="199.3" cy="664.36" r="2.45" fill="#d2f7cc" stroke="#79dd79" stroke-width="0.9"/>
<circle cx="201.5" cy="665.17" r="2.45" fill="#d2f7cc" stroke="#79dd79" stroke-width="0.9"/>
<circle cx="198.1" cy="663.14" r="2.45" fill="#d2f7cc" stroke="#79dd79" stroke-width="0.9"/>
<circle cx="218.7" cy="595.9" r="2.35" fill="#e37c1d" stroke="#9a500d" stroke-width="0.95"/>
<circle cx="218.7" cy="619.6" r="2.35" fill="#e37c1d" stroke="#9a500d" stroke-width="0.95"/>
<circle cx="215.1" cy="624.5" r="2.35" fill="#e37c1d" stroke="#9a500d" stroke-width="0.95"/>
<circle cx="220.3" cy="624.5" r="2.35" fill="#e37c1d" stroke="#9a500d" stroke-width="0.95"/>
<circle cx="222.5" cy="627.7" r="2.35" fill="#e37c1d" stroke="#9a500d" stroke-width="0.95"/>
<circle cx="217.1" cy="632.6" r="2.35" fill="#e37c1d" stroke="#9a500d" stroke-width="0.95"/>
<circle cx="220.9" cy="636.5" r="2.35" fill="#e37c1d" stroke="#9a500d" stroke-width="0.95"/>
<circle cx="218.1" cy="629" r="2.35" fill="#e37c1d" stroke="#9a500d" stroke-width="0.95"/>
<line x1="219.5" y1="609.9" x2="219.5" y2="636.8" stroke="#666" stroke-width="0.9"/>
<line x1="215.8" y1="609.5" x2="222.2" y2="609.5" stroke="#666" stroke-width="0.9"/>
<line x1="215.8" y1="636.5" x2="222.2" y2="636.5" stroke="#666" stroke-width="0.9"/>
<line x1="212.2" y1="623.5" x2="225.8" y2="623.5" stroke="#666" stroke-width="0.9"/>
<line x1="181" y1="575.5" x2="217.4" y2="575.5" stroke="#222" stroke-width="0.9"/>
<text x="200.35" y="578.38" font-size="12" text-anchor="middle" fill="#111" font-weight="bold" letter-spacing="2.3">***</text>
<line x1="199.1" y1="586.5" x2="216.8" y2="586.5" stroke="#222" stroke-width="0.9"/>
<text x="209.1" y="589.68" font-size="12" text-anchor="middle" fill="#111" font-weight="bold" letter-spacing="2.3">***</text>
<line x1="256.9" y1="751.5" x2="267.9" y2="751.5" stroke="#666" stroke-width="0.9"/>
<circle cx="257.4" cy="750.08" r="2.35" fill="#6a6a6a" stroke="#262626" stroke-width="1.0"/>
<circle cx="259.8" cy="749.76" r="2.35" fill="#6a6a6a" stroke="#262626" stroke-width="1.0"/>
<circle cx="262" cy="750.08" r="2.35" fill="#6a6a6a" stroke="#262626" stroke-width="1.0"/>
<circle cx="264.2" cy="752.61" r="2.35" fill="#6a6a6a" stroke="#262626" stroke-width="1.0"/>
<circle cx="266.8" cy="753.25" r="2.35" fill="#6a6a6a" stroke="#262626" stroke-width="1.0"/>
<circle cx="265.4" cy="751.98" r="2.35" fill="#6a6a6a" stroke="#262626" stroke-width="1.0"/>
<circle cx="284.2" cy="722" r="2.45" fill="#d2f7cc" stroke="#79dd79" stroke-width="0.9"/>
<circle cx="279.8" cy="734.5" r="2.45" fill="#d2f7cc" stroke="#79dd79" stroke-width="0.9"/>
<circle cx="282.4" cy="737.6" r="2.45" fill="#d2f7cc" stroke="#79dd79" stroke-width="0.9"/>
<circle cx="285.8" cy="740.6" r="2.45" fill="#d2f7cc" stroke="#79dd79" stroke-width="0.9"/>
<circle cx="288" cy="740.6" r="2.45" fill="#d2f7cc" stroke="#79dd79" stroke-width="0.9"/>
<circle cx="281.4" cy="740.9" r="2.45" fill="#d2f7cc" stroke="#79dd79" stroke-width="0.9"/>
<circle cx="284.8" cy="736" r="2.45" fill="#d2f7cc" stroke="#79dd79" stroke-width="0.9"/>
<line x1="284.5" y1="728.5" x2="284.5" y2="743.1" stroke="#666" stroke-width="0.9"/>
<line x1="281.5" y1="728.5" x2="287.5" y2="728.5" stroke="#666" stroke-width="0.9"/>
<line x1="281.5" y1="743.5" x2="287.5" y2="743.5" stroke="#666" stroke-width="0.9"/>
<line x1="277.7" y1="736.5" x2="291.3" y2="736.5" stroke="#666" stroke-width="0.9"/>
<line x1="299.2" y1="666.5" x2="312.8" y2="666.5" stroke="#666" stroke-width="0.9"/>
<line x1="306.5" y1="660" x2="306.5" y2="669.6" stroke="#666" stroke-width="0.9"/>
<line x1="306.5" y1="680.5" x2="306.5" y2="683" stroke="#666" stroke-width="0.9"/>
<line x1="302.6" y1="683.5" x2="309.4" y2="683.5" stroke="#666" stroke-width="0.9"/>
<circle cx="306" cy="660.9" r="2.35" fill="#e37c1d" stroke="#9a500d" stroke-width="0.95"/>
<circle cx="302.2" cy="665.6" r="2.35" fill="#e37c1d" stroke="#9a500d" stroke-width="0.95"/>
<circle cx="304.6" cy="667.2" r="2.35" fill="#e37c1d" stroke="#9a500d" stroke-width="0.95"/>
<circle cx="307.2" cy="668.4" r="2.35" fill="#e37c1d" stroke="#9a500d" stroke-width="0.95"/>
<circle cx="309.4" cy="670" r="2.35" fill="#e37c1d" stroke="#9a500d" stroke-width="0.95"/>
<circle cx="310.6" cy="666.2" r="2.35" fill="#e37c1d" stroke="#9a500d" stroke-width="0.95"/>
<circle cx="306" cy="689.5" r="2.35" fill="#e37c1d" stroke="#9a500d" stroke-width="0.95"/>
<line x1="265.4" y1="634.5" x2="301.5" y2="634.5" stroke="#222" stroke-width="0.9"/>
<text x="284.6" y="637.38" font-size="12" text-anchor="middle" fill="#111" font-weight="bold" letter-spacing="2.3">***</text>
<line x1="284.2" y1="646.5" x2="301.5" y2="646.5" stroke="#222" stroke-width="0.9"/>
<text x="294" y="649.78" font-size="12" text-anchor="middle" fill="#111" font-weight="bold" letter-spacing="2.3">***</text>
<line x1="264.7" y1="712.5" x2="282.6" y2="712.5" stroke="#222" stroke-width="0.9"/>
<text x="274.8" y="715.38" font-size="12" text-anchor="middle" fill="#111" font-weight="bold" letter-spacing="2.3">***</text>
<circle cx="357.4" cy="594.6" r="2.2" fill="#6a6a6a" stroke="#262626" stroke-width="1.0"/>
<text x="372" y="598.1" font-size="9.9" text-anchor="start" fill="#111" font-weight="bold">Con</text>
<circle cx="357.4" cy="612.5" r="2.2" fill="#d2f7cc" stroke="#79dd79" stroke-width="0.9"/>
<text x="372" y="616" font-size="9.9" text-anchor="start" fill="#111" font-weight="bold">Fr</text>
<circle cx="357.4" cy="630.3" r="2.2" fill="#e37c1d" stroke="#9a500d" stroke-width="0.95"/>
<text x="372" y="633.8" font-size="9.9" text-anchor="start" fill="#111" font-weight="bold">WDF</text>
<text transform="translate(392 554) scale(0.96 1)" font-size="26.4" font-weight="bold" fill="#111" stroke="#111" stroke-width="0.35">G</text>
<line x1="460.5" y1="564" x2="460.5" y2="664.4" stroke="#222" stroke-width="1"/>
<line x1="460.5" y1="672.4" x2="460.5" y2="769.8" stroke="#222" stroke-width="1"/>
<line x1="457.3" y1="667.9" x2="464.3" y2="661.3" stroke="#222" stroke-width="1"/>
<line x1="457.3" y1="675.8" x2="464.3" y2="669.2" stroke="#222" stroke-width="1"/>
<line x1="460.3" y1="769.5" x2="700.2" y2="769.5" stroke="#222" stroke-width="1"/>
<line x1="455.8" y1="564.5" x2="460.8" y2="564.5" stroke="#222" stroke-width="1"/>
<text x="453.2" y="567.8" font-size="9.5" text-anchor="end" fill="#111" font-weight="bold">600</text>
<line x1="455.8" y1="604.5" x2="460.8" y2="604.5" stroke="#222" stroke-width="1"/>
<text x="453.2" y="607.8" font-size="9.5" text-anchor="end" fill="#111" font-weight="bold">400</text>
<line x1="455.8" y1="643.5" x2="460.8" y2="643.5" stroke="#222" stroke-width="1"/>
<text x="453.2" y="646.8" font-size="9.5" text-anchor="end" fill="#111" font-weight="bold">200</text>
<line x1="455.8" y1="672.5" x2="460.8" y2="672.5" stroke="#222" stroke-width="1"/>
<text x="453.2" y="675.8" font-size="9.5" text-anchor="end" fill="#111" font-weight="bold">100</text>
<line x1="455.8" y1="691.5" x2="460.8" y2="691.5" stroke="#222" stroke-width="1"/>
<text x="453.2" y="695.3" font-size="9.5" text-anchor="end" fill="#111" font-weight="bold">80</text>
<line x1="455.8" y1="710.5" x2="460.8" y2="710.5" stroke="#222" stroke-width="1"/>
<text x="453.2" y="714.1" font-size="9.5" text-anchor="end" fill="#111" font-weight="bold">60</text>
<line x1="455.8" y1="730.5" x2="460.8" y2="730.5" stroke="#222" stroke-width="1"/>
<text x="453.2" y="733.6" font-size="9.5" text-anchor="end" fill="#111" font-weight="bold">40</text>
<line x1="455.8" y1="749.5" x2="460.8" y2="749.5" stroke="#222" stroke-width="1"/>
<text x="453.2" y="753.2" font-size="9.5" text-anchor="end" fill="#111" font-weight="bold">20</text>
<line x1="455.8" y1="769.5" x2="460.8" y2="769.5" stroke="#222" stroke-width="1"/>
<text x="453.2" y="772.7" font-size="9.5" text-anchor="end" fill="#111" font-weight="bold">0</text>
<line x1="457.8" y1="584.5" x2="460.8" y2="584.5" stroke="#222" stroke-width="1"/>
<line x1="457.8" y1="623.5" x2="460.8" y2="623.5" stroke="#222" stroke-width="1"/>
<text x="431.4" y="665" font-size="13.05" text-anchor="middle" fill="#111" font-weight="bold" transform="rotate(-90 431.4 665)">Serum concentration (U/L)</text>
<line x1="474.5" y1="769.3" x2="474.5" y2="772.8" stroke="#222" stroke-width="1"/>
<line x1="495.5" y1="769.3" x2="495.5" y2="772.8" stroke="#222" stroke-width="1"/>
<line x1="516.5" y1="769.3" x2="516.5" y2="772.8" stroke="#222" stroke-width="1"/>
<line x1="558.5" y1="769.3" x2="558.5" y2="772.8" stroke="#222" stroke-width="1"/>
<line x1="579.5" y1="769.3" x2="579.5" y2="772.8" stroke="#222" stroke-width="1"/>
<line x1="600.5" y1="769.3" x2="600.5" y2="772.8" stroke="#222" stroke-width="1"/>
<line x1="643.5" y1="769.3" x2="643.5" y2="772.8" stroke="#222" stroke-width="1"/>
<line x1="664.5" y1="769.3" x2="664.5" y2="772.8" stroke="#222" stroke-width="1"/>
<line x1="685.5" y1="769.3" x2="685.5" y2="772.8" stroke="#222" stroke-width="1"/>
<text x="494.9" y="788.2" font-size="9.9" text-anchor="middle" fill="#111" font-weight="bold">ALT</text>
<text x="579.8" y="788.2" font-size="9.9" text-anchor="middle" fill="#111" font-weight="bold">AST</text>
<text x="663.2" y="788.2" font-size="9.9" text-anchor="middle" fill="#111" font-weight="bold">ALP</text>
<line x1="537.5" y1="610" x2="537.5" y2="790.5" stroke="#222" stroke-width="1" stroke-dasharray="2.6 3"/>
<line x1="622.5" y1="610" x2="622.5" y2="790.5" stroke="#222" stroke-width="1" stroke-dasharray="2.6 3"/>
<circle cx="470" cy="752.34" r="2.35" fill="#6a6a6a" stroke="#262626" stroke-width="1.0"/>
<circle cx="472.6" cy="751.37" r="2.35" fill="#6a6a6a" stroke="#262626" stroke-width="1.0"/>
<circle cx="475" cy="752.83" r="2.35" fill="#6a6a6a" stroke="#262626" stroke-width="1.0"/>
<circle cx="477.2" cy="755.25" r="2.35" fill="#6a6a6a" stroke="#262626" stroke-width="1.0"/>
<circle cx="479.2" cy="755.73" r="2.35" fill="#6a6a6a" stroke="#262626" stroke-width="1.0"/>
<circle cx="472" cy="754.76" r="2.35" fill="#6a6a6a" stroke="#262626" stroke-width="1.0"/>
<circle cx="497.3" cy="700.3" r="2.45" fill="#eefbea" stroke="#4cc94c" stroke-width="0.85"/>
<circle cx="493.4" cy="706.5" r="2.45" fill="#eefbea" stroke="#4cc94c" stroke-width="0.85"/>
<circle cx="495.7" cy="722.8" r="2.45" fill="#eefbea" stroke="#4cc94c" stroke-width="0.85"/>
<circle cx="491.8" cy="747.5" r="2.45" fill="#eefbea" stroke="#4cc94c" stroke-width="0.85"/>
<circle cx="495" cy="749.1" r="2.45" fill="#eefbea" stroke="#4cc94c" stroke-width="0.85"/>
<circle cx="499" cy="749.1" r="2.45" fill="#eefbea" stroke="#4cc94c" stroke-width="0.85"/>
<line x1="495.5" y1="706.8" x2="495.5" y2="749.8" stroke="#777" stroke-width="0.9"/>
<line x1="491.7" y1="706.5" x2="499.7" y2="706.5" stroke="#777" stroke-width="0.9"/>
<line x1="491.7" y1="749.5" x2="499.7" y2="749.5" stroke="#777" stroke-width="0.9"/>
<circle cx="516.2" cy="604.1" r="2.35" fill="#e37c1d" stroke="#9a500d" stroke-width="0.95"/>
<circle cx="512.6" cy="619" r="2.35" fill="#e37c1d" stroke="#9a500d" stroke-width="0.95"/>
<circle cx="516.2" cy="619" r="2.35" fill="#e37c1d" stroke="#9a500d" stroke-width="0.95"/>
<circle cx="520" cy="619" r="2.35" fill="#e37c1d" stroke="#9a500d" stroke-width="0.95"/>
<circle cx="516.2" cy="632" r="2.35" fill="#e37c1d" stroke="#9a500d" stroke-width="0.95"/>
<circle cx="516.2" cy="640.2" r="2.35" fill="#e37c1d" stroke="#9a500d" stroke-width="0.95"/>
<line x1="516.5" y1="609.3" x2="516.5" y2="634.3" stroke="#777" stroke-width="0.9"/>
<line x1="513" y1="609.5" x2="519.4" y2="609.5" stroke="#777" stroke-width="0.9"/>
<line x1="513" y1="634.5" x2="519.4" y2="634.5" stroke="#777" stroke-width="0.9"/>
<line x1="509.7" y1="619.5" x2="522.7" y2="619.5" stroke="#777" stroke-width="0.9"/>
<line x1="476.8" y1="578.5" x2="517.5" y2="578.5" stroke="#222" stroke-width="0.9"/>
<text x="497.5" y="581.18" font-size="12" text-anchor="middle" fill="#111" font-weight="bold" letter-spacing="0.7">***</text>
<line x1="501.5" y1="593.5" x2="517.5" y2="593.5" stroke="#222" stroke-width="0.9"/>
<text x="509.85" y="596.88" font-size="12" text-anchor="middle" fill="#111" font-weight="bold" letter-spacing="0.7">***</text>
<line x1="477.8" y1="691.5" x2="494" y2="691.5" stroke="#222" stroke-width="0.9"/>
<text x="486.25" y="695.08" font-size="12" text-anchor="middle" fill="#111" font-weight="bold" letter-spacing="0.7">*</text>
<circle cx="558.5" cy="692.8" r="2.35" fill="#6a6a6a" stroke="#262626" stroke-width="1.0"/>
<circle cx="554.9" cy="697" r="2.35" fill="#6a6a6a" stroke="#262626" stroke-width="1.0"/>
<circle cx="556.8" cy="699.3" r="2.35" fill="#6a6a6a" stroke="#262626" stroke-width="1.0"/>
<circle cx="559.1" cy="701.6" r="2.35" fill="#6a6a6a" stroke="#262626" stroke-width="1.0"/>
<circle cx="562.4" cy="703.3" r="2.35" fill="#6a6a6a" stroke="#262626" stroke-width="1.0"/>
<circle cx="560.6" cy="702.6" r="2.35" fill="#6a6a6a" stroke="#262626" stroke-width="1.0"/>
<line x1="574" y1="659.5" x2="586" y2="659.5" stroke="#777" stroke-width="0.9"/>
<circle cx="580.2" cy="655.4" r="2.45" fill="#eefbea" stroke="#4cc94c" stroke-width="0.85"/>
<circle cx="576" cy="658.7" r="2.45" fill="#eefbea" stroke="#4cc94c" stroke-width="0.85"/>
<circle cx="578.6" cy="660.3" r="2.45" fill="#eefbea" stroke="#4cc94c" stroke-width="0.85"/>
<circle cx="581.9" cy="662" r="2.45" fill="#eefbea" stroke="#4cc94c" stroke-width="0.85"/>
<circle cx="584.1" cy="662.9" r="2.45" fill="#eefbea" stroke="#4cc94c" stroke-width="0.85"/>
<circle cx="577.4" cy="657" r="2.45" fill="#eefbea" stroke="#4cc94c" stroke-width="0.85"/>
<circle cx="604.2" cy="619" r="2.35" fill="#e37c1d" stroke="#9a500d" stroke-width="0.95"/>
<circle cx="597" cy="622.9" r="2.35" fill="#e37c1d" stroke="#9a500d" stroke-width="0.95"/>
<circle cx="597" cy="627.2" r="2.35" fill="#e37c1d" stroke="#9a500d" stroke-width="0.95"/>
<circle cx="604.2" cy="631.1" r="2.35" fill="#e37c1d" stroke="#9a500d" stroke-width="0.95"/>
<circle cx="597.7" cy="634.3" r="2.35" fill="#e37c1d" stroke="#9a500d" stroke-width="0.95"/>
<circle cx="604.2" cy="641.5" r="2.35" fill="#e37c1d" stroke="#9a500d" stroke-width="0.95"/>
<line x1="600.5" y1="621.3" x2="600.5" y2="637.6" stroke="#777" stroke-width="0.9"/>
<line x1="597.3" y1="621.5" x2="603.3" y2="621.5" stroke="#777" stroke-width="0.9"/>
<line x1="597.3" y1="637.5" x2="603.3" y2="637.5" stroke="#777" stroke-width="0.9"/>
<line x1="593.8" y1="629.5" x2="606.8" y2="629.5" stroke="#777" stroke-width="0.9"/>
<line x1="564.6" y1="596.5" x2="599.6" y2="596.5" stroke="#222" stroke-width="0.9"/>
<text x="582.45" y="600.08" font-size="12" text-anchor="middle" fill="#111" font-weight="bold" letter-spacing="0.7">***</text>
<line x1="585.6" y1="610.5" x2="600.3" y2="610.5" stroke="#222" stroke-width="0.9"/>
<text x="593.3" y="614.08" font-size="12" text-anchor="middle" fill="#111" font-weight="bold" letter-spacing="0.7">***</text>
<line x1="564" y1="648.5" x2="578.6" y2="648.5" stroke="#222" stroke-width="0.9"/>
<text x="571.65" y="651.48" font-size="12" text-anchor="middle" fill="#111" font-weight="bold" letter-spacing="0.7">***</text>
<circle cx="646.8" cy="684.1" r="2.35" fill="#6a6a6a" stroke="#262626" stroke-width="1.0"/>
<circle cx="639.3" cy="688.6" r="2.35" fill="#6a6a6a" stroke="#262626" stroke-width="1.0"/>
<circle cx="642.5" cy="689.6" r="2.35" fill="#6a6a6a" stroke="#262626" stroke-width="1.0"/>
<circle cx="640.9" cy="693.8" r="2.35" fill="#6a6a6a" stroke="#262626" stroke-width="1.0"/>
<circle cx="644.8" cy="700.3" r="2.35" fill="#6a6a6a" stroke="#262626" stroke-width="1.0"/>
<circle cx="642.5" cy="708.5" r="2.35" fill="#6a6a6a" stroke="#262626" stroke-width="1.0"/>
<circle cx="659.6" cy="654.4" r="2.45" fill="#eefbea" stroke="#4cc94c" stroke-width="0.85"/>
<circle cx="662.4" cy="653" r="2.45" fill="#eefbea" stroke="#4cc94c" stroke-width="0.85"/>
<circle cx="665.2" cy="654.8" r="2.45" fill="#eefbea" stroke="#4cc94c" stroke-width="0.85"/>
<circle cx="667.6" cy="656.4" r="2.45" fill="#eefbea" stroke="#4cc94c" stroke-width="0.85"/>
<circle cx="664" cy="657.4" r="2.45" fill="#eefbea" stroke="#4cc94c" stroke-width="0.85"/>
<circle cx="661.2" cy="656.6" r="2.45" fill="#eefbea" stroke="#4cc94c" stroke-width="0.85"/>
<circle cx="666.6" cy="653.6" r="2.45" fill="#eefbea" stroke="#4cc94c" stroke-width="0.85"/>
<line x1="643.5" y1="686.3" x2="643.5" y2="701.6" stroke="#777" stroke-width="0.9"/>
<line x1="640.2" y1="686.5" x2="646.2" y2="686.5" stroke="#777" stroke-width="0.9"/>
<line x1="640.2" y1="701.5" x2="646.2" y2="701.5" stroke="#777" stroke-width="0.9"/>
<line x1="636.7" y1="692.5" x2="649.7" y2="692.5" stroke="#777" stroke-width="0.9"/>
<line x1="678" y1="647.5" x2="692" y2="647.5" stroke="#777" stroke-width="0.9"/>
<circle cx="684.8" cy="638.5" r="2.35" fill="#e37c1d" stroke="#9a500d" stroke-width="0.95"/>
<circle cx="680.9" cy="645.7" r="2.35" fill="#e37c1d" stroke="#9a500d" stroke-width="0.95"/>
<circle cx="683.2" cy="647.3" r="2.35" fill="#e37c1d" stroke="#9a500d" stroke-width="0.95"/>
<circle cx="685.8" cy="650.6" r="2.35" fill="#e37c1d" stroke="#9a500d" stroke-width="0.95"/>
<circle cx="688.7" cy="652.8" r="2.35" fill="#e37c1d" stroke="#9a500d" stroke-width="0.95"/>
<circle cx="681.6" cy="647.3" r="2.35" fill="#e37c1d" stroke="#9a500d" stroke-width="0.95"/>
<line x1="645.8" y1="616.5" x2="681.6" y2="616.5" stroke="#222" stroke-width="0.9"/>
<text x="664.05" y="619.58" font-size="12" text-anchor="middle" fill="#111" font-weight="bold" letter-spacing="0.7">***</text>
<line x1="667.9" y1="630.5" x2="682.2" y2="630.5" stroke="#222" stroke-width="0.9"/>
<text x="675.4" y="633.28" font-size="12" text-anchor="middle" fill="#111" font-weight="bold" letter-spacing="0.7">***</text>
<line x1="648.1" y1="647.5" x2="663" y2="647.5" stroke="#222" stroke-width="0.9"/>
<text x="655.9" y="650.48" font-size="12" text-anchor="middle" fill="#111" font-weight="bold" letter-spacing="0.7">***</text>
<circle cx="736.2" cy="593" r="2.2" fill="#6a6a6a" stroke="#262626" stroke-width="1.0"/>
<text x="749.8" y="596.7" font-size="10.4" text-anchor="start" fill="#111" font-weight="bold">Con</text>
<circle cx="736.2" cy="610.9" r="2.2" fill="#eefbea" stroke="#4cc94c" stroke-width="0.85"/>
<text x="749.8" y="614.6" font-size="10.4" text-anchor="start" fill="#111" font-weight="bold">Fr</text>
<circle cx="736.2" cy="628.5" r="2.2" fill="#e37c1d" stroke="#9a500d" stroke-width="0.95"/>
<text x="749.8" y="632.2" font-size="10.4" text-anchor="start" fill="#111" font-weight="bold">WDF</text>
</svg>
</body></html>
